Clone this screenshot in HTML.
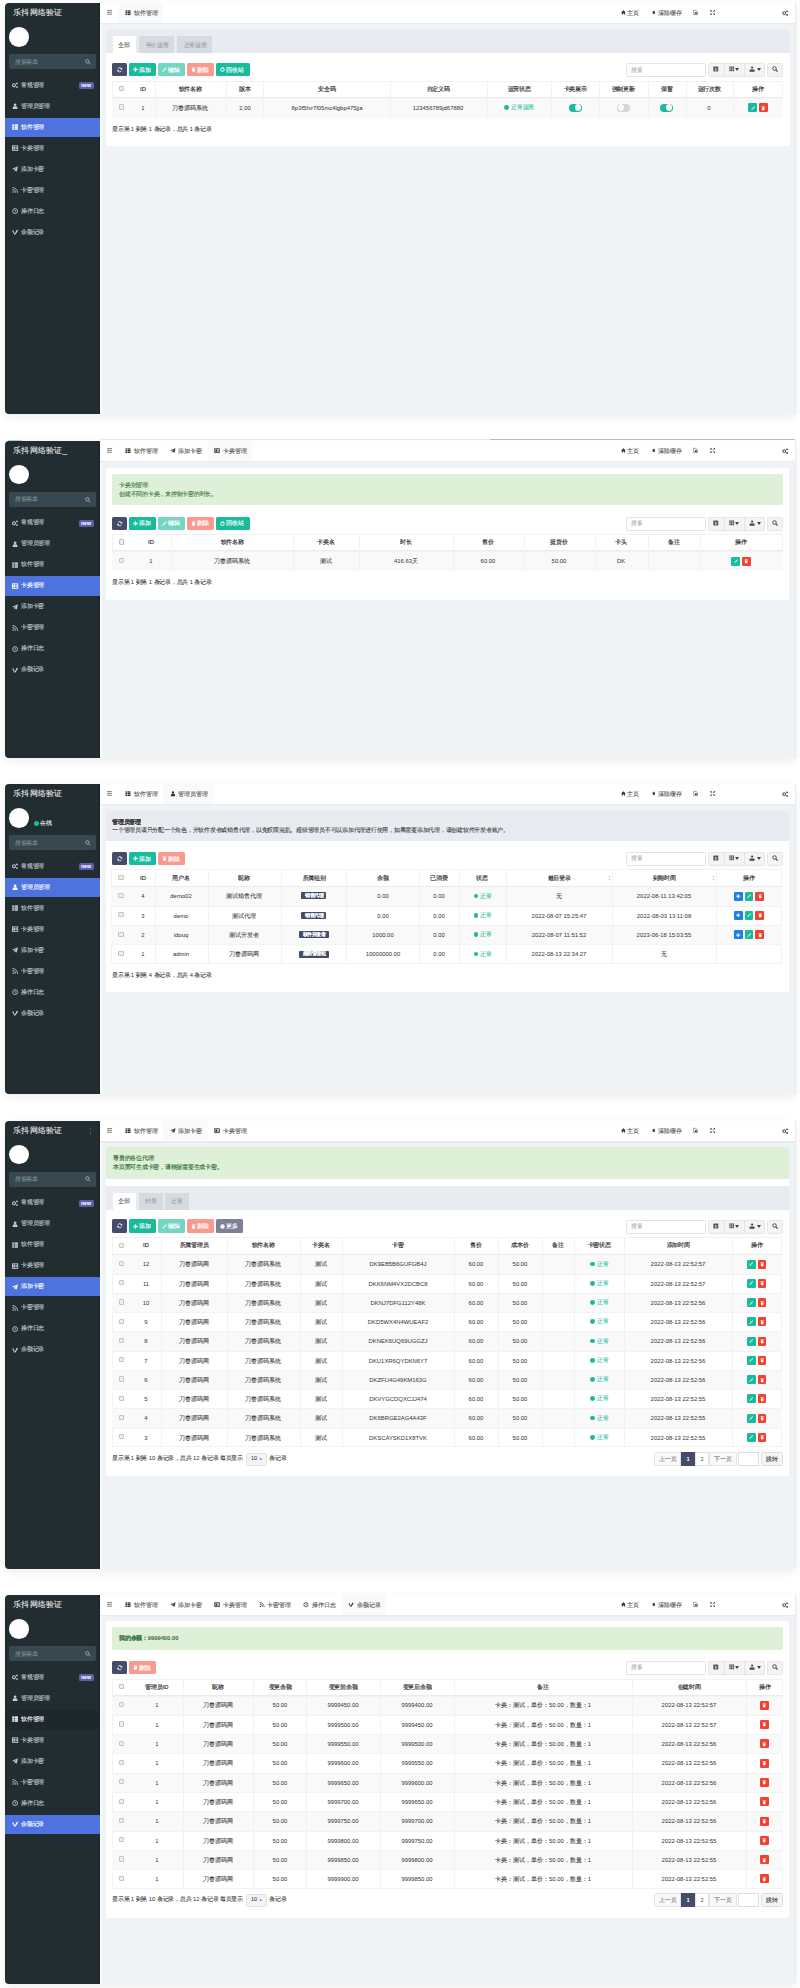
<!DOCTYPE html>
<html><head><meta charset="utf-8"><title>乐抖网络验证</title>
<style>
html,body{margin:0;padding:0;background:#fff;}
body{position:relative;width:800px;height:1988px;overflow:hidden;font-family:"Liberation Sans", sans-serif;}
div{position:absolute;}
.t{white-space:nowrap;line-height:1;transform:scale(0.25);transform-origin:0 0;}
.ct{white-space:nowrap;line-height:1;transform:translate(-50%,-50%) scale(0.25);}
.ic{position:absolute;overflow:visible;}
</style></head><body>
<div style="left:5.00px;top:3.00px;width:791.00px;height:411.00px;background:#f0f3f6;border-radius:4px;box-shadow:0 3px 10px rgba(0,0,0,0.07);"></div>
<div style="left:5.00px;top:3.00px;width:95.00px;height:411.00px;background:#222d32;border-radius:4px 0 0 4px;"></div>
<div style="left:98.60px;top:3.00px;width:1.40px;height:411.00px;background:#1a2226;"></div>
<div style="left:100.00px;top:22.50px;width:1.50px;height:391.50px;background:#fbfcfd;"></div>
<div style="left:100.00px;top:3.00px;width:696.00px;height:19.50px;background:#fff;border-radius:0 4px 0 0;"></div>
<div style="left:100.00px;top:22.50px;width:696.00px;height:1.50px;background:#e9ecef;"></div>
<div style="left:794.90px;top:3.00px;width:1.00px;height:411.00px;background:#e9ebed;"></div>
<div class="t" style="left:12.80px;top:8.30px;font-size:32.800px;color:#f4f4f4;font-weight:normal;-webkit-text-stroke:0.240px #fff;">乐抖网络验证</div>
<div style="left:9.00px;top:27.00px;width:20.00px;height:19.50px;background:#fff;border-radius:50%;"></div>
<div style="left:9.40px;top:54.20px;width:86.20px;height:15.00px;background:#374850;border-radius:2px;"></div>
<div class="t" style="left:15.00px;top:58.70px;font-size:22.400px;color:#7b8e96;font-weight:normal;-webkit-text-stroke:0.280px #7b8e96;">搜索菜单</div>
<svg class="ic" style="left:85.00px;top:58.80px;width:5.8px;height:5.8px;color:#aebbc1" viewBox="0 0 16 16"><circle cx="6.5" cy="6.5" r="4.6" fill="none" stroke="currentColor" stroke-width="2.2"/><path d="M10 10 L14.5 14.5" stroke="currentColor" stroke-width="2.6"/></svg>
<svg class="ic" style="left:12.30px;top:82.10px;width:6.2px;height:6.2px;color:#c2ced3" viewBox="0 0 16 16"><circle cx="5.2" cy="8.5" r="3.8" fill="none" stroke="currentColor" stroke-width="2.6"/><circle cx="12.8" cy="3.6" r="2.3" fill="currentColor"/><circle cx="12.8" cy="13.2" r="2.3" fill="currentColor"/></svg>
<div class="t" style="left:21.20px;top:81.60px;font-size:23.200px;color:#c2ced3;font-weight:normal;-webkit-text-stroke:0.400px #c2ced3;">常规管理</div>
<div style="left:78.70px;top:82.00px;width:15.20px;height:7.20px;background:#605ca8;border-radius:1.5px;"></div>
<div class="ct" style="left:86.30px;top:85.10px;font-size:20.800px;color:#fff;font-weight:bold;-webkit-text-stroke:0.280px #fff;"><span style="-webkit-text-stroke:0.140px #fff;">new</span></div>
<svg class="ic" style="left:12.30px;top:103.10px;width:6.2px;height:6.2px;color:#c2ced3" viewBox="0 0 16 16"><circle cx="8" cy="4.5" r="3.5" fill="currentColor"/><path d="M1.5 15.5 C1.5 10 4 8.5 8 8.5 C12 8.5 14.5 10 14.5 15.5Z" fill="currentColor"/></svg>
<div class="t" style="left:21.20px;top:102.60px;font-size:23.200px;color:#c2ced3;font-weight:normal;-webkit-text-stroke:0.400px #c2ced3;">管理员管理</div>
<div style="left:5.00px;top:117.60px;width:95.00px;height:19.20px;background:#4e73df;"></div>
<svg class="ic" style="left:12.30px;top:124.10px;width:6.2px;height:6.2px;color:#fff" viewBox="0 0 16 16"><rect x="0.5" y="1" width="4.5" height="4" fill="currentColor"/><rect x="0.5" y="6" width="4.5" height="4" fill="currentColor"/><rect x="0.5" y="11" width="4.5" height="4" fill="currentColor"/><rect x="6.5" y="1" width="9" height="4" fill="currentColor"/><rect x="6.5" y="6" width="9" height="4" fill="currentColor"/><rect x="6.5" y="11" width="9" height="4" fill="currentColor"/></svg>
<div class="t" style="left:21.20px;top:123.60px;font-size:23.200px;color:#fff;font-weight:normal;-webkit-text-stroke:0.400px #fff;">软件管理</div>
<svg class="ic" style="left:12.30px;top:145.10px;width:6.2px;height:6.2px;color:#c2ced3" viewBox="0 0 16 16"><rect x="1.2" y="2.2" width="13.6" height="11.6" fill="none" stroke="currentColor" stroke-width="2.4"/><rect x="3.5" y="4.5" width="4.5" height="7" fill="currentColor"/><rect x="9" y="5" width="4" height="2" fill="currentColor"/><rect x="9" y="8.5" width="4" height="2" fill="currentColor"/></svg>
<div class="t" style="left:21.20px;top:144.60px;font-size:23.200px;color:#c2ced3;font-weight:normal;-webkit-text-stroke:0.400px #c2ced3;">卡类管理</div>
<svg class="ic" style="left:12.30px;top:166.10px;width:6.2px;height:6.2px;color:#c2ced3" viewBox="0 0 16 16"><path d="M15.5 0.5 L0.5 7 L5 9 L13 3 L6.5 10 L6.5 15 L9 11.5 L12 15Z" fill="currentColor"/></svg>
<div class="t" style="left:21.20px;top:165.60px;font-size:23.200px;color:#c2ced3;font-weight:normal;-webkit-text-stroke:0.400px #c2ced3;">添加卡密</div>
<svg class="ic" style="left:12.30px;top:187.10px;width:6.2px;height:6.2px;color:#c2ced3" viewBox="0 0 16 16"><circle cx="3" cy="13" r="2" fill="currentColor"/><path d="M1 6.5 A8.5 8.5 0 0 1 9.5 15" fill="none" stroke="currentColor" stroke-width="2.2"/><path d="M1 1.5 A13.5 13.5 0 0 1 14.5 15" fill="none" stroke="currentColor" stroke-width="2.2"/></svg>
<div class="t" style="left:21.20px;top:186.60px;font-size:23.200px;color:#c2ced3;font-weight:normal;-webkit-text-stroke:0.400px #c2ced3;">卡密管理</div>
<svg class="ic" style="left:12.30px;top:208.10px;width:6.2px;height:6.2px;color:#c2ced3" viewBox="0 0 16 16"><circle cx="8" cy="8" r="6.3" fill="none" stroke="currentColor" stroke-width="2.2"/><path d="M8 4.5 V8.5 H10.5" fill="none" stroke="currentColor" stroke-width="1.8"/></svg>
<div class="t" style="left:21.20px;top:207.60px;font-size:23.200px;color:#c2ced3;font-weight:normal;-webkit-text-stroke:0.400px #c2ced3;">操作日志</div>
<svg class="ic" style="left:12.30px;top:229.10px;width:6.2px;height:6.2px;color:#c2ced3" viewBox="0 0 16 16"><path d="M0.5 4 L3.5 3.5 L7 12 L12 2.5 C14 1.5 16 3 15 5 L9 14 L5.5 14 Z" fill="currentColor"/></svg>
<div class="t" style="left:21.20px;top:228.60px;font-size:23.200px;color:#c2ced3;font-weight:normal;-webkit-text-stroke:0.400px #c2ced3;">余额记录</div>
<svg class="ic" style="left:107.00px;top:10.40px;width:5px;height:4.8px;color:#8c8c8c" viewBox="0 0 16 16"><rect x="0" y="0" width="16" height="3.6" fill="currentColor"/><rect x="0" y="6.2" width="16" height="3.6" fill="currentColor"/><rect x="0" y="12.4" width="16" height="3.6" fill="currentColor"/></svg>
<div style="left:118.50px;top:3.00px;width:44.60px;height:19.50px;background:#fafafa;"></div>
<svg class="ic" style="left:125.00px;top:10.00px;width:6px;height:5.4px;color:#333" viewBox="0 0 16 16"><rect x="0.5" y="1" width="4.5" height="4" fill="currentColor"/><rect x="0.5" y="6" width="4.5" height="4" fill="currentColor"/><rect x="0.5" y="11" width="4.5" height="4" fill="currentColor"/><rect x="6.5" y="1" width="9" height="4" fill="currentColor"/><rect x="6.5" y="6" width="9" height="4" fill="currentColor"/><rect x="6.5" y="11" width="9" height="4" fill="currentColor"/></svg>
<div class="t" style="left:133.50px;top:10.20px;font-size:23.600px;color:#4a4a4a;font-weight:normal;-webkit-text-stroke:0.360px #4a4a4a;">软件管理</div>
<svg class="ic" style="left:620.80px;top:10.00px;width:4.8px;height:4.8px;color:#333" viewBox="0 0 16 16"><path d="M8 1 L0.5 8 L2.5 8 L2.5 15 L6.5 15 L6.5 10.5 L9.5 10.5 L9.5 15 L13.5 15 L13.5 8 L15.5 8Z" fill="currentColor"/></svg>
<div class="t" style="left:627.00px;top:10.20px;font-size:23.600px;color:#555;font-weight:normal;-webkit-text-stroke:0.400px #555;">主页</div>
<svg class="ic" style="left:651.70px;top:10.00px;width:3.6px;height:4.8px;color:#333" viewBox="0 0 16 16"><rect x="2" y="2" width="12" height="2.5" fill="currentColor"/><rect x="6" y="0.5" width="4" height="2" fill="currentColor"/><path d="M3 5.5 H13 L12 15.5 H4Z" fill="currentColor"/></svg>
<div class="t" style="left:658.00px;top:10.20px;font-size:23.600px;color:#555;font-weight:normal;-webkit-text-stroke:0.400px #555;">清除缓存</div>
<svg class="ic" style="left:693.00px;top:10.00px;width:5.2px;height:5px;color:#444" viewBox="0 0 16 16"><path d="M2 1 H10 L14 5 V15 H2Z" fill="none" stroke="currentColor" stroke-width="1.6"/><rect x="6" y="7" width="6" height="6" fill="currentColor"/></svg>
<svg class="ic" style="left:710.00px;top:10.00px;width:5.4px;height:5px;color:#222" viewBox="0 0 16 16"><path d="M1 1 L6 6 M15 1 L10 6 M1 15 L6 10 M15 15 L10 10" stroke="currentColor" stroke-width="2.2"/><path d="M1 1 H5.5 L1 5.5Z M15 1 H10.5 L15 5.5Z M1 15 H5.5 L1 10.5Z M15 15 H10.5 L15 10.5Z" fill="currentColor"/></svg>
<svg class="ic" style="left:782.40px;top:10.40px;width:6.6px;height:6px;color:#333" viewBox="0 0 16 16"><circle cx="5.2" cy="8.5" r="3.8" fill="none" stroke="currentColor" stroke-width="2.6"/><circle cx="12.8" cy="3.6" r="2.3" fill="currentColor"/><circle cx="12.8" cy="13.2" r="2.3" fill="currentColor"/></svg>
<div style="left:105.50px;top:29.50px;width:684.00px;height:116.00px;background:#fff;border-radius:2px;"></div>
<div style="left:105.50px;top:29.50px;width:684.00px;height:23.00px;background:#e8ecf0;border-radius:2px 2px 0 0;"></div>
<div style="left:112.50px;top:36.00px;width:23.50px;height:16.50px;background:#fff;"></div>
<div class="ct" style="left:124.25px;top:44.60px;font-size:23.000px;color:#555;font-weight:normal;-webkit-text-stroke:0.280px #555;">全部</div>
<div style="left:139.00px;top:36.00px;width:35.00px;height:16.50px;background:#d5dbe1;"></div>
<div class="ct" style="left:156.50px;top:44.60px;font-size:23.000px;color:#999;font-weight:normal;-webkit-text-stroke:0.280px #999;">停止运营</div>
<div style="left:177.00px;top:36.00px;width:35.00px;height:16.50px;background:#d5dbe1;"></div>
<div class="ct" style="left:194.50px;top:44.60px;font-size:23.000px;color:#999;font-weight:normal;-webkit-text-stroke:0.280px #999;">正常运营</div>
<div style="left:112.00px;top:63.00px;width:15.00px;height:13.20px;background:#444c69;border-radius:1.5px;"></div>
<svg class="ic" style="left:116.75px;top:66.85px;width:5.5px;height:5.5px;color:#fff" viewBox="0 0 16 16"><path d="M13.2 6 A5.5 5.5 0 0 0 3 5" fill="none" stroke="currentColor" stroke-width="2.5"/><path d="M2.8 10 A5.5 5.5 0 0 0 13 11" fill="none" stroke="currentColor" stroke-width="2.5"/><path d="M15 2 L15 8 L9.5 6.5Z M1 14 L1 8 L6.5 9.5Z" fill="currentColor"/></svg>
<div style="left:129.00px;top:63.00px;width:27.00px;height:13.20px;background:#18bc9c;border-radius:1.5px;"></div>
<svg class="ic" style="left:133.20px;top:67.10px;width:5px;height:5px;color:#fff" viewBox="0 0 16 16"><rect x="6" y="1" width="4" height="14" fill="currentColor"/><rect x="1" y="6" width="14" height="4" fill="currentColor"/></svg>
<div class="t" style="left:138.80px;top:66.70px;font-size:23.200px;color:#fff;font-weight:normal;-webkit-text-stroke:0.600px #fff;">添加</div>
<div style="left:158.00px;top:63.00px;width:27.00px;height:13.20px;background:#74d5c2;border-radius:1.5px;"></div>
<svg class="ic" style="left:162.20px;top:67.10px;width:5px;height:5px;color:#fff" viewBox="0 0 16 16"><path d="M13 1 L15 3 L4 14 L1 15 L2 12Z" fill="currentColor"/></svg>
<div class="t" style="left:167.80px;top:66.70px;font-size:23.200px;color:#fff;font-weight:normal;-webkit-text-stroke:0.600px #fff;">编辑</div>
<div style="left:187.00px;top:63.00px;width:27.00px;height:13.20px;background:#fa9a8f;border-radius:1.5px;"></div>
<svg class="ic" style="left:191.20px;top:67.10px;width:5px;height:5px;color:#fff" viewBox="0 0 16 16"><rect x="2" y="2" width="12" height="2.5" fill="currentColor"/><rect x="6" y="0.5" width="4" height="2" fill="currentColor"/><path d="M3 5.5 H13 L12 15.5 H4Z" fill="currentColor"/></svg>
<div class="t" style="left:196.80px;top:66.70px;font-size:23.200px;color:#fff;font-weight:normal;-webkit-text-stroke:0.600px #fff;">删除</div>
<div style="left:216.00px;top:63.00px;width:34.00px;height:13.20px;background:#18bc9c;border-radius:1.5px;"></div>
<svg class="ic" style="left:220.20px;top:67.10px;width:5px;height:5px;color:#fff" viewBox="0 0 16 16"><circle cx="8" cy="8.5" r="5.6" fill="none" stroke="currentColor" stroke-width="3.2"/><path d="M8 0.5 L13 3.5 L8 6.5Z" fill="currentColor"/></svg>
<div class="t" style="left:225.80px;top:66.70px;font-size:23.200px;color:#fff;font-weight:normal;-webkit-text-stroke:0.600px #fff;">回收站</div>
<div style="left:625.50px;top:63.00px;width:80.50px;height:14.00px;background:#fff;border:0.6px solid #e2e5e8;border-radius:1.5px;box-sizing:border-box;"></div>
<div class="t" style="left:631.00px;top:66.70px;font-size:22.400px;color:#aaa;font-weight:normal;-webkit-text-stroke:0.280px #aaa;">搜索</div>
<div style="left:708.20px;top:63.00px;width:56.50px;height:14.00px;background:#f4f4f4;border:0.6px solid #e6e6e6;border-radius:1.5px;box-sizing:border-box;"></div>
<div style="left:723.60px;top:63.00px;width:0.60px;height:14.00px;background:#e4e4e4;"></div>
<div style="left:744.40px;top:63.00px;width:0.60px;height:14.00px;background:#e4e4e4;"></div>
<svg class="ic" style="left:713.30px;top:66.20px;width:5.6px;height:6px;color:#555" viewBox="0 0 16 16"><rect x="1" y="1" width="14" height="14" fill="currentColor"/><rect x="6" y="5" width="4" height="8" fill="#ccc"/></svg>
<svg class="ic" style="left:728.70px;top:66.40px;width:5.4px;height:5.6px;color:#444" viewBox="0 0 16 16"><rect x="1" y="1" width="4" height="4" fill="currentColor"/><rect x="6" y="1" width="4" height="4" fill="currentColor"/><rect x="11" y="1" width="4" height="4" fill="currentColor"/><rect x="1" y="6" width="4" height="4" fill="currentColor"/><rect x="6" y="6" width="4" height="4" fill="currentColor"/><rect x="11" y="6" width="4" height="4" fill="currentColor"/><rect x="1" y="11" width="4" height="4" fill="currentColor"/><rect x="6" y="11" width="4" height="4" fill="currentColor"/><rect x="11" y="11" width="4" height="4" fill="currentColor"/></svg>
<svg class="ic" style="left:735.20px;top:68.00px;width:4px;height:3px;color:#444" viewBox="0 0 16 12"><path d="M0 0 H16 L8 12Z" fill="currentColor"/></svg>
<svg class="ic" style="left:748.90px;top:66.00px;width:6.2px;height:6px;color:#444" viewBox="0 0 16 16"><circle cx="8" cy="4" r="3" fill="currentColor"/><path d="M1 15 L2 9 H14 L15 15Z" fill="currentColor"/></svg>
<svg class="ic" style="left:756.80px;top:68.00px;width:4px;height:3px;color:#444" viewBox="0 0 16 12"><path d="M0 0 H16 L8 12Z" fill="currentColor"/></svg>
<div style="left:767.20px;top:63.00px;width:16.00px;height:14.00px;background:#f4f4f4;border:0.6px solid #e6e6e6;border-radius:1.5px;box-sizing:border-box;"></div>
<svg class="ic" style="left:771.90px;top:66.40px;width:6.2px;height:6.2px;color:#333" viewBox="0 0 16 16"><circle cx="6.5" cy="6.5" r="4.6" fill="none" stroke="currentColor" stroke-width="2.2"/><path d="M10 10 L14.5 14.5" stroke="currentColor" stroke-width="2.6"/></svg>
<div style="left:112.00px;top:81.00px;width:671.00px;height:36.50px;background:#fff;border:0.6px solid #f2f2f2;box-sizing:border-box;"></div>
<div style="left:112.00px;top:97.50px;width:671.00px;height:20.00px;background:#f9f9f9;"></div>
<div style="left:112.00px;top:97.50px;width:671.00px;height:0.60px;background:#f3f3f3;"></div>
<div style="left:112.00px;top:96.90px;width:671.00px;height:1.00px;background:#ebebeb;"></div>
<div style="left:154.50px;top:81.00px;width:0.60px;height:36.50px;background:#f2f2f2;"></div>
<div style="left:226.00px;top:81.00px;width:0.60px;height:36.50px;background:#f2f2f2;"></div>
<div style="left:263.00px;top:81.00px;width:0.60px;height:36.50px;background:#f2f2f2;"></div>
<div style="left:390.00px;top:81.00px;width:0.60px;height:36.50px;background:#f2f2f2;"></div>
<div style="left:486.50px;top:81.00px;width:0.60px;height:36.50px;background:#f2f2f2;"></div>
<div style="left:551.00px;top:81.00px;width:0.60px;height:36.50px;background:#f2f2f2;"></div>
<div style="left:599.40px;top:81.00px;width:0.60px;height:36.50px;background:#f2f2f2;"></div>
<div style="left:647.50px;top:81.00px;width:0.60px;height:36.50px;background:#f2f2f2;"></div>
<div style="left:685.60px;top:81.00px;width:0.60px;height:36.50px;background:#f2f2f2;"></div>
<div style="left:733.00px;top:81.00px;width:0.60px;height:36.50px;background:#f2f2f2;"></div>
<div style="left:118.65px;top:86.15px;width:5.20px;height:5.20px;background:#eeeeee;border:0.6px solid #c4c4c4;border-radius:1px;box-sizing:border-box;"></div>
<div class="ct" style="left:142.50px;top:88.95px;font-size:23.400px;color:#333;font-weight:normal;-webkit-text-stroke:0.680px #333;">ID</div>
<div class="ct" style="left:190.25px;top:88.95px;font-size:23.400px;color:#333;font-weight:normal;-webkit-text-stroke:0.680px #333;">软件名称</div>
<div class="ct" style="left:244.50px;top:88.95px;font-size:23.400px;color:#333;font-weight:normal;-webkit-text-stroke:0.680px #333;">版本</div>
<div class="ct" style="left:326.50px;top:88.95px;font-size:23.400px;color:#333;font-weight:normal;-webkit-text-stroke:0.680px #333;">安全码</div>
<div class="ct" style="left:438.25px;top:88.95px;font-size:23.400px;color:#333;font-weight:normal;-webkit-text-stroke:0.680px #333;">自定义码</div>
<div class="ct" style="left:518.75px;top:88.95px;font-size:23.400px;color:#333;font-weight:normal;-webkit-text-stroke:0.680px #333;">运营状态</div>
<div class="ct" style="left:575.20px;top:88.95px;font-size:23.400px;color:#333;font-weight:normal;-webkit-text-stroke:0.680px #333;">卡类展示</div>
<div class="ct" style="left:623.45px;top:88.95px;font-size:23.400px;color:#333;font-weight:normal;-webkit-text-stroke:0.680px #333;">强制更新</div>
<div class="ct" style="left:666.55px;top:88.95px;font-size:23.400px;color:#333;font-weight:normal;-webkit-text-stroke:0.680px #333;">弹窗</div>
<div class="ct" style="left:709.30px;top:88.95px;font-size:23.400px;color:#333;font-weight:normal;-webkit-text-stroke:0.680px #333;">运行次数</div>
<div class="ct" style="left:758.00px;top:88.95px;font-size:23.400px;color:#333;font-weight:normal;-webkit-text-stroke:0.680px #333;">操作</div>
<div style="left:118.65px;top:104.40px;width:5.20px;height:5.20px;background:#eeeeee;border:0.6px solid #c4c4c4;border-radius:1px;box-sizing:border-box;"></div>
<div class="ct" style="left:142.50px;top:107.80px;font-size:23.600px;color:#3a3a3a;font-weight:normal;-webkit-text-stroke:0.280px #3a3a3a;"><span style="-webkit-text-stroke:0.140px #3a3a3a;">1</span></div>
<div class="ct" style="left:190.25px;top:107.80px;font-size:23.600px;color:#3a3a3a;font-weight:normal;-webkit-text-stroke:0.280px #3a3a3a;">刀春源码系统</div>
<div class="ct" style="left:244.50px;top:107.80px;font-size:23.600px;color:#3a3a3a;font-weight:normal;-webkit-text-stroke:0.280px #3a3a3a;"><span style="-webkit-text-stroke:0.140px #3a3a3a;">2.00</span></div>
<div class="ct" style="left:326.50px;top:107.80px;font-size:23.600px;color:#3a3a3a;font-weight:normal;-webkit-text-stroke:0.280px #3a3a3a;"><span style="-webkit-text-stroke:0.140px #3a3a3a;">8p3f5fxr7f05mc4lgbp475jja</span></div>
<div class="ct" style="left:438.25px;top:107.80px;font-size:23.600px;color:#3a3a3a;font-weight:normal;-webkit-text-stroke:0.280px #3a3a3a;"><span style="-webkit-text-stroke:0.140px #3a3a3a;">123456789jd67880</span></div>
<div style="left:504.15px;top:105.10px;width:4.80px;height:4.80px;background:#18bc9c;border-radius:50%;"></div>
<div class="t" style="left:510.75px;top:104.20px;font-size:23.200px;color:#18bc9c;font-weight:normal;-webkit-text-stroke:0.320px #18bc9c;">正常运营</div>
<div style="left:568.80px;top:103.50px;width:12.80px;height:8.00px;background:#18bc9c;border-radius:4px;"></div>
<div style="left:574.50px;top:104.40px;width:6.20px;height:6.20px;background:#fff;border-radius:50%;box-shadow:0 0 0.5px rgba(0,0,0,0.3);"></div>
<div style="left:617.05px;top:103.50px;width:12.80px;height:8.00px;background:#d2d6de;border-radius:4px;"></div>
<div style="left:617.95px;top:104.40px;width:6.20px;height:6.20px;background:#fff;border-radius:50%;box-shadow:0 0 0.5px rgba(0,0,0,0.3);"></div>
<div style="left:660.15px;top:103.50px;width:12.80px;height:8.00px;background:#18bc9c;border-radius:4px;"></div>
<div style="left:665.85px;top:104.40px;width:6.20px;height:6.20px;background:#fff;border-radius:50%;box-shadow:0 0 0.5px rgba(0,0,0,0.3);"></div>
<div class="ct" style="left:709.30px;top:107.80px;font-size:23.600px;color:#3a3a3a;font-weight:normal;-webkit-text-stroke:0.280px #3a3a3a;"><span style="-webkit-text-stroke:0.140px #3a3a3a;">0</span></div>
<div style="left:748.30px;top:103.10px;width:8.80px;height:9.00px;background:#18bc9c;border-radius:1.2px;"></div>
<svg class="ic" style="left:750.60px;top:105.50px;width:4.4px;height:4.4px;color:#fff" viewBox="0 0 16 16"><path d="M13 1 L15 3 L4 14 L1 15 L2 12Z" fill="currentColor"/></svg>
<div style="left:758.90px;top:103.10px;width:8.80px;height:9.00px;background:#f3402f;border-radius:1.2px;"></div>
<svg class="ic" style="left:761.20px;top:105.50px;width:4.4px;height:4.4px;color:#fff" viewBox="0 0 16 16"><rect x="2" y="2" width="12" height="2.5" fill="currentColor"/><rect x="6" y="0.5" width="4" height="2" fill="currentColor"/><path d="M3 5.5 H13 L12 15.5 H4Z" fill="currentColor"/></svg>
<div class="t" style="left:112.20px;top:126.00px;font-size:23.000px;color:#333;font-weight:normal;-webkit-text-stroke:0.280px #333;">显示第<span style="-webkit-text-stroke:0.140px #333;"> 1 </span>到第<span style="-webkit-text-stroke:0.140px #333;"> 1 </span>条记录，总共<span style="-webkit-text-stroke:0.140px #333;"> 1 </span>条记录</div>
<div style="left:5.00px;top:440.75px;width:791.00px;height:317.50px;background:#f0f3f6;border-radius:4px;box-shadow:0 3px 10px rgba(0,0,0,0.07);"></div>
<div style="left:5.00px;top:440.75px;width:95.00px;height:317.50px;background:#222d32;border-radius:4px 0 0 4px;"></div>
<div style="left:98.60px;top:440.75px;width:1.40px;height:317.50px;background:#1a2226;"></div>
<div style="left:100.00px;top:460.95px;width:1.50px;height:297.30px;background:#fbfcfd;"></div>
<div style="left:100.00px;top:440.75px;width:696.00px;height:20.20px;background:#fff;border-radius:0 4px 0 0;"></div>
<div style="left:100.00px;top:460.95px;width:696.00px;height:1.50px;background:#e9ecef;"></div>
<div style="left:794.90px;top:440.75px;width:1.00px;height:317.50px;background:#e9ebed;"></div>
<div class="t" style="left:12.80px;top:446.05px;font-size:32.800px;color:#f4f4f4;font-weight:normal;-webkit-text-stroke:0.240px #fff;">乐抖网络验证<span style="-webkit-text-stroke:0.140px #f4f4f4;">_</span></div>
<div style="left:9.00px;top:464.75px;width:20.00px;height:19.50px;background:#fff;border-radius:50%;"></div>
<div style="left:9.40px;top:491.95px;width:86.20px;height:15.00px;background:#374850;border-radius:2px;"></div>
<div class="t" style="left:15.00px;top:496.45px;font-size:22.400px;color:#7b8e96;font-weight:normal;-webkit-text-stroke:0.280px #7b8e96;">搜索菜单</div>
<svg class="ic" style="left:85.00px;top:496.55px;width:5.8px;height:5.8px;color:#aebbc1" viewBox="0 0 16 16"><circle cx="6.5" cy="6.5" r="4.6" fill="none" stroke="currentColor" stroke-width="2.2"/><path d="M10 10 L14.5 14.5" stroke="currentColor" stroke-width="2.6"/></svg>
<svg class="ic" style="left:12.30px;top:519.85px;width:6.2px;height:6.2px;color:#c2ced3" viewBox="0 0 16 16"><circle cx="5.2" cy="8.5" r="3.8" fill="none" stroke="currentColor" stroke-width="2.6"/><circle cx="12.8" cy="3.6" r="2.3" fill="currentColor"/><circle cx="12.8" cy="13.2" r="2.3" fill="currentColor"/></svg>
<div class="t" style="left:21.20px;top:519.35px;font-size:23.200px;color:#c2ced3;font-weight:normal;-webkit-text-stroke:0.400px #c2ced3;">常规管理</div>
<div style="left:78.70px;top:519.75px;width:15.20px;height:7.20px;background:#605ca8;border-radius:1.5px;"></div>
<div class="ct" style="left:86.30px;top:522.85px;font-size:20.800px;color:#fff;font-weight:bold;-webkit-text-stroke:0.280px #fff;"><span style="-webkit-text-stroke:0.140px #fff;">new</span></div>
<svg class="ic" style="left:12.30px;top:540.85px;width:6.2px;height:6.2px;color:#c2ced3" viewBox="0 0 16 16"><circle cx="8" cy="4.5" r="3.5" fill="currentColor"/><path d="M1.5 15.5 C1.5 10 4 8.5 8 8.5 C12 8.5 14.5 10 14.5 15.5Z" fill="currentColor"/></svg>
<div class="t" style="left:21.20px;top:540.35px;font-size:23.200px;color:#c2ced3;font-weight:normal;-webkit-text-stroke:0.400px #c2ced3;">管理员管理</div>
<svg class="ic" style="left:12.30px;top:561.85px;width:6.2px;height:6.2px;color:#c2ced3" viewBox="0 0 16 16"><rect x="0.5" y="1" width="4.5" height="4" fill="currentColor"/><rect x="0.5" y="6" width="4.5" height="4" fill="currentColor"/><rect x="0.5" y="11" width="4.5" height="4" fill="currentColor"/><rect x="6.5" y="1" width="9" height="4" fill="currentColor"/><rect x="6.5" y="6" width="9" height="4" fill="currentColor"/><rect x="6.5" y="11" width="9" height="4" fill="currentColor"/></svg>
<div class="t" style="left:21.20px;top:561.35px;font-size:23.200px;color:#c2ced3;font-weight:normal;-webkit-text-stroke:0.400px #c2ced3;">软件管理</div>
<div style="left:5.00px;top:576.35px;width:95.00px;height:19.20px;background:#4e73df;"></div>
<svg class="ic" style="left:12.30px;top:582.85px;width:6.2px;height:6.2px;color:#fff" viewBox="0 0 16 16"><rect x="1.2" y="2.2" width="13.6" height="11.6" fill="none" stroke="currentColor" stroke-width="2.4"/><rect x="3.5" y="4.5" width="4.5" height="7" fill="currentColor"/><rect x="9" y="5" width="4" height="2" fill="currentColor"/><rect x="9" y="8.5" width="4" height="2" fill="currentColor"/></svg>
<div class="t" style="left:21.20px;top:582.35px;font-size:23.200px;color:#fff;font-weight:normal;-webkit-text-stroke:0.400px #fff;">卡类管理</div>
<svg class="ic" style="left:12.30px;top:603.85px;width:6.2px;height:6.2px;color:#c2ced3" viewBox="0 0 16 16"><path d="M15.5 0.5 L0.5 7 L5 9 L13 3 L6.5 10 L6.5 15 L9 11.5 L12 15Z" fill="currentColor"/></svg>
<div class="t" style="left:21.20px;top:603.35px;font-size:23.200px;color:#c2ced3;font-weight:normal;-webkit-text-stroke:0.400px #c2ced3;">添加卡密</div>
<svg class="ic" style="left:12.30px;top:624.85px;width:6.2px;height:6.2px;color:#c2ced3" viewBox="0 0 16 16"><circle cx="3" cy="13" r="2" fill="currentColor"/><path d="M1 6.5 A8.5 8.5 0 0 1 9.5 15" fill="none" stroke="currentColor" stroke-width="2.2"/><path d="M1 1.5 A13.5 13.5 0 0 1 14.5 15" fill="none" stroke="currentColor" stroke-width="2.2"/></svg>
<div class="t" style="left:21.20px;top:624.35px;font-size:23.200px;color:#c2ced3;font-weight:normal;-webkit-text-stroke:0.400px #c2ced3;">卡密管理</div>
<svg class="ic" style="left:12.30px;top:645.85px;width:6.2px;height:6.2px;color:#c2ced3" viewBox="0 0 16 16"><circle cx="8" cy="8" r="6.3" fill="none" stroke="currentColor" stroke-width="2.2"/><path d="M8 4.5 V8.5 H10.5" fill="none" stroke="currentColor" stroke-width="1.8"/></svg>
<div class="t" style="left:21.20px;top:645.35px;font-size:23.200px;color:#c2ced3;font-weight:normal;-webkit-text-stroke:0.400px #c2ced3;">操作日志</div>
<svg class="ic" style="left:12.30px;top:666.85px;width:6.2px;height:6.2px;color:#c2ced3" viewBox="0 0 16 16"><path d="M0.5 4 L3.5 3.5 L7 12 L12 2.5 C14 1.5 16 3 15 5 L9 14 L5.5 14 Z" fill="currentColor"/></svg>
<div class="t" style="left:21.20px;top:666.35px;font-size:23.200px;color:#c2ced3;font-weight:normal;-webkit-text-stroke:0.400px #c2ced3;">余额记录</div>
<div style="left:100.00px;top:439.40px;width:390.00px;height:1.00px;background:#e6e8ea;"></div>
<div style="left:490.00px;top:439.40px;width:305.00px;height:1.10px;background:#b9bdbf;"></div>
<div style="left:8.00px;top:439.80px;width:14.00px;height:1.30px;background:#c9cccd;"></div>
<svg class="ic" style="left:107.00px;top:448.15px;width:5px;height:4.8px;color:#8c8c8c" viewBox="0 0 16 16"><rect x="0" y="0" width="16" height="3.6" fill="currentColor"/><rect x="0" y="6.2" width="16" height="3.6" fill="currentColor"/><rect x="0" y="12.4" width="16" height="3.6" fill="currentColor"/></svg>
<svg class="ic" style="left:125.00px;top:447.75px;width:6px;height:5.4px;color:#333" viewBox="0 0 16 16"><rect x="0.5" y="1" width="4.5" height="4" fill="currentColor"/><rect x="0.5" y="6" width="4.5" height="4" fill="currentColor"/><rect x="0.5" y="11" width="4.5" height="4" fill="currentColor"/><rect x="6.5" y="1" width="9" height="4" fill="currentColor"/><rect x="6.5" y="6" width="9" height="4" fill="currentColor"/><rect x="6.5" y="11" width="9" height="4" fill="currentColor"/></svg>
<div class="t" style="left:133.50px;top:447.95px;font-size:23.600px;color:#4a4a4a;font-weight:normal;-webkit-text-stroke:0.360px #4a4a4a;">软件管理</div>
<svg class="ic" style="left:169.60px;top:447.75px;width:6px;height:5.4px;color:#333" viewBox="0 0 16 16"><path d="M15.5 0.5 L0.5 7 L5 9 L13 3 L6.5 10 L6.5 15 L9 11.5 L12 15Z" fill="currentColor"/></svg>
<div class="t" style="left:178.10px;top:447.95px;font-size:23.600px;color:#4a4a4a;font-weight:normal;-webkit-text-stroke:0.360px #4a4a4a;">添加卡密</div>
<div style="left:207.70px;top:440.75px;width:44.60px;height:19.50px;background:#fafafa;"></div>
<svg class="ic" style="left:214.20px;top:447.75px;width:6px;height:5.4px;color:#333" viewBox="0 0 16 16"><rect x="1.2" y="2.2" width="13.6" height="11.6" fill="none" stroke="currentColor" stroke-width="2.4"/><rect x="3.5" y="4.5" width="4.5" height="7" fill="currentColor"/><rect x="9" y="5" width="4" height="2" fill="currentColor"/><rect x="9" y="8.5" width="4" height="2" fill="currentColor"/></svg>
<div class="t" style="left:222.70px;top:447.95px;font-size:23.600px;color:#4a4a4a;font-weight:normal;-webkit-text-stroke:0.360px #4a4a4a;">卡类管理</div>
<svg class="ic" style="left:620.80px;top:447.75px;width:4.8px;height:4.8px;color:#333" viewBox="0 0 16 16"><path d="M8 1 L0.5 8 L2.5 8 L2.5 15 L6.5 15 L6.5 10.5 L9.5 10.5 L9.5 15 L13.5 15 L13.5 8 L15.5 8Z" fill="currentColor"/></svg>
<div class="t" style="left:627.00px;top:447.95px;font-size:23.600px;color:#555;font-weight:normal;-webkit-text-stroke:0.400px #555;">主页</div>
<svg class="ic" style="left:651.70px;top:447.75px;width:3.6px;height:4.8px;color:#333" viewBox="0 0 16 16"><rect x="2" y="2" width="12" height="2.5" fill="currentColor"/><rect x="6" y="0.5" width="4" height="2" fill="currentColor"/><path d="M3 5.5 H13 L12 15.5 H4Z" fill="currentColor"/></svg>
<div class="t" style="left:658.00px;top:447.95px;font-size:23.600px;color:#555;font-weight:normal;-webkit-text-stroke:0.400px #555;">清除缓存</div>
<svg class="ic" style="left:693.00px;top:447.75px;width:5.2px;height:5px;color:#444" viewBox="0 0 16 16"><path d="M2 1 H10 L14 5 V15 H2Z" fill="none" stroke="currentColor" stroke-width="1.6"/><rect x="6" y="7" width="6" height="6" fill="currentColor"/></svg>
<svg class="ic" style="left:710.00px;top:447.75px;width:5.4px;height:5px;color:#222" viewBox="0 0 16 16"><path d="M1 1 L6 6 M15 1 L10 6 M1 15 L6 10 M15 15 L10 10" stroke="currentColor" stroke-width="2.2"/><path d="M1 1 H5.5 L1 5.5Z M15 1 H10.5 L15 5.5Z M1 15 H5.5 L1 10.5Z M15 15 H10.5 L15 10.5Z" fill="currentColor"/></svg>
<svg class="ic" style="left:782.40px;top:448.15px;width:6.6px;height:6px;color:#333" viewBox="0 0 16 16"><circle cx="5.2" cy="8.5" r="3.8" fill="none" stroke="currentColor" stroke-width="2.6"/><circle cx="12.8" cy="3.6" r="2.3" fill="currentColor"/><circle cx="12.8" cy="13.2" r="2.3" fill="currentColor"/></svg>
<div style="left:106.00px;top:468.00px;width:683.00px;height:131.50px;background:#fff;border-radius:2px;"></div>
<div style="left:112.00px;top:474.00px;width:671.00px;height:31.00px;background:#dff0d8;border-radius:2px;"></div>
<div class="t" style="left:119.20px;top:482.40px;font-size:23.200px;color:#3c763d;font-weight:normal;-webkit-text-stroke:0.400px #3c763d;">卡类别管理<span style="-webkit-text-stroke:0.140px #3c763d;">:</span></div>
<div class="t" style="left:119.20px;top:490.80px;font-size:23.200px;color:#3c763d;font-weight:normal;-webkit-text-stroke:0.400px #3c763d;">创建不同的卡类，来控制卡密的时长。</div>
<div style="left:112.00px;top:516.75px;width:15.00px;height:13.20px;background:#444c69;border-radius:1.5px;"></div>
<svg class="ic" style="left:116.75px;top:520.60px;width:5.5px;height:5.5px;color:#fff" viewBox="0 0 16 16"><path d="M13.2 6 A5.5 5.5 0 0 0 3 5" fill="none" stroke="currentColor" stroke-width="2.5"/><path d="M2.8 10 A5.5 5.5 0 0 0 13 11" fill="none" stroke="currentColor" stroke-width="2.5"/><path d="M15 2 L15 8 L9.5 6.5Z M1 14 L1 8 L6.5 9.5Z" fill="currentColor"/></svg>
<div style="left:129.00px;top:516.75px;width:27.00px;height:13.20px;background:#18bc9c;border-radius:1.5px;"></div>
<svg class="ic" style="left:133.20px;top:520.85px;width:5px;height:5px;color:#fff" viewBox="0 0 16 16"><rect x="6" y="1" width="4" height="14" fill="currentColor"/><rect x="1" y="6" width="14" height="4" fill="currentColor"/></svg>
<div class="t" style="left:138.80px;top:520.45px;font-size:23.200px;color:#fff;font-weight:normal;-webkit-text-stroke:0.600px #fff;">添加</div>
<div style="left:158.00px;top:516.75px;width:27.00px;height:13.20px;background:#74d5c2;border-radius:1.5px;"></div>
<svg class="ic" style="left:162.20px;top:520.85px;width:5px;height:5px;color:#fff" viewBox="0 0 16 16"><path d="M13 1 L15 3 L4 14 L1 15 L2 12Z" fill="currentColor"/></svg>
<div class="t" style="left:167.80px;top:520.45px;font-size:23.200px;color:#fff;font-weight:normal;-webkit-text-stroke:0.600px #fff;">编辑</div>
<div style="left:187.00px;top:516.75px;width:27.00px;height:13.20px;background:#fa9a8f;border-radius:1.5px;"></div>
<svg class="ic" style="left:191.20px;top:520.85px;width:5px;height:5px;color:#fff" viewBox="0 0 16 16"><rect x="2" y="2" width="12" height="2.5" fill="currentColor"/><rect x="6" y="0.5" width="4" height="2" fill="currentColor"/><path d="M3 5.5 H13 L12 15.5 H4Z" fill="currentColor"/></svg>
<div class="t" style="left:196.80px;top:520.45px;font-size:23.200px;color:#fff;font-weight:normal;-webkit-text-stroke:0.600px #fff;">删除</div>
<div style="left:216.00px;top:516.75px;width:34.00px;height:13.20px;background:#18bc9c;border-radius:1.5px;"></div>
<svg class="ic" style="left:220.20px;top:520.85px;width:5px;height:5px;color:#fff" viewBox="0 0 16 16"><circle cx="8" cy="8.5" r="5.6" fill="none" stroke="currentColor" stroke-width="3.2"/><path d="M8 0.5 L13 3.5 L8 6.5Z" fill="currentColor"/></svg>
<div class="t" style="left:225.80px;top:520.45px;font-size:23.200px;color:#fff;font-weight:normal;-webkit-text-stroke:0.600px #fff;">回收站</div>
<div style="left:625.50px;top:516.50px;width:80.50px;height:14.00px;background:#fff;border:0.6px solid #e2e5e8;border-radius:1.5px;box-sizing:border-box;"></div>
<div class="t" style="left:631.00px;top:520.20px;font-size:22.400px;color:#aaa;font-weight:normal;-webkit-text-stroke:0.280px #aaa;">搜索</div>
<div style="left:708.20px;top:516.50px;width:56.50px;height:14.00px;background:#f4f4f4;border:0.6px solid #e6e6e6;border-radius:1.5px;box-sizing:border-box;"></div>
<div style="left:723.60px;top:516.50px;width:0.60px;height:14.00px;background:#e4e4e4;"></div>
<div style="left:744.40px;top:516.50px;width:0.60px;height:14.00px;background:#e4e4e4;"></div>
<svg class="ic" style="left:713.30px;top:519.70px;width:5.6px;height:6px;color:#555" viewBox="0 0 16 16"><rect x="1" y="1" width="14" height="14" fill="currentColor"/><rect x="6" y="5" width="4" height="8" fill="#ccc"/></svg>
<svg class="ic" style="left:728.70px;top:519.90px;width:5.4px;height:5.6px;color:#444" viewBox="0 0 16 16"><rect x="1" y="1" width="4" height="4" fill="currentColor"/><rect x="6" y="1" width="4" height="4" fill="currentColor"/><rect x="11" y="1" width="4" height="4" fill="currentColor"/><rect x="1" y="6" width="4" height="4" fill="currentColor"/><rect x="6" y="6" width="4" height="4" fill="currentColor"/><rect x="11" y="6" width="4" height="4" fill="currentColor"/><rect x="1" y="11" width="4" height="4" fill="currentColor"/><rect x="6" y="11" width="4" height="4" fill="currentColor"/><rect x="11" y="11" width="4" height="4" fill="currentColor"/></svg>
<svg class="ic" style="left:735.20px;top:521.50px;width:4px;height:3px;color:#444" viewBox="0 0 16 12"><path d="M0 0 H16 L8 12Z" fill="currentColor"/></svg>
<svg class="ic" style="left:748.90px;top:519.50px;width:6.2px;height:6px;color:#444" viewBox="0 0 16 16"><circle cx="8" cy="4" r="3" fill="currentColor"/><path d="M1 15 L2 9 H14 L15 15Z" fill="currentColor"/></svg>
<svg class="ic" style="left:756.80px;top:521.50px;width:4px;height:3px;color:#444" viewBox="0 0 16 12"><path d="M0 0 H16 L8 12Z" fill="currentColor"/></svg>
<div style="left:767.20px;top:516.50px;width:16.00px;height:14.00px;background:#f4f4f4;border:0.6px solid #e6e6e6;border-radius:1.5px;box-sizing:border-box;"></div>
<svg class="ic" style="left:771.90px;top:519.90px;width:6.2px;height:6.2px;color:#333" viewBox="0 0 16 16"><circle cx="6.5" cy="6.5" r="4.6" fill="none" stroke="currentColor" stroke-width="2.2"/><path d="M10 10 L14.5 14.5" stroke="currentColor" stroke-width="2.6"/></svg>
<div style="left:112.00px;top:534.00px;width:670.50px;height:37.00px;background:#fff;border:0.6px solid #f2f2f2;box-sizing:border-box;"></div>
<div style="left:112.00px;top:551.00px;width:670.50px;height:20.00px;background:#f9f9f9;"></div>
<div style="left:112.00px;top:551.00px;width:670.50px;height:0.60px;background:#f3f3f3;"></div>
<div style="left:112.00px;top:550.40px;width:670.50px;height:1.00px;background:#ebebeb;"></div>
<div style="left:171.00px;top:534.00px;width:0.60px;height:37.00px;background:#f2f2f2;"></div>
<div style="left:293.00px;top:534.00px;width:0.60px;height:37.00px;background:#f2f2f2;"></div>
<div style="left:359.00px;top:534.00px;width:0.60px;height:37.00px;background:#f2f2f2;"></div>
<div style="left:452.50px;top:534.00px;width:0.60px;height:37.00px;background:#f2f2f2;"></div>
<div style="left:524.00px;top:534.00px;width:0.60px;height:37.00px;background:#f2f2f2;"></div>
<div style="left:594.50px;top:534.00px;width:0.60px;height:37.00px;background:#f2f2f2;"></div>
<div style="left:647.80px;top:534.00px;width:0.60px;height:37.00px;background:#f2f2f2;"></div>
<div style="left:699.60px;top:534.00px;width:0.60px;height:37.00px;background:#f2f2f2;"></div>
<div style="left:118.90px;top:539.40px;width:5.20px;height:5.20px;background:#eeeeee;border:0.6px solid #c4c4c4;border-radius:1px;box-sizing:border-box;"></div>
<div class="ct" style="left:151.00px;top:542.20px;font-size:23.400px;color:#333;font-weight:normal;-webkit-text-stroke:0.680px #333;">ID</div>
<div class="ct" style="left:232.00px;top:542.20px;font-size:23.400px;color:#333;font-weight:normal;-webkit-text-stroke:0.680px #333;">软件名称</div>
<div class="ct" style="left:326.00px;top:542.20px;font-size:23.400px;color:#333;font-weight:normal;-webkit-text-stroke:0.680px #333;">卡类名</div>
<div class="ct" style="left:405.75px;top:542.20px;font-size:23.400px;color:#333;font-weight:normal;-webkit-text-stroke:0.680px #333;">时长</div>
<div class="ct" style="left:488.25px;top:542.20px;font-size:23.400px;color:#333;font-weight:normal;-webkit-text-stroke:0.680px #333;">售价</div>
<div class="ct" style="left:559.25px;top:542.20px;font-size:23.400px;color:#333;font-weight:normal;-webkit-text-stroke:0.680px #333;">提货价</div>
<div class="ct" style="left:621.15px;top:542.20px;font-size:23.400px;color:#333;font-weight:normal;-webkit-text-stroke:0.680px #333;">卡头</div>
<div class="ct" style="left:673.70px;top:542.20px;font-size:23.400px;color:#333;font-weight:normal;-webkit-text-stroke:0.680px #333;">备注</div>
<div class="ct" style="left:741.05px;top:542.20px;font-size:23.400px;color:#333;font-weight:normal;-webkit-text-stroke:0.680px #333;">操作</div>
<div style="left:118.90px;top:557.90px;width:5.20px;height:5.20px;background:#eeeeee;border:0.6px solid #c4c4c4;border-radius:1px;box-sizing:border-box;"></div>
<div class="ct" style="left:151.00px;top:561.30px;font-size:23.600px;color:#3a3a3a;font-weight:normal;-webkit-text-stroke:0.280px #3a3a3a;"><span style="-webkit-text-stroke:0.140px #3a3a3a;">1</span></div>
<div class="ct" style="left:232.00px;top:561.30px;font-size:23.600px;color:#3a3a3a;font-weight:normal;-webkit-text-stroke:0.280px #3a3a3a;">刀春源码系统</div>
<div class="ct" style="left:326.00px;top:561.30px;font-size:23.600px;color:#3a3a3a;font-weight:normal;-webkit-text-stroke:0.280px #3a3a3a;">测试</div>
<div class="ct" style="left:405.75px;top:561.30px;font-size:23.600px;color:#3a3a3a;font-weight:normal;-webkit-text-stroke:0.280px #3a3a3a;"><span style="-webkit-text-stroke:0.140px #3a3a3a;">416.63</span>天</div>
<div class="ct" style="left:488.25px;top:561.30px;font-size:23.600px;color:#3a3a3a;font-weight:normal;-webkit-text-stroke:0.280px #3a3a3a;"><span style="-webkit-text-stroke:0.140px #3a3a3a;">60.00</span></div>
<div class="ct" style="left:559.25px;top:561.30px;font-size:23.600px;color:#3a3a3a;font-weight:normal;-webkit-text-stroke:0.280px #3a3a3a;"><span style="-webkit-text-stroke:0.140px #3a3a3a;">50.00</span></div>
<div class="ct" style="left:621.15px;top:561.30px;font-size:23.600px;color:#3a3a3a;font-weight:normal;-webkit-text-stroke:0.280px #3a3a3a;"><span style="-webkit-text-stroke:0.140px #3a3a3a;">DK</span></div>
<div style="left:731.35px;top:556.60px;width:8.80px;height:9.00px;background:#18bc9c;border-radius:1.2px;"></div>
<svg class="ic" style="left:733.65px;top:559.00px;width:4.4px;height:4.4px;color:#fff" viewBox="0 0 16 16"><path d="M13 1 L15 3 L4 14 L1 15 L2 12Z" fill="currentColor"/></svg>
<div style="left:741.95px;top:556.60px;width:8.80px;height:9.00px;background:#f3402f;border-radius:1.2px;"></div>
<svg class="ic" style="left:744.25px;top:559.00px;width:4.4px;height:4.4px;color:#fff" viewBox="0 0 16 16"><rect x="2" y="2" width="12" height="2.5" fill="currentColor"/><rect x="6" y="0.5" width="4" height="2" fill="currentColor"/><path d="M3 5.5 H13 L12 15.5 H4Z" fill="currentColor"/></svg>
<div class="t" style="left:112.20px;top:579.30px;font-size:23.000px;color:#333;font-weight:normal;-webkit-text-stroke:0.280px #333;">显示第<span style="-webkit-text-stroke:0.140px #333;"> 1 </span>到第<span style="-webkit-text-stroke:0.140px #333;"> 1 </span>条记录，总共<span style="-webkit-text-stroke:0.140px #333;"> 1 </span>条记录</div>
<div style="left:5.00px;top:784.00px;width:791.00px;height:310.00px;background:#f0f3f6;border-radius:4px;box-shadow:0 3px 10px rgba(0,0,0,0.07);"></div>
<div style="left:5.00px;top:784.00px;width:95.00px;height:310.00px;background:#222d32;border-radius:4px 0 0 4px;"></div>
<div style="left:98.60px;top:784.00px;width:1.40px;height:310.00px;background:#1a2226;"></div>
<div style="left:100.00px;top:803.50px;width:1.50px;height:290.50px;background:#fbfcfd;"></div>
<div style="left:100.00px;top:784.00px;width:696.00px;height:19.50px;background:#fff;border-radius:0 4px 0 0;"></div>
<div style="left:100.00px;top:803.50px;width:696.00px;height:1.50px;background:#e9ecef;"></div>
<div style="left:794.90px;top:784.00px;width:1.00px;height:310.00px;background:#e9ebed;"></div>
<div class="t" style="left:12.80px;top:789.30px;font-size:32.800px;color:#f4f4f4;font-weight:normal;-webkit-text-stroke:0.240px #fff;">乐抖网络验证</div>
<div style="left:9.00px;top:808.00px;width:20.00px;height:19.50px;background:#fff;border-radius:50%;"></div>
<div style="left:33.50px;top:820.50px;width:5.00px;height:5.00px;background:#18bc9c;border-radius:50%;"></div>
<div class="t" style="left:40.00px;top:820.20px;font-size:24.000px;color:#fff;font-weight:normal;-webkit-text-stroke:0.280px #fff;">在线</div>
<div style="left:9.40px;top:835.20px;width:86.20px;height:15.00px;background:#374850;border-radius:2px;"></div>
<div class="t" style="left:15.00px;top:839.70px;font-size:22.400px;color:#7b8e96;font-weight:normal;-webkit-text-stroke:0.280px #7b8e96;">搜索菜单</div>
<svg class="ic" style="left:85.00px;top:839.80px;width:5.8px;height:5.8px;color:#aebbc1" viewBox="0 0 16 16"><circle cx="6.5" cy="6.5" r="4.6" fill="none" stroke="currentColor" stroke-width="2.2"/><path d="M10 10 L14.5 14.5" stroke="currentColor" stroke-width="2.6"/></svg>
<svg class="ic" style="left:12.30px;top:863.10px;width:6.2px;height:6.2px;color:#c2ced3" viewBox="0 0 16 16"><circle cx="5.2" cy="8.5" r="3.8" fill="none" stroke="currentColor" stroke-width="2.6"/><circle cx="12.8" cy="3.6" r="2.3" fill="currentColor"/><circle cx="12.8" cy="13.2" r="2.3" fill="currentColor"/></svg>
<div class="t" style="left:21.20px;top:862.60px;font-size:23.200px;color:#c2ced3;font-weight:normal;-webkit-text-stroke:0.400px #c2ced3;">常规管理</div>
<div style="left:78.70px;top:863.00px;width:15.20px;height:7.20px;background:#605ca8;border-radius:1.5px;"></div>
<div class="ct" style="left:86.30px;top:866.10px;font-size:20.800px;color:#fff;font-weight:bold;-webkit-text-stroke:0.280px #fff;"><span style="-webkit-text-stroke:0.140px #fff;">new</span></div>
<div style="left:5.00px;top:877.60px;width:95.00px;height:19.20px;background:#4e73df;"></div>
<svg class="ic" style="left:12.30px;top:884.10px;width:6.2px;height:6.2px;color:#fff" viewBox="0 0 16 16"><circle cx="8" cy="4.5" r="3.5" fill="currentColor"/><path d="M1.5 15.5 C1.5 10 4 8.5 8 8.5 C12 8.5 14.5 10 14.5 15.5Z" fill="currentColor"/></svg>
<div class="t" style="left:21.20px;top:883.60px;font-size:23.200px;color:#fff;font-weight:normal;-webkit-text-stroke:0.400px #fff;">管理员管理</div>
<svg class="ic" style="left:12.30px;top:905.10px;width:6.2px;height:6.2px;color:#c2ced3" viewBox="0 0 16 16"><rect x="0.5" y="1" width="4.5" height="4" fill="currentColor"/><rect x="0.5" y="6" width="4.5" height="4" fill="currentColor"/><rect x="0.5" y="11" width="4.5" height="4" fill="currentColor"/><rect x="6.5" y="1" width="9" height="4" fill="currentColor"/><rect x="6.5" y="6" width="9" height="4" fill="currentColor"/><rect x="6.5" y="11" width="9" height="4" fill="currentColor"/></svg>
<div class="t" style="left:21.20px;top:904.60px;font-size:23.200px;color:#c2ced3;font-weight:normal;-webkit-text-stroke:0.400px #c2ced3;">软件管理</div>
<svg class="ic" style="left:12.30px;top:926.10px;width:6.2px;height:6.2px;color:#c2ced3" viewBox="0 0 16 16"><rect x="1.2" y="2.2" width="13.6" height="11.6" fill="none" stroke="currentColor" stroke-width="2.4"/><rect x="3.5" y="4.5" width="4.5" height="7" fill="currentColor"/><rect x="9" y="5" width="4" height="2" fill="currentColor"/><rect x="9" y="8.5" width="4" height="2" fill="currentColor"/></svg>
<div class="t" style="left:21.20px;top:925.60px;font-size:23.200px;color:#c2ced3;font-weight:normal;-webkit-text-stroke:0.400px #c2ced3;">卡类管理</div>
<svg class="ic" style="left:12.30px;top:947.10px;width:6.2px;height:6.2px;color:#c2ced3" viewBox="0 0 16 16"><path d="M15.5 0.5 L0.5 7 L5 9 L13 3 L6.5 10 L6.5 15 L9 11.5 L12 15Z" fill="currentColor"/></svg>
<div class="t" style="left:21.20px;top:946.60px;font-size:23.200px;color:#c2ced3;font-weight:normal;-webkit-text-stroke:0.400px #c2ced3;">添加卡密</div>
<svg class="ic" style="left:12.30px;top:968.10px;width:6.2px;height:6.2px;color:#c2ced3" viewBox="0 0 16 16"><circle cx="3" cy="13" r="2" fill="currentColor"/><path d="M1 6.5 A8.5 8.5 0 0 1 9.5 15" fill="none" stroke="currentColor" stroke-width="2.2"/><path d="M1 1.5 A13.5 13.5 0 0 1 14.5 15" fill="none" stroke="currentColor" stroke-width="2.2"/></svg>
<div class="t" style="left:21.20px;top:967.60px;font-size:23.200px;color:#c2ced3;font-weight:normal;-webkit-text-stroke:0.400px #c2ced3;">卡密管理</div>
<svg class="ic" style="left:12.30px;top:989.10px;width:6.2px;height:6.2px;color:#c2ced3" viewBox="0 0 16 16"><circle cx="8" cy="8" r="6.3" fill="none" stroke="currentColor" stroke-width="2.2"/><path d="M8 4.5 V8.5 H10.5" fill="none" stroke="currentColor" stroke-width="1.8"/></svg>
<div class="t" style="left:21.20px;top:988.60px;font-size:23.200px;color:#c2ced3;font-weight:normal;-webkit-text-stroke:0.400px #c2ced3;">操作日志</div>
<svg class="ic" style="left:12.30px;top:1010.10px;width:6.2px;height:6.2px;color:#c2ced3" viewBox="0 0 16 16"><path d="M0.5 4 L3.5 3.5 L7 12 L12 2.5 C14 1.5 16 3 15 5 L9 14 L5.5 14 Z" fill="currentColor"/></svg>
<div class="t" style="left:21.20px;top:1009.60px;font-size:23.200px;color:#c2ced3;font-weight:normal;-webkit-text-stroke:0.400px #c2ced3;">余额记录</div>
<svg class="ic" style="left:107.00px;top:791.40px;width:5px;height:4.8px;color:#8c8c8c" viewBox="0 0 16 16"><rect x="0" y="0" width="16" height="3.6" fill="currentColor"/><rect x="0" y="6.2" width="16" height="3.6" fill="currentColor"/><rect x="0" y="12.4" width="16" height="3.6" fill="currentColor"/></svg>
<svg class="ic" style="left:125.00px;top:791.00px;width:6px;height:5.4px;color:#333" viewBox="0 0 16 16"><rect x="0.5" y="1" width="4.5" height="4" fill="currentColor"/><rect x="0.5" y="6" width="4.5" height="4" fill="currentColor"/><rect x="0.5" y="11" width="4.5" height="4" fill="currentColor"/><rect x="6.5" y="1" width="9" height="4" fill="currentColor"/><rect x="6.5" y="6" width="9" height="4" fill="currentColor"/><rect x="6.5" y="11" width="9" height="4" fill="currentColor"/></svg>
<div class="t" style="left:133.50px;top:791.20px;font-size:23.600px;color:#4a4a4a;font-weight:normal;-webkit-text-stroke:0.360px #4a4a4a;">软件管理</div>
<div style="left:163.10px;top:784.00px;width:50.50px;height:19.50px;background:#fafafa;"></div>
<svg class="ic" style="left:169.60px;top:791.00px;width:6px;height:5.4px;color:#333" viewBox="0 0 16 16"><circle cx="8" cy="4.5" r="3.5" fill="currentColor"/><path d="M1.5 15.5 C1.5 10 4 8.5 8 8.5 C12 8.5 14.5 10 14.5 15.5Z" fill="currentColor"/></svg>
<div class="t" style="left:178.10px;top:791.20px;font-size:23.600px;color:#4a4a4a;font-weight:normal;-webkit-text-stroke:0.360px #4a4a4a;">管理员管理</div>
<svg class="ic" style="left:620.80px;top:791.00px;width:4.8px;height:4.8px;color:#333" viewBox="0 0 16 16"><path d="M8 1 L0.5 8 L2.5 8 L2.5 15 L6.5 15 L6.5 10.5 L9.5 10.5 L9.5 15 L13.5 15 L13.5 8 L15.5 8Z" fill="currentColor"/></svg>
<div class="t" style="left:627.00px;top:791.20px;font-size:23.600px;color:#555;font-weight:normal;-webkit-text-stroke:0.400px #555;">主页</div>
<svg class="ic" style="left:651.70px;top:791.00px;width:3.6px;height:4.8px;color:#333" viewBox="0 0 16 16"><rect x="2" y="2" width="12" height="2.5" fill="currentColor"/><rect x="6" y="0.5" width="4" height="2" fill="currentColor"/><path d="M3 5.5 H13 L12 15.5 H4Z" fill="currentColor"/></svg>
<div class="t" style="left:658.00px;top:791.20px;font-size:23.600px;color:#555;font-weight:normal;-webkit-text-stroke:0.400px #555;">清除缓存</div>
<svg class="ic" style="left:693.00px;top:791.00px;width:5.2px;height:5px;color:#444" viewBox="0 0 16 16"><path d="M2 1 H10 L14 5 V15 H2Z" fill="none" stroke="currentColor" stroke-width="1.6"/><rect x="6" y="7" width="6" height="6" fill="currentColor"/></svg>
<svg class="ic" style="left:710.00px;top:791.00px;width:5.4px;height:5px;color:#222" viewBox="0 0 16 16"><path d="M1 1 L6 6 M15 1 L10 6 M1 15 L6 10 M15 15 L10 10" stroke="currentColor" stroke-width="2.2"/><path d="M1 1 H5.5 L1 5.5Z M15 1 H10.5 L15 5.5Z M1 15 H5.5 L1 10.5Z M15 15 H10.5 L15 10.5Z" fill="currentColor"/></svg>
<svg class="ic" style="left:782.40px;top:791.40px;width:6.6px;height:6px;color:#333" viewBox="0 0 16 16"><circle cx="5.2" cy="8.5" r="3.8" fill="none" stroke="currentColor" stroke-width="2.6"/><circle cx="12.8" cy="3.6" r="2.3" fill="currentColor"/><circle cx="12.8" cy="13.2" r="2.3" fill="currentColor"/></svg>
<div style="left:105.50px;top:811.00px;width:683.50px;height:181.00px;background:#fff;border-radius:2px;"></div>
<div style="left:105.50px;top:811.00px;width:683.50px;height:30.00px;background:#e8ecf0;border-radius:2px 2px 0 0;"></div>
<div class="t" style="left:112.00px;top:818.70px;font-size:23.200px;color:#333;font-weight:bold;-webkit-text-stroke:0.280px #333;">管理员管理</div>
<div class="t" style="left:112.00px;top:827.40px;font-size:23.400px;color:#333;font-weight:normal;-webkit-text-stroke:0.280px #333;">一个管理员请只分配一个角色，开软件发者或销售代理，以免权限混乱。超级管理员不可以添加代理进行使用，如果需要添加代理，请创建软件开发者账户。</div>
<div style="left:112.00px;top:852.00px;width:15.00px;height:13.20px;background:#444c69;border-radius:1.5px;"></div>
<svg class="ic" style="left:116.75px;top:855.85px;width:5.5px;height:5.5px;color:#fff" viewBox="0 0 16 16"><path d="M13.2 6 A5.5 5.5 0 0 0 3 5" fill="none" stroke="currentColor" stroke-width="2.5"/><path d="M2.8 10 A5.5 5.5 0 0 0 13 11" fill="none" stroke="currentColor" stroke-width="2.5"/><path d="M15 2 L15 8 L9.5 6.5Z M1 14 L1 8 L6.5 9.5Z" fill="currentColor"/></svg>
<div style="left:129.00px;top:852.00px;width:27.00px;height:13.20px;background:#18bc9c;border-radius:1.5px;"></div>
<svg class="ic" style="left:133.20px;top:856.10px;width:5px;height:5px;color:#fff" viewBox="0 0 16 16"><rect x="6" y="1" width="4" height="14" fill="currentColor"/><rect x="1" y="6" width="14" height="4" fill="currentColor"/></svg>
<div class="t" style="left:138.80px;top:855.70px;font-size:23.200px;color:#fff;font-weight:normal;-webkit-text-stroke:0.600px #fff;">添加</div>
<div style="left:158.00px;top:852.00px;width:27.00px;height:13.20px;background:#fa9a8f;border-radius:1.5px;"></div>
<svg class="ic" style="left:162.20px;top:856.10px;width:5px;height:5px;color:#fff" viewBox="0 0 16 16"><rect x="2" y="2" width="12" height="2.5" fill="currentColor"/><rect x="6" y="0.5" width="4" height="2" fill="currentColor"/><path d="M3 5.5 H13 L12 15.5 H4Z" fill="currentColor"/></svg>
<div class="t" style="left:167.80px;top:855.70px;font-size:23.200px;color:#fff;font-weight:normal;-webkit-text-stroke:0.600px #fff;">删除</div>
<div style="left:625.50px;top:851.50px;width:80.50px;height:14.00px;background:#fff;border:0.6px solid #e2e5e8;border-radius:1.5px;box-sizing:border-box;"></div>
<div class="t" style="left:631.00px;top:855.20px;font-size:22.400px;color:#aaa;font-weight:normal;-webkit-text-stroke:0.280px #aaa;">搜索</div>
<div style="left:708.20px;top:851.50px;width:56.50px;height:14.00px;background:#f4f4f4;border:0.6px solid #e6e6e6;border-radius:1.5px;box-sizing:border-box;"></div>
<div style="left:723.60px;top:851.50px;width:0.60px;height:14.00px;background:#e4e4e4;"></div>
<div style="left:744.40px;top:851.50px;width:0.60px;height:14.00px;background:#e4e4e4;"></div>
<svg class="ic" style="left:713.30px;top:854.70px;width:5.6px;height:6px;color:#555" viewBox="0 0 16 16"><rect x="1" y="1" width="14" height="14" fill="currentColor"/><rect x="6" y="5" width="4" height="8" fill="#ccc"/></svg>
<svg class="ic" style="left:728.70px;top:854.90px;width:5.4px;height:5.6px;color:#444" viewBox="0 0 16 16"><rect x="1" y="1" width="4" height="4" fill="currentColor"/><rect x="6" y="1" width="4" height="4" fill="currentColor"/><rect x="11" y="1" width="4" height="4" fill="currentColor"/><rect x="1" y="6" width="4" height="4" fill="currentColor"/><rect x="6" y="6" width="4" height="4" fill="currentColor"/><rect x="11" y="6" width="4" height="4" fill="currentColor"/><rect x="1" y="11" width="4" height="4" fill="currentColor"/><rect x="6" y="11" width="4" height="4" fill="currentColor"/><rect x="11" y="11" width="4" height="4" fill="currentColor"/></svg>
<svg class="ic" style="left:735.20px;top:856.50px;width:4px;height:3px;color:#444" viewBox="0 0 16 12"><path d="M0 0 H16 L8 12Z" fill="currentColor"/></svg>
<svg class="ic" style="left:748.90px;top:854.50px;width:6.2px;height:6px;color:#444" viewBox="0 0 16 16"><circle cx="8" cy="4" r="3" fill="currentColor"/><path d="M1 15 L2 9 H14 L15 15Z" fill="currentColor"/></svg>
<svg class="ic" style="left:756.80px;top:856.50px;width:4px;height:3px;color:#444" viewBox="0 0 16 12"><path d="M0 0 H16 L8 12Z" fill="currentColor"/></svg>
<div style="left:767.20px;top:851.50px;width:16.00px;height:14.00px;background:#f4f4f4;border:0.6px solid #e6e6e6;border-radius:1.5px;box-sizing:border-box;"></div>
<svg class="ic" style="left:771.90px;top:854.90px;width:6.2px;height:6.2px;color:#333" viewBox="0 0 16 16"><circle cx="6.5" cy="6.5" r="4.6" fill="none" stroke="currentColor" stroke-width="2.2"/><path d="M10 10 L14.5 14.5" stroke="currentColor" stroke-width="2.6"/></svg>
<div style="left:111.30px;top:869.40px;width:670.70px;height:94.30px;background:#fff;border:0.6px solid #f2f2f2;box-sizing:border-box;"></div>
<div style="left:111.30px;top:886.30px;width:670.70px;height:19.35px;background:#f9f9f9;"></div>
<div style="left:111.30px;top:886.30px;width:670.70px;height:0.60px;background:#f3f3f3;"></div>
<div style="left:111.30px;top:905.65px;width:670.70px;height:0.60px;background:#f3f3f3;"></div>
<div style="left:111.30px;top:925.00px;width:670.70px;height:19.35px;background:#f9f9f9;"></div>
<div style="left:111.30px;top:925.00px;width:670.70px;height:0.60px;background:#f3f3f3;"></div>
<div style="left:111.30px;top:944.35px;width:670.70px;height:0.60px;background:#f3f3f3;"></div>
<div style="left:111.30px;top:885.70px;width:670.70px;height:1.00px;background:#ebebeb;"></div>
<div style="left:154.80px;top:869.40px;width:0.60px;height:94.30px;background:#f2f2f2;"></div>
<div style="left:207.50px;top:869.40px;width:0.60px;height:94.30px;background:#f2f2f2;"></div>
<div style="left:280.70px;top:869.40px;width:0.60px;height:94.30px;background:#f2f2f2;"></div>
<div style="left:346.30px;top:869.40px;width:0.60px;height:94.30px;background:#f2f2f2;"></div>
<div style="left:419.00px;top:869.40px;width:0.60px;height:94.30px;background:#f2f2f2;"></div>
<div style="left:458.50px;top:869.40px;width:0.60px;height:94.30px;background:#f2f2f2;"></div>
<div style="left:506.00px;top:869.40px;width:0.60px;height:94.30px;background:#f2f2f2;"></div>
<div style="left:611.60px;top:869.40px;width:0.60px;height:94.30px;background:#f2f2f2;"></div>
<div style="left:716.00px;top:869.40px;width:0.60px;height:94.30px;background:#f2f2f2;"></div>
<div style="left:118.35px;top:874.75px;width:5.20px;height:5.20px;background:#eeeeee;border:0.6px solid #c4c4c4;border-radius:1px;box-sizing:border-box;"></div>
<div class="ct" style="left:142.70px;top:877.55px;font-size:23.400px;color:#333;font-weight:normal;-webkit-text-stroke:0.680px #333;">ID</div>
<div class="ct" style="left:181.15px;top:877.55px;font-size:23.400px;color:#333;font-weight:normal;-webkit-text-stroke:0.680px #333;">用户名</div>
<div class="ct" style="left:244.10px;top:877.55px;font-size:23.400px;color:#333;font-weight:normal;-webkit-text-stroke:0.680px #333;">昵称</div>
<div class="ct" style="left:313.50px;top:877.55px;font-size:23.400px;color:#333;font-weight:normal;-webkit-text-stroke:0.680px #333;">所属组别</div>
<div class="ct" style="left:382.65px;top:877.55px;font-size:23.400px;color:#333;font-weight:normal;-webkit-text-stroke:0.680px #333;">余额</div>
<div class="ct" style="left:438.75px;top:877.55px;font-size:23.400px;color:#333;font-weight:normal;-webkit-text-stroke:0.680px #333;">已消费</div>
<div class="ct" style="left:482.25px;top:877.55px;font-size:23.400px;color:#333;font-weight:normal;-webkit-text-stroke:0.680px #333;">状态</div>
<div class="ct" style="left:558.80px;top:877.55px;font-size:23.400px;color:#333;font-weight:normal;-webkit-text-stroke:0.680px #333;">最后登录</div>
<div class="ct" style="left:663.80px;top:877.55px;font-size:23.400px;color:#333;font-weight:normal;-webkit-text-stroke:0.680px #333;">到期时间</div>
<div class="ct" style="left:749.00px;top:877.55px;font-size:23.400px;color:#333;font-weight:normal;-webkit-text-stroke:0.680px #333;">操作</div>
<div style="left:118.35px;top:892.87px;width:5.20px;height:5.20px;background:#eeeeee;border:0.6px solid #c4c4c4;border-radius:1px;box-sizing:border-box;"></div>
<div class="ct" style="left:142.70px;top:896.27px;font-size:23.600px;color:#3a3a3a;font-weight:normal;-webkit-text-stroke:0.280px #3a3a3a;"><span style="-webkit-text-stroke:0.140px #3a3a3a;">4</span></div>
<div class="ct" style="left:181.15px;top:896.27px;font-size:23.600px;color:#3a3a3a;font-weight:normal;-webkit-text-stroke:0.280px #3a3a3a;"><span style="-webkit-text-stroke:0.140px #3a3a3a;">demo02</span></div>
<div class="ct" style="left:244.10px;top:896.27px;font-size:23.600px;color:#3a3a3a;font-weight:normal;-webkit-text-stroke:0.280px #3a3a3a;">测试销售代理</div>
<div style="left:301.10px;top:892.47px;width:24.80px;height:7.00px;background:#444c69;border-radius:1px;"></div>
<div class="ct" style="left:313.50px;top:896.27px;font-size:18.400px;color:#fff;font-weight:bold;-webkit-text-stroke:0.280px #fff;">销售代理</div>
<div class="ct" style="left:382.65px;top:896.27px;font-size:23.600px;color:#3a3a3a;font-weight:normal;-webkit-text-stroke:0.280px #3a3a3a;"><span style="-webkit-text-stroke:0.140px #3a3a3a;">0.00</span></div>
<div class="ct" style="left:438.75px;top:896.27px;font-size:23.600px;color:#3a3a3a;font-weight:normal;-webkit-text-stroke:0.280px #3a3a3a;"><span style="-webkit-text-stroke:0.140px #3a3a3a;">0.00</span></div>
<div style="left:473.65px;top:893.57px;width:4.80px;height:4.80px;background:#18bc9c;border-radius:50%;"></div>
<div class="t" style="left:480.25px;top:892.67px;font-size:23.200px;color:#18bc9c;font-weight:normal;-webkit-text-stroke:0.320px #18bc9c;">正常</div>
<div class="ct" style="left:558.80px;top:896.27px;font-size:23.600px;color:#3a3a3a;font-weight:normal;-webkit-text-stroke:0.280px #3a3a3a;">无</div>
<div class="ct" style="left:663.80px;top:896.27px;font-size:23.600px;color:#3a3a3a;font-weight:normal;-webkit-text-stroke:0.280px #3a3a3a;"><span style="-webkit-text-stroke:0.140px #3a3a3a;">2022-08-11 13:42:05</span></div>
<div style="left:734.00px;top:891.57px;width:8.80px;height:9.00px;background:#1d7fe9;border-radius:1.2px;"></div>
<svg class="ic" style="left:736.30px;top:893.97px;width:4.4px;height:4.4px;color:#fff" viewBox="0 0 16 16"><rect x="6" y="1" width="4" height="14" fill="currentColor"/><rect x="1" y="6" width="14" height="4" fill="currentColor"/></svg>
<div style="left:744.60px;top:891.57px;width:8.80px;height:9.00px;background:#18bc9c;border-radius:1.2px;"></div>
<svg class="ic" style="left:746.90px;top:893.97px;width:4.4px;height:4.4px;color:#fff" viewBox="0 0 16 16"><path d="M13 1 L15 3 L4 14 L1 15 L2 12Z" fill="currentColor"/></svg>
<div style="left:755.20px;top:891.57px;width:8.80px;height:9.00px;background:#f3402f;border-radius:1.2px;"></div>
<svg class="ic" style="left:757.50px;top:893.97px;width:4.4px;height:4.4px;color:#fff" viewBox="0 0 16 16"><rect x="2" y="2" width="12" height="2.5" fill="currentColor"/><rect x="6" y="0.5" width="4" height="2" fill="currentColor"/><path d="M3 5.5 H13 L12 15.5 H4Z" fill="currentColor"/></svg>
<div style="left:118.35px;top:912.22px;width:5.20px;height:5.20px;background:#eeeeee;border:0.6px solid #c4c4c4;border-radius:1px;box-sizing:border-box;"></div>
<div class="ct" style="left:142.70px;top:915.62px;font-size:23.600px;color:#3a3a3a;font-weight:normal;-webkit-text-stroke:0.280px #3a3a3a;"><span style="-webkit-text-stroke:0.140px #3a3a3a;">3</span></div>
<div class="ct" style="left:181.15px;top:915.62px;font-size:23.600px;color:#3a3a3a;font-weight:normal;-webkit-text-stroke:0.280px #3a3a3a;"><span style="-webkit-text-stroke:0.140px #3a3a3a;">demo</span></div>
<div class="ct" style="left:244.10px;top:915.62px;font-size:23.600px;color:#3a3a3a;font-weight:normal;-webkit-text-stroke:0.280px #3a3a3a;">测试代理</div>
<div style="left:301.10px;top:911.82px;width:24.80px;height:7.00px;background:#444c69;border-radius:1px;"></div>
<div class="ct" style="left:313.50px;top:915.62px;font-size:18.400px;color:#fff;font-weight:bold;-webkit-text-stroke:0.280px #fff;">销售代理</div>
<div class="ct" style="left:382.65px;top:915.62px;font-size:23.600px;color:#3a3a3a;font-weight:normal;-webkit-text-stroke:0.280px #3a3a3a;"><span style="-webkit-text-stroke:0.140px #3a3a3a;">0.00</span></div>
<div class="ct" style="left:438.75px;top:915.62px;font-size:23.600px;color:#3a3a3a;font-weight:normal;-webkit-text-stroke:0.280px #3a3a3a;"><span style="-webkit-text-stroke:0.140px #3a3a3a;">0.00</span></div>
<div style="left:473.65px;top:912.92px;width:4.80px;height:4.80px;background:#18bc9c;border-radius:50%;"></div>
<div class="t" style="left:480.25px;top:912.02px;font-size:23.200px;color:#18bc9c;font-weight:normal;-webkit-text-stroke:0.320px #18bc9c;">正常</div>
<div class="ct" style="left:558.80px;top:915.62px;font-size:23.600px;color:#3a3a3a;font-weight:normal;-webkit-text-stroke:0.280px #3a3a3a;"><span style="-webkit-text-stroke:0.140px #3a3a3a;">2022-08-07 15:25:47</span></div>
<div class="ct" style="left:663.80px;top:915.62px;font-size:23.600px;color:#3a3a3a;font-weight:normal;-webkit-text-stroke:0.280px #3a3a3a;"><span style="-webkit-text-stroke:0.140px #3a3a3a;">2022-08-03 13:11:08</span></div>
<div style="left:734.00px;top:910.92px;width:8.80px;height:9.00px;background:#1d7fe9;border-radius:1.2px;"></div>
<svg class="ic" style="left:736.30px;top:913.32px;width:4.4px;height:4.4px;color:#fff" viewBox="0 0 16 16"><rect x="6" y="1" width="4" height="14" fill="currentColor"/><rect x="1" y="6" width="14" height="4" fill="currentColor"/></svg>
<div style="left:744.60px;top:910.92px;width:8.80px;height:9.00px;background:#18bc9c;border-radius:1.2px;"></div>
<svg class="ic" style="left:746.90px;top:913.32px;width:4.4px;height:4.4px;color:#fff" viewBox="0 0 16 16"><path d="M13 1 L15 3 L4 14 L1 15 L2 12Z" fill="currentColor"/></svg>
<div style="left:755.20px;top:910.92px;width:8.80px;height:9.00px;background:#f3402f;border-radius:1.2px;"></div>
<svg class="ic" style="left:757.50px;top:913.32px;width:4.4px;height:4.4px;color:#fff" viewBox="0 0 16 16"><rect x="2" y="2" width="12" height="2.5" fill="currentColor"/><rect x="6" y="0.5" width="4" height="2" fill="currentColor"/><path d="M3 5.5 H13 L12 15.5 H4Z" fill="currentColor"/></svg>
<div style="left:118.35px;top:931.57px;width:5.20px;height:5.20px;background:#eeeeee;border:0.6px solid #c4c4c4;border-radius:1px;box-sizing:border-box;"></div>
<div class="ct" style="left:142.70px;top:934.97px;font-size:23.600px;color:#3a3a3a;font-weight:normal;-webkit-text-stroke:0.280px #3a3a3a;"><span style="-webkit-text-stroke:0.140px #3a3a3a;">2</span></div>
<div class="ct" style="left:181.15px;top:934.97px;font-size:23.600px;color:#3a3a3a;font-weight:normal;-webkit-text-stroke:0.280px #3a3a3a;"><span style="-webkit-text-stroke:0.140px #3a3a3a;">idouq</span></div>
<div class="ct" style="left:244.10px;top:934.97px;font-size:23.600px;color:#3a3a3a;font-weight:normal;-webkit-text-stroke:0.280px #3a3a3a;">测试开发者</div>
<div style="left:298.50px;top:931.17px;width:30.00px;height:7.00px;background:#444c69;border-radius:1px;"></div>
<div class="ct" style="left:313.50px;top:934.97px;font-size:18.400px;color:#fff;font-weight:bold;-webkit-text-stroke:0.280px #fff;">软件开发者</div>
<div class="ct" style="left:382.65px;top:934.97px;font-size:23.600px;color:#3a3a3a;font-weight:normal;-webkit-text-stroke:0.280px #3a3a3a;"><span style="-webkit-text-stroke:0.140px #3a3a3a;">1000.00</span></div>
<div class="ct" style="left:438.75px;top:934.97px;font-size:23.600px;color:#3a3a3a;font-weight:normal;-webkit-text-stroke:0.280px #3a3a3a;"><span style="-webkit-text-stroke:0.140px #3a3a3a;">0.00</span></div>
<div style="left:473.65px;top:932.27px;width:4.80px;height:4.80px;background:#18bc9c;border-radius:50%;"></div>
<div class="t" style="left:480.25px;top:931.37px;font-size:23.200px;color:#18bc9c;font-weight:normal;-webkit-text-stroke:0.320px #18bc9c;">正常</div>
<div class="ct" style="left:558.80px;top:934.97px;font-size:23.600px;color:#3a3a3a;font-weight:normal;-webkit-text-stroke:0.280px #3a3a3a;"><span style="-webkit-text-stroke:0.140px #3a3a3a;">2022-08-07 11:51:52</span></div>
<div class="ct" style="left:663.80px;top:934.97px;font-size:23.600px;color:#3a3a3a;font-weight:normal;-webkit-text-stroke:0.280px #3a3a3a;"><span style="-webkit-text-stroke:0.140px #3a3a3a;">2023-06-18 15:03:55</span></div>
<div style="left:734.00px;top:930.27px;width:8.80px;height:9.00px;background:#1d7fe9;border-radius:1.2px;"></div>
<svg class="ic" style="left:736.30px;top:932.67px;width:4.4px;height:4.4px;color:#fff" viewBox="0 0 16 16"><rect x="6" y="1" width="4" height="14" fill="currentColor"/><rect x="1" y="6" width="14" height="4" fill="currentColor"/></svg>
<div style="left:744.60px;top:930.27px;width:8.80px;height:9.00px;background:#18bc9c;border-radius:1.2px;"></div>
<svg class="ic" style="left:746.90px;top:932.67px;width:4.4px;height:4.4px;color:#fff" viewBox="0 0 16 16"><path d="M13 1 L15 3 L4 14 L1 15 L2 12Z" fill="currentColor"/></svg>
<div style="left:755.20px;top:930.27px;width:8.80px;height:9.00px;background:#f3402f;border-radius:1.2px;"></div>
<svg class="ic" style="left:757.50px;top:932.67px;width:4.4px;height:4.4px;color:#fff" viewBox="0 0 16 16"><rect x="2" y="2" width="12" height="2.5" fill="currentColor"/><rect x="6" y="0.5" width="4" height="2" fill="currentColor"/><path d="M3 5.5 H13 L12 15.5 H4Z" fill="currentColor"/></svg>
<div style="left:118.35px;top:950.92px;width:5.20px;height:5.20px;background:#eeeeee;border:0.6px solid #c4c4c4;border-radius:1px;box-sizing:border-box;"></div>
<div class="ct" style="left:142.70px;top:954.32px;font-size:23.600px;color:#3a3a3a;font-weight:normal;-webkit-text-stroke:0.280px #3a3a3a;"><span style="-webkit-text-stroke:0.140px #3a3a3a;">1</span></div>
<div class="ct" style="left:181.15px;top:954.32px;font-size:23.600px;color:#3a3a3a;font-weight:normal;-webkit-text-stroke:0.280px #3a3a3a;"><span style="-webkit-text-stroke:0.140px #3a3a3a;">admin</span></div>
<div class="ct" style="left:244.10px;top:954.32px;font-size:23.600px;color:#3a3a3a;font-weight:normal;-webkit-text-stroke:0.280px #3a3a3a;">刀春源码网</div>
<div style="left:298.50px;top:950.52px;width:30.00px;height:7.00px;background:#444c69;border-radius:1px;"></div>
<div class="ct" style="left:313.50px;top:954.32px;font-size:18.400px;color:#fff;font-weight:bold;-webkit-text-stroke:0.280px #fff;">超级管理组</div>
<div class="ct" style="left:382.65px;top:954.32px;font-size:23.600px;color:#3a3a3a;font-weight:normal;-webkit-text-stroke:0.280px #3a3a3a;"><span style="-webkit-text-stroke:0.140px #3a3a3a;">10000000.00</span></div>
<div class="ct" style="left:438.75px;top:954.32px;font-size:23.600px;color:#3a3a3a;font-weight:normal;-webkit-text-stroke:0.280px #3a3a3a;"><span style="-webkit-text-stroke:0.140px #3a3a3a;">0.00</span></div>
<div style="left:473.65px;top:951.62px;width:4.80px;height:4.80px;background:#18bc9c;border-radius:50%;"></div>
<div class="t" style="left:480.25px;top:950.72px;font-size:23.200px;color:#18bc9c;font-weight:normal;-webkit-text-stroke:0.320px #18bc9c;">正常</div>
<div class="ct" style="left:558.80px;top:954.32px;font-size:23.600px;color:#3a3a3a;font-weight:normal;-webkit-text-stroke:0.280px #3a3a3a;"><span style="-webkit-text-stroke:0.140px #3a3a3a;">2022-08-13 22:34:27</span></div>
<div class="ct" style="left:663.80px;top:954.32px;font-size:23.600px;color:#3a3a3a;font-weight:normal;-webkit-text-stroke:0.280px #3a3a3a;">无</div>
<svg class="ic" style="left:607.50px;top:874.50px;width:3px;height:6px;color:#ccc" viewBox="0 0 8 16"><path d="M1 6 L4 1 L7 6Z M1 10 L4 15 L7 10Z" fill="currentColor"/></svg>
<svg class="ic" style="left:712.00px;top:874.50px;width:3px;height:6px;color:#ccc" viewBox="0 0 8 16"><path d="M1 6 L4 1 L7 6Z M1 10 L4 15 L7 10Z" fill="currentColor"/></svg>
<div class="t" style="left:112.20px;top:972.10px;font-size:23.000px;color:#333;font-weight:normal;-webkit-text-stroke:0.280px #333;">显示第<span style="-webkit-text-stroke:0.140px #333;"> 1 </span>到第<span style="-webkit-text-stroke:0.140px #333;"> 4 </span>条记录，总共<span style="-webkit-text-stroke:0.140px #333;"> 4 </span>条记录</div>
<div style="left:5.00px;top:1120.50px;width:791.00px;height:448.50px;background:#f0f3f6;border-radius:4px;box-shadow:0 3px 10px rgba(0,0,0,0.07);"></div>
<div style="left:5.00px;top:1120.50px;width:95.00px;height:448.50px;background:#222d32;border-radius:4px 0 0 4px;"></div>
<div style="left:98.60px;top:1120.50px;width:1.40px;height:448.50px;background:#1a2226;"></div>
<div style="left:100.00px;top:1141.00px;width:1.50px;height:428.00px;background:#fbfcfd;"></div>
<div style="left:100.00px;top:1120.50px;width:696.00px;height:20.50px;background:#fff;border-radius:0 4px 0 0;"></div>
<div style="left:100.00px;top:1141.00px;width:696.00px;height:1.50px;background:#e9ecef;"></div>
<div style="left:794.90px;top:1120.50px;width:1.00px;height:448.50px;background:#e9ebed;"></div>
<div class="t" style="left:12.80px;top:1125.80px;font-size:32.800px;color:#f4f4f4;font-weight:normal;-webkit-text-stroke:0.240px #fff;">乐抖网络验证</div>
<div style="left:9.00px;top:1144.50px;width:20.00px;height:19.50px;background:#fff;border-radius:50%;"></div>
<div style="left:9.40px;top:1171.70px;width:86.20px;height:15.00px;background:#374850;border-radius:2px;"></div>
<div class="t" style="left:15.00px;top:1176.20px;font-size:22.400px;color:#7b8e96;font-weight:normal;-webkit-text-stroke:0.280px #7b8e96;">搜索菜单</div>
<svg class="ic" style="left:85.00px;top:1176.30px;width:5.8px;height:5.8px;color:#aebbc1" viewBox="0 0 16 16"><circle cx="6.5" cy="6.5" r="4.6" fill="none" stroke="currentColor" stroke-width="2.2"/><path d="M10 10 L14.5 14.5" stroke="currentColor" stroke-width="2.6"/></svg>
<svg class="ic" style="left:12.30px;top:1199.60px;width:6.2px;height:6.2px;color:#c2ced3" viewBox="0 0 16 16"><circle cx="5.2" cy="8.5" r="3.8" fill="none" stroke="currentColor" stroke-width="2.6"/><circle cx="12.8" cy="3.6" r="2.3" fill="currentColor"/><circle cx="12.8" cy="13.2" r="2.3" fill="currentColor"/></svg>
<div class="t" style="left:21.20px;top:1199.10px;font-size:23.200px;color:#c2ced3;font-weight:normal;-webkit-text-stroke:0.400px #c2ced3;">常规管理</div>
<div style="left:78.70px;top:1199.50px;width:15.20px;height:7.20px;background:#605ca8;border-radius:1.5px;"></div>
<div class="ct" style="left:86.30px;top:1202.60px;font-size:20.800px;color:#fff;font-weight:bold;-webkit-text-stroke:0.280px #fff;"><span style="-webkit-text-stroke:0.140px #fff;">new</span></div>
<svg class="ic" style="left:12.30px;top:1220.60px;width:6.2px;height:6.2px;color:#c2ced3" viewBox="0 0 16 16"><circle cx="8" cy="4.5" r="3.5" fill="currentColor"/><path d="M1.5 15.5 C1.5 10 4 8.5 8 8.5 C12 8.5 14.5 10 14.5 15.5Z" fill="currentColor"/></svg>
<div class="t" style="left:21.20px;top:1220.10px;font-size:23.200px;color:#c2ced3;font-weight:normal;-webkit-text-stroke:0.400px #c2ced3;">管理员管理</div>
<svg class="ic" style="left:12.30px;top:1241.60px;width:6.2px;height:6.2px;color:#c2ced3" viewBox="0 0 16 16"><rect x="0.5" y="1" width="4.5" height="4" fill="currentColor"/><rect x="0.5" y="6" width="4.5" height="4" fill="currentColor"/><rect x="0.5" y="11" width="4.5" height="4" fill="currentColor"/><rect x="6.5" y="1" width="9" height="4" fill="currentColor"/><rect x="6.5" y="6" width="9" height="4" fill="currentColor"/><rect x="6.5" y="11" width="9" height="4" fill="currentColor"/></svg>
<div class="t" style="left:21.20px;top:1241.10px;font-size:23.200px;color:#c2ced3;font-weight:normal;-webkit-text-stroke:0.400px #c2ced3;">软件管理</div>
<svg class="ic" style="left:12.30px;top:1262.60px;width:6.2px;height:6.2px;color:#c2ced3" viewBox="0 0 16 16"><rect x="1.2" y="2.2" width="13.6" height="11.6" fill="none" stroke="currentColor" stroke-width="2.4"/><rect x="3.5" y="4.5" width="4.5" height="7" fill="currentColor"/><rect x="9" y="5" width="4" height="2" fill="currentColor"/><rect x="9" y="8.5" width="4" height="2" fill="currentColor"/></svg>
<div class="t" style="left:21.20px;top:1262.10px;font-size:23.200px;color:#c2ced3;font-weight:normal;-webkit-text-stroke:0.400px #c2ced3;">卡类管理</div>
<div style="left:5.00px;top:1277.10px;width:95.00px;height:19.20px;background:#4e73df;"></div>
<svg class="ic" style="left:12.30px;top:1283.60px;width:6.2px;height:6.2px;color:#fff" viewBox="0 0 16 16"><path d="M15.5 0.5 L0.5 7 L5 9 L13 3 L6.5 10 L6.5 15 L9 11.5 L12 15Z" fill="currentColor"/></svg>
<div class="t" style="left:21.20px;top:1283.10px;font-size:23.200px;color:#fff;font-weight:normal;-webkit-text-stroke:0.400px #fff;">添加卡密</div>
<svg class="ic" style="left:12.30px;top:1304.60px;width:6.2px;height:6.2px;color:#c2ced3" viewBox="0 0 16 16"><circle cx="3" cy="13" r="2" fill="currentColor"/><path d="M1 6.5 A8.5 8.5 0 0 1 9.5 15" fill="none" stroke="currentColor" stroke-width="2.2"/><path d="M1 1.5 A13.5 13.5 0 0 1 14.5 15" fill="none" stroke="currentColor" stroke-width="2.2"/></svg>
<div class="t" style="left:21.20px;top:1304.10px;font-size:23.200px;color:#c2ced3;font-weight:normal;-webkit-text-stroke:0.400px #c2ced3;">卡密管理</div>
<svg class="ic" style="left:12.30px;top:1325.60px;width:6.2px;height:6.2px;color:#c2ced3" viewBox="0 0 16 16"><circle cx="8" cy="8" r="6.3" fill="none" stroke="currentColor" stroke-width="2.2"/><path d="M8 4.5 V8.5 H10.5" fill="none" stroke="currentColor" stroke-width="1.8"/></svg>
<div class="t" style="left:21.20px;top:1325.10px;font-size:23.200px;color:#c2ced3;font-weight:normal;-webkit-text-stroke:0.400px #c2ced3;">操作日志</div>
<svg class="ic" style="left:12.30px;top:1346.60px;width:6.2px;height:6.2px;color:#c2ced3" viewBox="0 0 16 16"><path d="M0.5 4 L3.5 3.5 L7 12 L12 2.5 C14 1.5 16 3 15 5 L9 14 L5.5 14 Z" fill="currentColor"/></svg>
<div class="t" style="left:21.20px;top:1346.10px;font-size:23.200px;color:#c2ced3;font-weight:normal;-webkit-text-stroke:0.400px #c2ced3;">余额记录</div>
<svg class="ic" style="left:107.00px;top:1127.90px;width:5px;height:4.8px;color:#8c8c8c" viewBox="0 0 16 16"><rect x="0" y="0" width="16" height="3.6" fill="currentColor"/><rect x="0" y="6.2" width="16" height="3.6" fill="currentColor"/><rect x="0" y="12.4" width="16" height="3.6" fill="currentColor"/></svg>
<svg class="ic" style="left:125.00px;top:1127.50px;width:6px;height:5.4px;color:#333" viewBox="0 0 16 16"><rect x="0.5" y="1" width="4.5" height="4" fill="currentColor"/><rect x="0.5" y="6" width="4.5" height="4" fill="currentColor"/><rect x="0.5" y="11" width="4.5" height="4" fill="currentColor"/><rect x="6.5" y="1" width="9" height="4" fill="currentColor"/><rect x="6.5" y="6" width="9" height="4" fill="currentColor"/><rect x="6.5" y="11" width="9" height="4" fill="currentColor"/></svg>
<div class="t" style="left:133.50px;top:1127.70px;font-size:23.600px;color:#4a4a4a;font-weight:normal;-webkit-text-stroke:0.360px #4a4a4a;">软件管理</div>
<div style="left:163.10px;top:1120.50px;width:44.60px;height:19.50px;background:#fafafa;"></div>
<svg class="ic" style="left:169.60px;top:1127.50px;width:6px;height:5.4px;color:#333" viewBox="0 0 16 16"><path d="M15.5 0.5 L0.5 7 L5 9 L13 3 L6.5 10 L6.5 15 L9 11.5 L12 15Z" fill="currentColor"/></svg>
<div class="t" style="left:178.10px;top:1127.70px;font-size:23.600px;color:#4a4a4a;font-weight:normal;-webkit-text-stroke:0.360px #4a4a4a;">添加卡密</div>
<svg class="ic" style="left:214.20px;top:1127.50px;width:6px;height:5.4px;color:#333" viewBox="0 0 16 16"><rect x="1.2" y="2.2" width="13.6" height="11.6" fill="none" stroke="currentColor" stroke-width="2.4"/><rect x="3.5" y="4.5" width="4.5" height="7" fill="currentColor"/><rect x="9" y="5" width="4" height="2" fill="currentColor"/><rect x="9" y="8.5" width="4" height="2" fill="currentColor"/></svg>
<div class="t" style="left:222.70px;top:1127.70px;font-size:23.600px;color:#4a4a4a;font-weight:normal;-webkit-text-stroke:0.360px #4a4a4a;">卡类管理</div>
<svg class="ic" style="left:620.80px;top:1127.50px;width:4.8px;height:4.8px;color:#333" viewBox="0 0 16 16"><path d="M8 1 L0.5 8 L2.5 8 L2.5 15 L6.5 15 L6.5 10.5 L9.5 10.5 L9.5 15 L13.5 15 L13.5 8 L15.5 8Z" fill="currentColor"/></svg>
<div class="t" style="left:627.00px;top:1127.70px;font-size:23.600px;color:#555;font-weight:normal;-webkit-text-stroke:0.400px #555;">主页</div>
<svg class="ic" style="left:651.70px;top:1127.50px;width:3.6px;height:4.8px;color:#333" viewBox="0 0 16 16"><rect x="2" y="2" width="12" height="2.5" fill="currentColor"/><rect x="6" y="0.5" width="4" height="2" fill="currentColor"/><path d="M3 5.5 H13 L12 15.5 H4Z" fill="currentColor"/></svg>
<div class="t" style="left:658.00px;top:1127.70px;font-size:23.600px;color:#555;font-weight:normal;-webkit-text-stroke:0.400px #555;">清除缓存</div>
<svg class="ic" style="left:693.00px;top:1127.50px;width:5.2px;height:5px;color:#444" viewBox="0 0 16 16"><path d="M2 1 H10 L14 5 V15 H2Z" fill="none" stroke="currentColor" stroke-width="1.6"/><rect x="6" y="7" width="6" height="6" fill="currentColor"/></svg>
<svg class="ic" style="left:710.00px;top:1127.50px;width:5.4px;height:5px;color:#222" viewBox="0 0 16 16"><path d="M1 1 L6 6 M15 1 L10 6 M1 15 L6 10 M15 15 L10 10" stroke="currentColor" stroke-width="2.2"/><path d="M1 1 H5.5 L1 5.5Z M15 1 H10.5 L15 5.5Z M1 15 H5.5 L1 10.5Z M15 15 H10.5 L15 10.5Z" fill="currentColor"/></svg>
<svg class="ic" style="left:782.40px;top:1127.90px;width:6.6px;height:6px;color:#333" viewBox="0 0 16 16"><circle cx="5.2" cy="8.5" r="3.8" fill="none" stroke="currentColor" stroke-width="2.6"/><circle cx="12.8" cy="3.6" r="2.3" fill="currentColor"/><circle cx="12.8" cy="13.2" r="2.3" fill="currentColor"/></svg>
<div style="left:90.30px;top:1127.70px;width:0.90px;height:1.30px;background:#4f5a5f;"></div>
<div style="left:90.30px;top:1130.00px;width:0.90px;height:1.30px;background:#4f5a5f;"></div>
<div style="left:90.30px;top:1132.30px;width:0.90px;height:1.30px;background:#4f5a5f;"></div>
<div style="left:106.00px;top:1147.00px;width:683.00px;height:328.50px;background:#fff;border-radius:2px;"></div>
<div style="left:106.00px;top:1147.00px;width:683.00px;height:31.50px;background:#dff0d8;border-radius:2px;"></div>
<div class="t" style="left:112.80px;top:1154.80px;font-size:23.200px;color:#3c763d;font-weight:normal;-webkit-text-stroke:0.640px #3c763d;">尊贵的各位代理<span style="-webkit-text-stroke:0.140px #3c763d;">:</span></div>
<div class="t" style="left:112.80px;top:1164.40px;font-size:23.200px;color:#3c763d;font-weight:normal;-webkit-text-stroke:0.640px #3c763d;">本页面可生成卡密，请根据需要生成卡密。</div>
<div style="left:106.00px;top:1186.00px;width:683.00px;height:23.50px;background:#e8ecf0;"></div>
<div style="left:112.50px;top:1192.50px;width:23.50px;height:17.00px;background:#fff;"></div>
<div class="ct" style="left:124.25px;top:1201.30px;font-size:23.000px;color:#555;font-weight:normal;-webkit-text-stroke:0.280px #555;">全部</div>
<div style="left:139.00px;top:1192.50px;width:24.00px;height:17.00px;background:#d5dbe1;"></div>
<div class="ct" style="left:151.00px;top:1201.30px;font-size:23.000px;color:#999;font-weight:normal;-webkit-text-stroke:0.280px #999;">封禁</div>
<div style="left:165.00px;top:1192.50px;width:24.00px;height:17.00px;background:#d5dbe1;"></div>
<div class="ct" style="left:177.00px;top:1201.30px;font-size:23.000px;color:#999;font-weight:normal;-webkit-text-stroke:0.280px #999;">正常</div>
<div style="left:112.00px;top:1219.40px;width:15.00px;height:13.20px;background:#444c69;border-radius:1.5px;"></div>
<svg class="ic" style="left:116.75px;top:1223.25px;width:5.5px;height:5.5px;color:#fff" viewBox="0 0 16 16"><path d="M13.2 6 A5.5 5.5 0 0 0 3 5" fill="none" stroke="currentColor" stroke-width="2.5"/><path d="M2.8 10 A5.5 5.5 0 0 0 13 11" fill="none" stroke="currentColor" stroke-width="2.5"/><path d="M15 2 L15 8 L9.5 6.5Z M1 14 L1 8 L6.5 9.5Z" fill="currentColor"/></svg>
<div style="left:129.00px;top:1219.40px;width:27.00px;height:13.20px;background:#18bc9c;border-radius:1.5px;"></div>
<svg class="ic" style="left:133.20px;top:1223.50px;width:5px;height:5px;color:#fff" viewBox="0 0 16 16"><rect x="6" y="1" width="4" height="14" fill="currentColor"/><rect x="1" y="6" width="14" height="4" fill="currentColor"/></svg>
<div class="t" style="left:138.80px;top:1223.10px;font-size:23.200px;color:#fff;font-weight:normal;-webkit-text-stroke:0.600px #fff;">添加</div>
<div style="left:158.00px;top:1219.40px;width:27.00px;height:13.20px;background:#74d5c2;border-radius:1.5px;"></div>
<svg class="ic" style="left:162.20px;top:1223.50px;width:5px;height:5px;color:#fff" viewBox="0 0 16 16"><path d="M13 1 L15 3 L4 14 L1 15 L2 12Z" fill="currentColor"/></svg>
<div class="t" style="left:167.80px;top:1223.10px;font-size:23.200px;color:#fff;font-weight:normal;-webkit-text-stroke:0.600px #fff;">编辑</div>
<div style="left:187.00px;top:1219.40px;width:27.00px;height:13.20px;background:#fa9a8f;border-radius:1.5px;"></div>
<svg class="ic" style="left:191.20px;top:1223.50px;width:5px;height:5px;color:#fff" viewBox="0 0 16 16"><rect x="2" y="2" width="12" height="2.5" fill="currentColor"/><rect x="6" y="0.5" width="4" height="2" fill="currentColor"/><path d="M3 5.5 H13 L12 15.5 H4Z" fill="currentColor"/></svg>
<div class="t" style="left:196.80px;top:1223.10px;font-size:23.200px;color:#fff;font-weight:normal;-webkit-text-stroke:0.600px #fff;">删除</div>
<div style="left:216.00px;top:1219.40px;width:27.00px;height:13.20px;background:#7c8196;border-radius:1.5px;"></div>
<svg class="ic" style="left:220.20px;top:1223.50px;width:5px;height:5px;color:#fff" viewBox="0 0 16 16"><circle cx="8" cy="8" r="7" fill="currentColor"/><rect x="7" y="4" width="2" height="2" fill="#fff"/><rect x="7" y="7" width="2" height="5" fill="#fff"/></svg>
<div class="t" style="left:225.80px;top:1223.10px;font-size:23.200px;color:#fff;font-weight:normal;-webkit-text-stroke:0.600px #fff;">更多</div>
<div style="left:625.50px;top:1219.50px;width:80.50px;height:14.00px;background:#fff;border:0.6px solid #e2e5e8;border-radius:1.5px;box-sizing:border-box;"></div>
<div class="t" style="left:631.00px;top:1223.20px;font-size:22.400px;color:#aaa;font-weight:normal;-webkit-text-stroke:0.280px #aaa;">搜索</div>
<div style="left:708.20px;top:1219.50px;width:56.50px;height:14.00px;background:#f4f4f4;border:0.6px solid #e6e6e6;border-radius:1.5px;box-sizing:border-box;"></div>
<div style="left:723.60px;top:1219.50px;width:0.60px;height:14.00px;background:#e4e4e4;"></div>
<div style="left:744.40px;top:1219.50px;width:0.60px;height:14.00px;background:#e4e4e4;"></div>
<svg class="ic" style="left:713.30px;top:1222.70px;width:5.6px;height:6px;color:#555" viewBox="0 0 16 16"><rect x="1" y="1" width="14" height="14" fill="currentColor"/><rect x="6" y="5" width="4" height="8" fill="#ccc"/></svg>
<svg class="ic" style="left:728.70px;top:1222.90px;width:5.4px;height:5.6px;color:#444" viewBox="0 0 16 16"><rect x="1" y="1" width="4" height="4" fill="currentColor"/><rect x="6" y="1" width="4" height="4" fill="currentColor"/><rect x="11" y="1" width="4" height="4" fill="currentColor"/><rect x="1" y="6" width="4" height="4" fill="currentColor"/><rect x="6" y="6" width="4" height="4" fill="currentColor"/><rect x="11" y="6" width="4" height="4" fill="currentColor"/><rect x="1" y="11" width="4" height="4" fill="currentColor"/><rect x="6" y="11" width="4" height="4" fill="currentColor"/><rect x="11" y="11" width="4" height="4" fill="currentColor"/></svg>
<svg class="ic" style="left:735.20px;top:1224.50px;width:4px;height:3px;color:#444" viewBox="0 0 16 12"><path d="M0 0 H16 L8 12Z" fill="currentColor"/></svg>
<svg class="ic" style="left:748.90px;top:1222.50px;width:6.2px;height:6px;color:#444" viewBox="0 0 16 16"><circle cx="8" cy="4" r="3" fill="currentColor"/><path d="M1 15 L2 9 H14 L15 15Z" fill="currentColor"/></svg>
<svg class="ic" style="left:756.80px;top:1224.50px;width:4px;height:3px;color:#444" viewBox="0 0 16 12"><path d="M0 0 H16 L8 12Z" fill="currentColor"/></svg>
<div style="left:767.20px;top:1219.50px;width:16.00px;height:14.00px;background:#f4f4f4;border:0.6px solid #e6e6e6;border-radius:1.5px;box-sizing:border-box;"></div>
<svg class="ic" style="left:771.90px;top:1222.90px;width:6.2px;height:6.2px;color:#333" viewBox="0 0 16 16"><circle cx="6.5" cy="6.5" r="4.6" fill="none" stroke="currentColor" stroke-width="2.2"/><path d="M10 10 L14.5 14.5" stroke="currentColor" stroke-width="2.6"/></svg>
<div style="left:112.00px;top:1237.00px;width:670.00px;height:209.90px;background:#fff;border:0.6px solid #f2f2f2;box-sizing:border-box;"></div>
<div style="left:112.00px;top:1254.40px;width:670.00px;height:19.25px;background:#f9f9f9;"></div>
<div style="left:112.00px;top:1254.40px;width:670.00px;height:0.60px;background:#f3f3f3;"></div>
<div style="left:112.00px;top:1273.65px;width:670.00px;height:0.60px;background:#f3f3f3;"></div>
<div style="left:112.00px;top:1292.90px;width:670.00px;height:19.25px;background:#f9f9f9;"></div>
<div style="left:112.00px;top:1292.90px;width:670.00px;height:0.60px;background:#f3f3f3;"></div>
<div style="left:112.00px;top:1312.15px;width:670.00px;height:0.60px;background:#f3f3f3;"></div>
<div style="left:112.00px;top:1331.40px;width:670.00px;height:19.25px;background:#f9f9f9;"></div>
<div style="left:112.00px;top:1331.40px;width:670.00px;height:0.60px;background:#f3f3f3;"></div>
<div style="left:112.00px;top:1350.65px;width:670.00px;height:0.60px;background:#f3f3f3;"></div>
<div style="left:112.00px;top:1369.90px;width:670.00px;height:19.25px;background:#f9f9f9;"></div>
<div style="left:112.00px;top:1369.90px;width:670.00px;height:0.60px;background:#f3f3f3;"></div>
<div style="left:112.00px;top:1389.15px;width:670.00px;height:0.60px;background:#f3f3f3;"></div>
<div style="left:112.00px;top:1408.40px;width:670.00px;height:19.25px;background:#f9f9f9;"></div>
<div style="left:112.00px;top:1408.40px;width:670.00px;height:0.60px;background:#f3f3f3;"></div>
<div style="left:112.00px;top:1427.65px;width:670.00px;height:0.60px;background:#f3f3f3;"></div>
<div style="left:112.00px;top:1253.80px;width:670.00px;height:1.00px;background:#ebebeb;"></div>
<div style="left:161.00px;top:1237.00px;width:0.60px;height:209.90px;background:#f2f2f2;"></div>
<div style="left:226.50px;top:1237.00px;width:0.60px;height:209.90px;background:#f2f2f2;"></div>
<div style="left:300.00px;top:1237.00px;width:0.60px;height:209.90px;background:#f2f2f2;"></div>
<div style="left:341.90px;top:1237.00px;width:0.60px;height:209.90px;background:#f2f2f2;"></div>
<div style="left:454.40px;top:1237.00px;width:0.60px;height:209.90px;background:#f2f2f2;"></div>
<div style="left:498.00px;top:1237.00px;width:0.60px;height:209.90px;background:#f2f2f2;"></div>
<div style="left:542.00px;top:1237.00px;width:0.60px;height:209.90px;background:#f2f2f2;"></div>
<div style="left:573.75px;top:1237.00px;width:0.60px;height:209.90px;background:#f2f2f2;"></div>
<div style="left:623.60px;top:1237.00px;width:0.60px;height:209.90px;background:#f2f2f2;"></div>
<div style="left:731.60px;top:1237.00px;width:0.60px;height:209.90px;background:#f2f2f2;"></div>
<div style="left:118.55px;top:1242.60px;width:5.20px;height:5.20px;background:#eeeeee;border:0.6px solid #c4c4c4;border-radius:1px;box-sizing:border-box;"></div>
<div class="ct" style="left:145.65px;top:1245.40px;font-size:23.400px;color:#333;font-weight:normal;-webkit-text-stroke:0.680px #333;">ID</div>
<div class="ct" style="left:193.75px;top:1245.40px;font-size:23.400px;color:#333;font-weight:normal;-webkit-text-stroke:0.680px #333;">所属管理员</div>
<div class="ct" style="left:263.25px;top:1245.40px;font-size:23.400px;color:#333;font-weight:normal;-webkit-text-stroke:0.680px #333;">软件名称</div>
<div class="ct" style="left:320.95px;top:1245.40px;font-size:23.400px;color:#333;font-weight:normal;-webkit-text-stroke:0.680px #333;">卡类名</div>
<div class="ct" style="left:398.15px;top:1245.40px;font-size:23.400px;color:#333;font-weight:normal;-webkit-text-stroke:0.680px #333;">卡密</div>
<div class="ct" style="left:476.20px;top:1245.40px;font-size:23.400px;color:#333;font-weight:normal;-webkit-text-stroke:0.680px #333;">售价</div>
<div class="ct" style="left:520.00px;top:1245.40px;font-size:23.400px;color:#333;font-weight:normal;-webkit-text-stroke:0.680px #333;">成本价</div>
<div class="ct" style="left:557.88px;top:1245.40px;font-size:23.400px;color:#333;font-weight:normal;-webkit-text-stroke:0.680px #333;">备注</div>
<div class="ct" style="left:598.67px;top:1245.40px;font-size:23.400px;color:#333;font-weight:normal;-webkit-text-stroke:0.680px #333;">卡密状态</div>
<div class="ct" style="left:677.60px;top:1245.40px;font-size:23.400px;color:#333;font-weight:normal;-webkit-text-stroke:0.680px #333;">添加时间</div>
<div class="ct" style="left:756.80px;top:1245.40px;font-size:23.400px;color:#333;font-weight:normal;-webkit-text-stroke:0.680px #333;">操作</div>
<div style="left:118.55px;top:1260.93px;width:5.20px;height:5.20px;background:#eeeeee;border:0.6px solid #c4c4c4;border-radius:1px;box-sizing:border-box;"></div>
<div class="ct" style="left:145.65px;top:1264.33px;font-size:23.600px;color:#3a3a3a;font-weight:normal;-webkit-text-stroke:0.280px #3a3a3a;"><span style="-webkit-text-stroke:0.140px #3a3a3a;">12</span></div>
<div class="ct" style="left:193.75px;top:1264.33px;font-size:23.600px;color:#3a3a3a;font-weight:normal;-webkit-text-stroke:0.280px #3a3a3a;">刀春源码网</div>
<div class="ct" style="left:263.25px;top:1264.33px;font-size:23.600px;color:#3a3a3a;font-weight:normal;-webkit-text-stroke:0.280px #3a3a3a;">刀春源码系统</div>
<div class="ct" style="left:320.95px;top:1264.33px;font-size:23.600px;color:#3a3a3a;font-weight:normal;-webkit-text-stroke:0.280px #3a3a3a;">测试</div>
<div class="ct" style="left:398.15px;top:1264.33px;font-size:23.600px;color:#3a3a3a;font-weight:normal;-webkit-text-stroke:0.280px #3a3a3a;"><span style="-webkit-text-stroke:0.140px #3a3a3a;">DK9EB5B6GUFGB4J</span></div>
<div class="ct" style="left:476.20px;top:1264.33px;font-size:23.600px;color:#3a3a3a;font-weight:normal;-webkit-text-stroke:0.280px #3a3a3a;"><span style="-webkit-text-stroke:0.140px #3a3a3a;">60.00</span></div>
<div class="ct" style="left:520.00px;top:1264.33px;font-size:23.600px;color:#3a3a3a;font-weight:normal;-webkit-text-stroke:0.280px #3a3a3a;"><span style="-webkit-text-stroke:0.140px #3a3a3a;">50.00</span></div>
<div style="left:590.07px;top:1261.62px;width:4.80px;height:4.80px;background:#18bc9c;border-radius:50%;"></div>
<div class="t" style="left:596.67px;top:1260.73px;font-size:23.200px;color:#18bc9c;font-weight:normal;-webkit-text-stroke:0.320px #18bc9c;">正常</div>
<div class="ct" style="left:677.60px;top:1264.33px;font-size:23.600px;color:#3a3a3a;font-weight:normal;-webkit-text-stroke:0.280px #3a3a3a;"><span style="-webkit-text-stroke:0.140px #3a3a3a;">2022-08-13 22:52:57</span></div>
<div style="left:747.10px;top:1259.62px;width:8.80px;height:9.00px;background:#18bc9c;border-radius:1.2px;"></div>
<svg class="ic" style="left:749.40px;top:1262.03px;width:4.4px;height:4.4px;color:#fff" viewBox="0 0 16 16"><path d="M13 1 L15 3 L4 14 L1 15 L2 12Z" fill="currentColor"/></svg>
<div style="left:757.70px;top:1259.62px;width:8.80px;height:9.00px;background:#f3402f;border-radius:1.2px;"></div>
<svg class="ic" style="left:760.00px;top:1262.03px;width:4.4px;height:4.4px;color:#fff" viewBox="0 0 16 16"><rect x="2" y="2" width="12" height="2.5" fill="currentColor"/><rect x="6" y="0.5" width="4" height="2" fill="currentColor"/><path d="M3 5.5 H13 L12 15.5 H4Z" fill="currentColor"/></svg>
<div style="left:118.55px;top:1280.18px;width:5.20px;height:5.20px;background:#eeeeee;border:0.6px solid #c4c4c4;border-radius:1px;box-sizing:border-box;"></div>
<div class="ct" style="left:145.65px;top:1283.58px;font-size:23.600px;color:#3a3a3a;font-weight:normal;-webkit-text-stroke:0.280px #3a3a3a;"><span style="-webkit-text-stroke:0.140px #3a3a3a;">11</span></div>
<div class="ct" style="left:193.75px;top:1283.58px;font-size:23.600px;color:#3a3a3a;font-weight:normal;-webkit-text-stroke:0.280px #3a3a3a;">刀春源码网</div>
<div class="ct" style="left:263.25px;top:1283.58px;font-size:23.600px;color:#3a3a3a;font-weight:normal;-webkit-text-stroke:0.280px #3a3a3a;">刀春源码系统</div>
<div class="ct" style="left:320.95px;top:1283.58px;font-size:23.600px;color:#3a3a3a;font-weight:normal;-webkit-text-stroke:0.280px #3a3a3a;">测试</div>
<div class="ct" style="left:398.15px;top:1283.58px;font-size:23.600px;color:#3a3a3a;font-weight:normal;-webkit-text-stroke:0.280px #3a3a3a;"><span style="-webkit-text-stroke:0.140px #3a3a3a;">DKK6NM4VX2DCBC8</span></div>
<div class="ct" style="left:476.20px;top:1283.58px;font-size:23.600px;color:#3a3a3a;font-weight:normal;-webkit-text-stroke:0.280px #3a3a3a;"><span style="-webkit-text-stroke:0.140px #3a3a3a;">60.00</span></div>
<div class="ct" style="left:520.00px;top:1283.58px;font-size:23.600px;color:#3a3a3a;font-weight:normal;-webkit-text-stroke:0.280px #3a3a3a;"><span style="-webkit-text-stroke:0.140px #3a3a3a;">50.00</span></div>
<div style="left:590.07px;top:1280.88px;width:4.80px;height:4.80px;background:#18bc9c;border-radius:50%;"></div>
<div class="t" style="left:596.67px;top:1279.98px;font-size:23.200px;color:#18bc9c;font-weight:normal;-webkit-text-stroke:0.320px #18bc9c;">正常</div>
<div class="ct" style="left:677.60px;top:1283.58px;font-size:23.600px;color:#3a3a3a;font-weight:normal;-webkit-text-stroke:0.280px #3a3a3a;"><span style="-webkit-text-stroke:0.140px #3a3a3a;">2022-08-13 22:52:57</span></div>
<div style="left:747.10px;top:1278.88px;width:8.80px;height:9.00px;background:#18bc9c;border-radius:1.2px;"></div>
<svg class="ic" style="left:749.40px;top:1281.28px;width:4.4px;height:4.4px;color:#fff" viewBox="0 0 16 16"><path d="M13 1 L15 3 L4 14 L1 15 L2 12Z" fill="currentColor"/></svg>
<div style="left:757.70px;top:1278.88px;width:8.80px;height:9.00px;background:#f3402f;border-radius:1.2px;"></div>
<svg class="ic" style="left:760.00px;top:1281.28px;width:4.4px;height:4.4px;color:#fff" viewBox="0 0 16 16"><rect x="2" y="2" width="12" height="2.5" fill="currentColor"/><rect x="6" y="0.5" width="4" height="2" fill="currentColor"/><path d="M3 5.5 H13 L12 15.5 H4Z" fill="currentColor"/></svg>
<div style="left:118.55px;top:1299.43px;width:5.20px;height:5.20px;background:#eeeeee;border:0.6px solid #c4c4c4;border-radius:1px;box-sizing:border-box;"></div>
<div class="ct" style="left:145.65px;top:1302.83px;font-size:23.600px;color:#3a3a3a;font-weight:normal;-webkit-text-stroke:0.280px #3a3a3a;"><span style="-webkit-text-stroke:0.140px #3a3a3a;">10</span></div>
<div class="ct" style="left:193.75px;top:1302.83px;font-size:23.600px;color:#3a3a3a;font-weight:normal;-webkit-text-stroke:0.280px #3a3a3a;">刀春源码网</div>
<div class="ct" style="left:263.25px;top:1302.83px;font-size:23.600px;color:#3a3a3a;font-weight:normal;-webkit-text-stroke:0.280px #3a3a3a;">刀春源码系统</div>
<div class="ct" style="left:320.95px;top:1302.83px;font-size:23.600px;color:#3a3a3a;font-weight:normal;-webkit-text-stroke:0.280px #3a3a3a;">测试</div>
<div class="ct" style="left:398.15px;top:1302.83px;font-size:23.600px;color:#3a3a3a;font-weight:normal;-webkit-text-stroke:0.280px #3a3a3a;"><span style="-webkit-text-stroke:0.140px #3a3a3a;">DKNJ7DFG112Y48K</span></div>
<div class="ct" style="left:476.20px;top:1302.83px;font-size:23.600px;color:#3a3a3a;font-weight:normal;-webkit-text-stroke:0.280px #3a3a3a;"><span style="-webkit-text-stroke:0.140px #3a3a3a;">60.00</span></div>
<div class="ct" style="left:520.00px;top:1302.83px;font-size:23.600px;color:#3a3a3a;font-weight:normal;-webkit-text-stroke:0.280px #3a3a3a;"><span style="-webkit-text-stroke:0.140px #3a3a3a;">50.00</span></div>
<div style="left:590.07px;top:1300.12px;width:4.80px;height:4.80px;background:#18bc9c;border-radius:50%;"></div>
<div class="t" style="left:596.67px;top:1299.23px;font-size:23.200px;color:#18bc9c;font-weight:normal;-webkit-text-stroke:0.320px #18bc9c;">正常</div>
<div class="ct" style="left:677.60px;top:1302.83px;font-size:23.600px;color:#3a3a3a;font-weight:normal;-webkit-text-stroke:0.280px #3a3a3a;"><span style="-webkit-text-stroke:0.140px #3a3a3a;">2022-08-13 22:52:56</span></div>
<div style="left:747.10px;top:1298.12px;width:8.80px;height:9.00px;background:#18bc9c;border-radius:1.2px;"></div>
<svg class="ic" style="left:749.40px;top:1300.53px;width:4.4px;height:4.4px;color:#fff" viewBox="0 0 16 16"><path d="M13 1 L15 3 L4 14 L1 15 L2 12Z" fill="currentColor"/></svg>
<div style="left:757.70px;top:1298.12px;width:8.80px;height:9.00px;background:#f3402f;border-radius:1.2px;"></div>
<svg class="ic" style="left:760.00px;top:1300.53px;width:4.4px;height:4.4px;color:#fff" viewBox="0 0 16 16"><rect x="2" y="2" width="12" height="2.5" fill="currentColor"/><rect x="6" y="0.5" width="4" height="2" fill="currentColor"/><path d="M3 5.5 H13 L12 15.5 H4Z" fill="currentColor"/></svg>
<div style="left:118.55px;top:1318.68px;width:5.20px;height:5.20px;background:#eeeeee;border:0.6px solid #c4c4c4;border-radius:1px;box-sizing:border-box;"></div>
<div class="ct" style="left:145.65px;top:1322.08px;font-size:23.600px;color:#3a3a3a;font-weight:normal;-webkit-text-stroke:0.280px #3a3a3a;"><span style="-webkit-text-stroke:0.140px #3a3a3a;">9</span></div>
<div class="ct" style="left:193.75px;top:1322.08px;font-size:23.600px;color:#3a3a3a;font-weight:normal;-webkit-text-stroke:0.280px #3a3a3a;">刀春源码网</div>
<div class="ct" style="left:263.25px;top:1322.08px;font-size:23.600px;color:#3a3a3a;font-weight:normal;-webkit-text-stroke:0.280px #3a3a3a;">刀春源码系统</div>
<div class="ct" style="left:320.95px;top:1322.08px;font-size:23.600px;color:#3a3a3a;font-weight:normal;-webkit-text-stroke:0.280px #3a3a3a;">测试</div>
<div class="ct" style="left:398.15px;top:1322.08px;font-size:23.600px;color:#3a3a3a;font-weight:normal;-webkit-text-stroke:0.280px #3a3a3a;"><span style="-webkit-text-stroke:0.140px #3a3a3a;">DKD5WX4N4WUEAF2</span></div>
<div class="ct" style="left:476.20px;top:1322.08px;font-size:23.600px;color:#3a3a3a;font-weight:normal;-webkit-text-stroke:0.280px #3a3a3a;"><span style="-webkit-text-stroke:0.140px #3a3a3a;">60.00</span></div>
<div class="ct" style="left:520.00px;top:1322.08px;font-size:23.600px;color:#3a3a3a;font-weight:normal;-webkit-text-stroke:0.280px #3a3a3a;"><span style="-webkit-text-stroke:0.140px #3a3a3a;">50.00</span></div>
<div style="left:590.07px;top:1319.38px;width:4.80px;height:4.80px;background:#18bc9c;border-radius:50%;"></div>
<div class="t" style="left:596.67px;top:1318.48px;font-size:23.200px;color:#18bc9c;font-weight:normal;-webkit-text-stroke:0.320px #18bc9c;">正常</div>
<div class="ct" style="left:677.60px;top:1322.08px;font-size:23.600px;color:#3a3a3a;font-weight:normal;-webkit-text-stroke:0.280px #3a3a3a;"><span style="-webkit-text-stroke:0.140px #3a3a3a;">2022-08-13 22:52:56</span></div>
<div style="left:747.10px;top:1317.38px;width:8.80px;height:9.00px;background:#18bc9c;border-radius:1.2px;"></div>
<svg class="ic" style="left:749.40px;top:1319.78px;width:4.4px;height:4.4px;color:#fff" viewBox="0 0 16 16"><path d="M13 1 L15 3 L4 14 L1 15 L2 12Z" fill="currentColor"/></svg>
<div style="left:757.70px;top:1317.38px;width:8.80px;height:9.00px;background:#f3402f;border-radius:1.2px;"></div>
<svg class="ic" style="left:760.00px;top:1319.78px;width:4.4px;height:4.4px;color:#fff" viewBox="0 0 16 16"><rect x="2" y="2" width="12" height="2.5" fill="currentColor"/><rect x="6" y="0.5" width="4" height="2" fill="currentColor"/><path d="M3 5.5 H13 L12 15.5 H4Z" fill="currentColor"/></svg>
<div style="left:118.55px;top:1337.93px;width:5.20px;height:5.20px;background:#eeeeee;border:0.6px solid #c4c4c4;border-radius:1px;box-sizing:border-box;"></div>
<div class="ct" style="left:145.65px;top:1341.33px;font-size:23.600px;color:#3a3a3a;font-weight:normal;-webkit-text-stroke:0.280px #3a3a3a;"><span style="-webkit-text-stroke:0.140px #3a3a3a;">8</span></div>
<div class="ct" style="left:193.75px;top:1341.33px;font-size:23.600px;color:#3a3a3a;font-weight:normal;-webkit-text-stroke:0.280px #3a3a3a;">刀春源码网</div>
<div class="ct" style="left:263.25px;top:1341.33px;font-size:23.600px;color:#3a3a3a;font-weight:normal;-webkit-text-stroke:0.280px #3a3a3a;">刀春源码系统</div>
<div class="ct" style="left:320.95px;top:1341.33px;font-size:23.600px;color:#3a3a3a;font-weight:normal;-webkit-text-stroke:0.280px #3a3a3a;">测试</div>
<div class="ct" style="left:398.15px;top:1341.33px;font-size:23.600px;color:#3a3a3a;font-weight:normal;-webkit-text-stroke:0.280px #3a3a3a;"><span style="-webkit-text-stroke:0.140px #3a3a3a;">DKNEK6UQ69UGGZJ</span></div>
<div class="ct" style="left:476.20px;top:1341.33px;font-size:23.600px;color:#3a3a3a;font-weight:normal;-webkit-text-stroke:0.280px #3a3a3a;"><span style="-webkit-text-stroke:0.140px #3a3a3a;">60.00</span></div>
<div class="ct" style="left:520.00px;top:1341.33px;font-size:23.600px;color:#3a3a3a;font-weight:normal;-webkit-text-stroke:0.280px #3a3a3a;"><span style="-webkit-text-stroke:0.140px #3a3a3a;">50.00</span></div>
<div style="left:590.07px;top:1338.62px;width:4.80px;height:4.80px;background:#18bc9c;border-radius:50%;"></div>
<div class="t" style="left:596.67px;top:1337.73px;font-size:23.200px;color:#18bc9c;font-weight:normal;-webkit-text-stroke:0.320px #18bc9c;">正常</div>
<div class="ct" style="left:677.60px;top:1341.33px;font-size:23.600px;color:#3a3a3a;font-weight:normal;-webkit-text-stroke:0.280px #3a3a3a;"><span style="-webkit-text-stroke:0.140px #3a3a3a;">2022-08-13 22:52:56</span></div>
<div style="left:747.10px;top:1336.62px;width:8.80px;height:9.00px;background:#18bc9c;border-radius:1.2px;"></div>
<svg class="ic" style="left:749.40px;top:1339.03px;width:4.4px;height:4.4px;color:#fff" viewBox="0 0 16 16"><path d="M13 1 L15 3 L4 14 L1 15 L2 12Z" fill="currentColor"/></svg>
<div style="left:757.70px;top:1336.62px;width:8.80px;height:9.00px;background:#f3402f;border-radius:1.2px;"></div>
<svg class="ic" style="left:760.00px;top:1339.03px;width:4.4px;height:4.4px;color:#fff" viewBox="0 0 16 16"><rect x="2" y="2" width="12" height="2.5" fill="currentColor"/><rect x="6" y="0.5" width="4" height="2" fill="currentColor"/><path d="M3 5.5 H13 L12 15.5 H4Z" fill="currentColor"/></svg>
<div style="left:118.55px;top:1357.18px;width:5.20px;height:5.20px;background:#eeeeee;border:0.6px solid #c4c4c4;border-radius:1px;box-sizing:border-box;"></div>
<div class="ct" style="left:145.65px;top:1360.58px;font-size:23.600px;color:#3a3a3a;font-weight:normal;-webkit-text-stroke:0.280px #3a3a3a;"><span style="-webkit-text-stroke:0.140px #3a3a3a;">7</span></div>
<div class="ct" style="left:193.75px;top:1360.58px;font-size:23.600px;color:#3a3a3a;font-weight:normal;-webkit-text-stroke:0.280px #3a3a3a;">刀春源码网</div>
<div class="ct" style="left:263.25px;top:1360.58px;font-size:23.600px;color:#3a3a3a;font-weight:normal;-webkit-text-stroke:0.280px #3a3a3a;">刀春源码系统</div>
<div class="ct" style="left:320.95px;top:1360.58px;font-size:23.600px;color:#3a3a3a;font-weight:normal;-webkit-text-stroke:0.280px #3a3a3a;">测试</div>
<div class="ct" style="left:398.15px;top:1360.58px;font-size:23.600px;color:#3a3a3a;font-weight:normal;-webkit-text-stroke:0.280px #3a3a3a;"><span style="-webkit-text-stroke:0.140px #3a3a3a;">DKU1XR6QYDKN6Y7</span></div>
<div class="ct" style="left:476.20px;top:1360.58px;font-size:23.600px;color:#3a3a3a;font-weight:normal;-webkit-text-stroke:0.280px #3a3a3a;"><span style="-webkit-text-stroke:0.140px #3a3a3a;">60.00</span></div>
<div class="ct" style="left:520.00px;top:1360.58px;font-size:23.600px;color:#3a3a3a;font-weight:normal;-webkit-text-stroke:0.280px #3a3a3a;"><span style="-webkit-text-stroke:0.140px #3a3a3a;">50.00</span></div>
<div style="left:590.07px;top:1357.88px;width:4.80px;height:4.80px;background:#18bc9c;border-radius:50%;"></div>
<div class="t" style="left:596.67px;top:1356.98px;font-size:23.200px;color:#18bc9c;font-weight:normal;-webkit-text-stroke:0.320px #18bc9c;">正常</div>
<div class="ct" style="left:677.60px;top:1360.58px;font-size:23.600px;color:#3a3a3a;font-weight:normal;-webkit-text-stroke:0.280px #3a3a3a;"><span style="-webkit-text-stroke:0.140px #3a3a3a;">2022-08-13 22:52:56</span></div>
<div style="left:747.10px;top:1355.88px;width:8.80px;height:9.00px;background:#18bc9c;border-radius:1.2px;"></div>
<svg class="ic" style="left:749.40px;top:1358.28px;width:4.4px;height:4.4px;color:#fff" viewBox="0 0 16 16"><path d="M13 1 L15 3 L4 14 L1 15 L2 12Z" fill="currentColor"/></svg>
<div style="left:757.70px;top:1355.88px;width:8.80px;height:9.00px;background:#f3402f;border-radius:1.2px;"></div>
<svg class="ic" style="left:760.00px;top:1358.28px;width:4.4px;height:4.4px;color:#fff" viewBox="0 0 16 16"><rect x="2" y="2" width="12" height="2.5" fill="currentColor"/><rect x="6" y="0.5" width="4" height="2" fill="currentColor"/><path d="M3 5.5 H13 L12 15.5 H4Z" fill="currentColor"/></svg>
<div style="left:118.55px;top:1376.43px;width:5.20px;height:5.20px;background:#eeeeee;border:0.6px solid #c4c4c4;border-radius:1px;box-sizing:border-box;"></div>
<div class="ct" style="left:145.65px;top:1379.83px;font-size:23.600px;color:#3a3a3a;font-weight:normal;-webkit-text-stroke:0.280px #3a3a3a;"><span style="-webkit-text-stroke:0.140px #3a3a3a;">6</span></div>
<div class="ct" style="left:193.75px;top:1379.83px;font-size:23.600px;color:#3a3a3a;font-weight:normal;-webkit-text-stroke:0.280px #3a3a3a;">刀春源码网</div>
<div class="ct" style="left:263.25px;top:1379.83px;font-size:23.600px;color:#3a3a3a;font-weight:normal;-webkit-text-stroke:0.280px #3a3a3a;">刀春源码系统</div>
<div class="ct" style="left:320.95px;top:1379.83px;font-size:23.600px;color:#3a3a3a;font-weight:normal;-webkit-text-stroke:0.280px #3a3a3a;">测试</div>
<div class="ct" style="left:398.15px;top:1379.83px;font-size:23.600px;color:#3a3a3a;font-weight:normal;-webkit-text-stroke:0.280px #3a3a3a;"><span style="-webkit-text-stroke:0.140px #3a3a3a;">DKZFU4G49KM163G</span></div>
<div class="ct" style="left:476.20px;top:1379.83px;font-size:23.600px;color:#3a3a3a;font-weight:normal;-webkit-text-stroke:0.280px #3a3a3a;"><span style="-webkit-text-stroke:0.140px #3a3a3a;">60.00</span></div>
<div class="ct" style="left:520.00px;top:1379.83px;font-size:23.600px;color:#3a3a3a;font-weight:normal;-webkit-text-stroke:0.280px #3a3a3a;"><span style="-webkit-text-stroke:0.140px #3a3a3a;">50.00</span></div>
<div style="left:590.07px;top:1377.12px;width:4.80px;height:4.80px;background:#18bc9c;border-radius:50%;"></div>
<div class="t" style="left:596.67px;top:1376.23px;font-size:23.200px;color:#18bc9c;font-weight:normal;-webkit-text-stroke:0.320px #18bc9c;">正常</div>
<div class="ct" style="left:677.60px;top:1379.83px;font-size:23.600px;color:#3a3a3a;font-weight:normal;-webkit-text-stroke:0.280px #3a3a3a;"><span style="-webkit-text-stroke:0.140px #3a3a3a;">2022-08-13 22:52:56</span></div>
<div style="left:747.10px;top:1375.12px;width:8.80px;height:9.00px;background:#18bc9c;border-radius:1.2px;"></div>
<svg class="ic" style="left:749.40px;top:1377.53px;width:4.4px;height:4.4px;color:#fff" viewBox="0 0 16 16"><path d="M13 1 L15 3 L4 14 L1 15 L2 12Z" fill="currentColor"/></svg>
<div style="left:757.70px;top:1375.12px;width:8.80px;height:9.00px;background:#f3402f;border-radius:1.2px;"></div>
<svg class="ic" style="left:760.00px;top:1377.53px;width:4.4px;height:4.4px;color:#fff" viewBox="0 0 16 16"><rect x="2" y="2" width="12" height="2.5" fill="currentColor"/><rect x="6" y="0.5" width="4" height="2" fill="currentColor"/><path d="M3 5.5 H13 L12 15.5 H4Z" fill="currentColor"/></svg>
<div style="left:118.55px;top:1395.68px;width:5.20px;height:5.20px;background:#eeeeee;border:0.6px solid #c4c4c4;border-radius:1px;box-sizing:border-box;"></div>
<div class="ct" style="left:145.65px;top:1399.08px;font-size:23.600px;color:#3a3a3a;font-weight:normal;-webkit-text-stroke:0.280px #3a3a3a;"><span style="-webkit-text-stroke:0.140px #3a3a3a;">5</span></div>
<div class="ct" style="left:193.75px;top:1399.08px;font-size:23.600px;color:#3a3a3a;font-weight:normal;-webkit-text-stroke:0.280px #3a3a3a;">刀春源码网</div>
<div class="ct" style="left:263.25px;top:1399.08px;font-size:23.600px;color:#3a3a3a;font-weight:normal;-webkit-text-stroke:0.280px #3a3a3a;">刀春源码系统</div>
<div class="ct" style="left:320.95px;top:1399.08px;font-size:23.600px;color:#3a3a3a;font-weight:normal;-webkit-text-stroke:0.280px #3a3a3a;">测试</div>
<div class="ct" style="left:398.15px;top:1399.08px;font-size:23.600px;color:#3a3a3a;font-weight:normal;-webkit-text-stroke:0.280px #3a3a3a;"><span style="-webkit-text-stroke:0.140px #3a3a3a;">DKVYGCDQXCJJ474</span></div>
<div class="ct" style="left:476.20px;top:1399.08px;font-size:23.600px;color:#3a3a3a;font-weight:normal;-webkit-text-stroke:0.280px #3a3a3a;"><span style="-webkit-text-stroke:0.140px #3a3a3a;">60.00</span></div>
<div class="ct" style="left:520.00px;top:1399.08px;font-size:23.600px;color:#3a3a3a;font-weight:normal;-webkit-text-stroke:0.280px #3a3a3a;"><span style="-webkit-text-stroke:0.140px #3a3a3a;">50.00</span></div>
<div style="left:590.07px;top:1396.38px;width:4.80px;height:4.80px;background:#18bc9c;border-radius:50%;"></div>
<div class="t" style="left:596.67px;top:1395.48px;font-size:23.200px;color:#18bc9c;font-weight:normal;-webkit-text-stroke:0.320px #18bc9c;">正常</div>
<div class="ct" style="left:677.60px;top:1399.08px;font-size:23.600px;color:#3a3a3a;font-weight:normal;-webkit-text-stroke:0.280px #3a3a3a;"><span style="-webkit-text-stroke:0.140px #3a3a3a;">2022-08-13 22:52:55</span></div>
<div style="left:747.10px;top:1394.38px;width:8.80px;height:9.00px;background:#18bc9c;border-radius:1.2px;"></div>
<svg class="ic" style="left:749.40px;top:1396.78px;width:4.4px;height:4.4px;color:#fff" viewBox="0 0 16 16"><path d="M13 1 L15 3 L4 14 L1 15 L2 12Z" fill="currentColor"/></svg>
<div style="left:757.70px;top:1394.38px;width:8.80px;height:9.00px;background:#f3402f;border-radius:1.2px;"></div>
<svg class="ic" style="left:760.00px;top:1396.78px;width:4.4px;height:4.4px;color:#fff" viewBox="0 0 16 16"><rect x="2" y="2" width="12" height="2.5" fill="currentColor"/><rect x="6" y="0.5" width="4" height="2" fill="currentColor"/><path d="M3 5.5 H13 L12 15.5 H4Z" fill="currentColor"/></svg>
<div style="left:118.55px;top:1414.93px;width:5.20px;height:5.20px;background:#eeeeee;border:0.6px solid #c4c4c4;border-radius:1px;box-sizing:border-box;"></div>
<div class="ct" style="left:145.65px;top:1418.33px;font-size:23.600px;color:#3a3a3a;font-weight:normal;-webkit-text-stroke:0.280px #3a3a3a;"><span style="-webkit-text-stroke:0.140px #3a3a3a;">4</span></div>
<div class="ct" style="left:193.75px;top:1418.33px;font-size:23.600px;color:#3a3a3a;font-weight:normal;-webkit-text-stroke:0.280px #3a3a3a;">刀春源码网</div>
<div class="ct" style="left:263.25px;top:1418.33px;font-size:23.600px;color:#3a3a3a;font-weight:normal;-webkit-text-stroke:0.280px #3a3a3a;">刀春源码系统</div>
<div class="ct" style="left:320.95px;top:1418.33px;font-size:23.600px;color:#3a3a3a;font-weight:normal;-webkit-text-stroke:0.280px #3a3a3a;">测试</div>
<div class="ct" style="left:398.15px;top:1418.33px;font-size:23.600px;color:#3a3a3a;font-weight:normal;-webkit-text-stroke:0.280px #3a3a3a;"><span style="-webkit-text-stroke:0.140px #3a3a3a;">DK6BRGE2AG4A43F</span></div>
<div class="ct" style="left:476.20px;top:1418.33px;font-size:23.600px;color:#3a3a3a;font-weight:normal;-webkit-text-stroke:0.280px #3a3a3a;"><span style="-webkit-text-stroke:0.140px #3a3a3a;">60.00</span></div>
<div class="ct" style="left:520.00px;top:1418.33px;font-size:23.600px;color:#3a3a3a;font-weight:normal;-webkit-text-stroke:0.280px #3a3a3a;"><span style="-webkit-text-stroke:0.140px #3a3a3a;">50.00</span></div>
<div style="left:590.07px;top:1415.62px;width:4.80px;height:4.80px;background:#18bc9c;border-radius:50%;"></div>
<div class="t" style="left:596.67px;top:1414.73px;font-size:23.200px;color:#18bc9c;font-weight:normal;-webkit-text-stroke:0.320px #18bc9c;">正常</div>
<div class="ct" style="left:677.60px;top:1418.33px;font-size:23.600px;color:#3a3a3a;font-weight:normal;-webkit-text-stroke:0.280px #3a3a3a;"><span style="-webkit-text-stroke:0.140px #3a3a3a;">2022-08-13 22:52:55</span></div>
<div style="left:747.10px;top:1413.62px;width:8.80px;height:9.00px;background:#18bc9c;border-radius:1.2px;"></div>
<svg class="ic" style="left:749.40px;top:1416.03px;width:4.4px;height:4.4px;color:#fff" viewBox="0 0 16 16"><path d="M13 1 L15 3 L4 14 L1 15 L2 12Z" fill="currentColor"/></svg>
<div style="left:757.70px;top:1413.62px;width:8.80px;height:9.00px;background:#f3402f;border-radius:1.2px;"></div>
<svg class="ic" style="left:760.00px;top:1416.03px;width:4.4px;height:4.4px;color:#fff" viewBox="0 0 16 16"><rect x="2" y="2" width="12" height="2.5" fill="currentColor"/><rect x="6" y="0.5" width="4" height="2" fill="currentColor"/><path d="M3 5.5 H13 L12 15.5 H4Z" fill="currentColor"/></svg>
<div style="left:118.55px;top:1434.18px;width:5.20px;height:5.20px;background:#eeeeee;border:0.6px solid #c4c4c4;border-radius:1px;box-sizing:border-box;"></div>
<div class="ct" style="left:145.65px;top:1437.58px;font-size:23.600px;color:#3a3a3a;font-weight:normal;-webkit-text-stroke:0.280px #3a3a3a;"><span style="-webkit-text-stroke:0.140px #3a3a3a;">3</span></div>
<div class="ct" style="left:193.75px;top:1437.58px;font-size:23.600px;color:#3a3a3a;font-weight:normal;-webkit-text-stroke:0.280px #3a3a3a;">刀春源码网</div>
<div class="ct" style="left:263.25px;top:1437.58px;font-size:23.600px;color:#3a3a3a;font-weight:normal;-webkit-text-stroke:0.280px #3a3a3a;">刀春源码系统</div>
<div class="ct" style="left:320.95px;top:1437.58px;font-size:23.600px;color:#3a3a3a;font-weight:normal;-webkit-text-stroke:0.280px #3a3a3a;">测试</div>
<div class="ct" style="left:398.15px;top:1437.58px;font-size:23.600px;color:#3a3a3a;font-weight:normal;-webkit-text-stroke:0.280px #3a3a3a;"><span style="-webkit-text-stroke:0.140px #3a3a3a;">DKSCAYSKD1X8TVK</span></div>
<div class="ct" style="left:476.20px;top:1437.58px;font-size:23.600px;color:#3a3a3a;font-weight:normal;-webkit-text-stroke:0.280px #3a3a3a;"><span style="-webkit-text-stroke:0.140px #3a3a3a;">60.00</span></div>
<div class="ct" style="left:520.00px;top:1437.58px;font-size:23.600px;color:#3a3a3a;font-weight:normal;-webkit-text-stroke:0.280px #3a3a3a;"><span style="-webkit-text-stroke:0.140px #3a3a3a;">50.00</span></div>
<div style="left:590.07px;top:1434.88px;width:4.80px;height:4.80px;background:#18bc9c;border-radius:50%;"></div>
<div class="t" style="left:596.67px;top:1433.98px;font-size:23.200px;color:#18bc9c;font-weight:normal;-webkit-text-stroke:0.320px #18bc9c;">正常</div>
<div class="ct" style="left:677.60px;top:1437.58px;font-size:23.600px;color:#3a3a3a;font-weight:normal;-webkit-text-stroke:0.280px #3a3a3a;"><span style="-webkit-text-stroke:0.140px #3a3a3a;">2022-08-13 22:52:55</span></div>
<div style="left:747.10px;top:1432.88px;width:8.80px;height:9.00px;background:#18bc9c;border-radius:1.2px;"></div>
<svg class="ic" style="left:749.40px;top:1435.28px;width:4.4px;height:4.4px;color:#fff" viewBox="0 0 16 16"><path d="M13 1 L15 3 L4 14 L1 15 L2 12Z" fill="currentColor"/></svg>
<div style="left:757.70px;top:1432.88px;width:8.80px;height:9.00px;background:#f3402f;border-radius:1.2px;"></div>
<svg class="ic" style="left:760.00px;top:1435.28px;width:4.4px;height:4.4px;color:#fff" viewBox="0 0 16 16"><rect x="2" y="2" width="12" height="2.5" fill="currentColor"/><rect x="6" y="0.5" width="4" height="2" fill="currentColor"/><path d="M3 5.5 H13 L12 15.5 H4Z" fill="currentColor"/></svg>
<div class="t" style="left:112.00px;top:1455.10px;font-size:23.200px;color:#333;font-weight:normal;-webkit-text-stroke:0.280px #333;">显示第<span style="-webkit-text-stroke:0.140px #333;"> 1 </span>到第<span style="-webkit-text-stroke:0.140px #333;"> 10 </span>条记录，总共<span style="-webkit-text-stroke:0.140px #333;"> 12 </span>条记录<span style="-webkit-text-stroke:0.140px #333;"> </span>每页显示</div>
<div style="left:246.00px;top:1452.50px;width:21.00px;height:13.20px;background:#f4f4f4;border:0.6px solid #e2e2e2;border-radius:1.5px;box-sizing:border-box;"></div>
<div class="t" style="left:250.50px;top:1454.90px;font-size:22.400px;color:#333;font-weight:normal;-webkit-text-stroke:0.280px #333;"><span style="-webkit-text-stroke:0.140px #333;">10</span></div>
<svg class="ic" style="left:258.50px;top:1457.30px;width:3.5px;height:3.5px;color:#333" viewBox="0 0 16 16"><path d="M3 11 L13 11 L8 5Z" fill="currentColor"/></svg>
<div class="t" style="left:268.80px;top:1455.10px;font-size:23.000px;color:#333;font-weight:normal;-webkit-text-stroke:0.280px #333;">条记录</div>
<div style="left:653.75px;top:1451.75px;width:55.00px;height:14.00px;background:#fff;"></div>
<div style="left:653.75px;top:1451.75px;width:27.50px;height:14.00px;background:#f9f9f9;border:0.6px solid #e4e4e4;box-sizing:border-box;border-radius:1.5px 0 0 1.5px;"></div>
<div class="ct" style="left:667.50px;top:1459.05px;font-size:23.000px;color:#777;font-weight:normal;-webkit-text-stroke:0.280px #777;">上一页</div>
<div style="left:681.25px;top:1451.75px;width:13.75px;height:14.00px;background:#444c69;"></div>
<div class="ct" style="left:688.10px;top:1459.05px;font-size:23.000px;color:#fff;font-weight:bold;-webkit-text-stroke:0.280px #fff;"><span style="-webkit-text-stroke:0.140px #fff;">1</span></div>
<div style="left:695.00px;top:1451.75px;width:13.75px;height:14.00px;background:#fff;border:0.6px solid #e4e4e4;box-sizing:border-box;"></div>
<div class="ct" style="left:701.90px;top:1459.05px;font-size:23.000px;color:#555;font-weight:normal;-webkit-text-stroke:0.280px #555;"><span style="-webkit-text-stroke:0.140px #555;">2</span></div>
<div style="left:708.75px;top:1451.75px;width:28.00px;height:14.00px;background:#f9f9f9;border:0.6px solid #e4e4e4;box-sizing:border-box;border-radius:0 1.5px 1.5px 0;"></div>
<div class="ct" style="left:722.75px;top:1459.05px;font-size:23.000px;color:#777;font-weight:normal;-webkit-text-stroke:0.280px #777;">下一页</div>
<div style="left:738.25px;top:1451.75px;width:21.00px;height:14.00px;background:#fff;border:0.6px solid #ddd;box-sizing:border-box;"></div>
<div style="left:761.25px;top:1451.75px;width:21.25px;height:14.00px;background:#f4f4f4;border:0.6px solid #ddd;box-sizing:border-box;border-radius:1.5px;"></div>
<div class="ct" style="left:771.90px;top:1459.05px;font-size:23.000px;color:#333;font-weight:normal;-webkit-text-stroke:0.280px #333;">跳转</div>
<div style="left:5.00px;top:1595.00px;width:791.00px;height:388.50px;background:#f0f3f6;border-radius:4px;box-shadow:0 3px 10px rgba(0,0,0,0.07);"></div>
<div style="left:5.00px;top:1595.00px;width:95.00px;height:388.50px;background:#222d32;border-radius:4px 0 0 4px;"></div>
<div style="left:98.60px;top:1595.00px;width:1.40px;height:388.50px;background:#1a2226;"></div>
<div style="left:100.00px;top:1614.50px;width:1.50px;height:369.00px;background:#fbfcfd;"></div>
<div style="left:100.00px;top:1595.00px;width:696.00px;height:19.50px;background:#fff;border-radius:0 4px 0 0;"></div>
<div style="left:100.00px;top:1614.50px;width:696.00px;height:1.50px;background:#e9ecef;"></div>
<div style="left:794.90px;top:1595.00px;width:1.00px;height:388.50px;background:#e9ebed;"></div>
<div class="t" style="left:12.80px;top:1600.30px;font-size:32.800px;color:#f4f4f4;font-weight:normal;-webkit-text-stroke:0.240px #fff;">乐抖网络验证</div>
<div style="left:9.00px;top:1619.00px;width:20.00px;height:19.50px;background:#fff;border-radius:50%;"></div>
<div style="left:9.40px;top:1646.20px;width:86.20px;height:15.00px;background:#374850;border-radius:2px;"></div>
<div class="t" style="left:15.00px;top:1650.70px;font-size:22.400px;color:#7b8e96;font-weight:normal;-webkit-text-stroke:0.280px #7b8e96;">搜索菜单</div>
<svg class="ic" style="left:85.00px;top:1650.80px;width:5.8px;height:5.8px;color:#aebbc1" viewBox="0 0 16 16"><circle cx="6.5" cy="6.5" r="4.6" fill="none" stroke="currentColor" stroke-width="2.2"/><path d="M10 10 L14.5 14.5" stroke="currentColor" stroke-width="2.6"/></svg>
<svg class="ic" style="left:12.30px;top:1674.10px;width:6.2px;height:6.2px;color:#c2ced3" viewBox="0 0 16 16"><circle cx="5.2" cy="8.5" r="3.8" fill="none" stroke="currentColor" stroke-width="2.6"/><circle cx="12.8" cy="3.6" r="2.3" fill="currentColor"/><circle cx="12.8" cy="13.2" r="2.3" fill="currentColor"/></svg>
<div class="t" style="left:21.20px;top:1673.60px;font-size:23.200px;color:#c2ced3;font-weight:normal;-webkit-text-stroke:0.400px #c2ced3;">常规管理</div>
<div style="left:78.70px;top:1674.00px;width:15.20px;height:7.20px;background:#605ca8;border-radius:1.5px;"></div>
<div class="ct" style="left:86.30px;top:1677.10px;font-size:20.800px;color:#fff;font-weight:bold;-webkit-text-stroke:0.280px #fff;"><span style="-webkit-text-stroke:0.140px #fff;">new</span></div>
<svg class="ic" style="left:12.30px;top:1695.10px;width:6.2px;height:6.2px;color:#c2ced3" viewBox="0 0 16 16"><circle cx="8" cy="4.5" r="3.5" fill="currentColor"/><path d="M1.5 15.5 C1.5 10 4 8.5 8 8.5 C12 8.5 14.5 10 14.5 15.5Z" fill="currentColor"/></svg>
<div class="t" style="left:21.20px;top:1694.60px;font-size:23.200px;color:#c2ced3;font-weight:normal;-webkit-text-stroke:0.400px #c2ced3;">管理员管理</div>
<div style="left:5.00px;top:1709.60px;width:95.00px;height:19.20px;background:#1e282c;"></div>
<svg class="ic" style="left:12.30px;top:1716.10px;width:6.2px;height:6.2px;color:#fff" viewBox="0 0 16 16"><rect x="0.5" y="1" width="4.5" height="4" fill="currentColor"/><rect x="0.5" y="6" width="4.5" height="4" fill="currentColor"/><rect x="0.5" y="11" width="4.5" height="4" fill="currentColor"/><rect x="6.5" y="1" width="9" height="4" fill="currentColor"/><rect x="6.5" y="6" width="9" height="4" fill="currentColor"/><rect x="6.5" y="11" width="9" height="4" fill="currentColor"/></svg>
<div class="t" style="left:21.20px;top:1715.60px;font-size:23.200px;color:#fff;font-weight:normal;-webkit-text-stroke:0.400px #fff;">软件管理</div>
<svg class="ic" style="left:12.30px;top:1737.10px;width:6.2px;height:6.2px;color:#c2ced3" viewBox="0 0 16 16"><rect x="1.2" y="2.2" width="13.6" height="11.6" fill="none" stroke="currentColor" stroke-width="2.4"/><rect x="3.5" y="4.5" width="4.5" height="7" fill="currentColor"/><rect x="9" y="5" width="4" height="2" fill="currentColor"/><rect x="9" y="8.5" width="4" height="2" fill="currentColor"/></svg>
<div class="t" style="left:21.20px;top:1736.60px;font-size:23.200px;color:#c2ced3;font-weight:normal;-webkit-text-stroke:0.400px #c2ced3;">卡类管理</div>
<svg class="ic" style="left:12.30px;top:1758.10px;width:6.2px;height:6.2px;color:#c2ced3" viewBox="0 0 16 16"><path d="M15.5 0.5 L0.5 7 L5 9 L13 3 L6.5 10 L6.5 15 L9 11.5 L12 15Z" fill="currentColor"/></svg>
<div class="t" style="left:21.20px;top:1757.60px;font-size:23.200px;color:#c2ced3;font-weight:normal;-webkit-text-stroke:0.400px #c2ced3;">添加卡密</div>
<svg class="ic" style="left:12.30px;top:1779.10px;width:6.2px;height:6.2px;color:#c2ced3" viewBox="0 0 16 16"><circle cx="3" cy="13" r="2" fill="currentColor"/><path d="M1 6.5 A8.5 8.5 0 0 1 9.5 15" fill="none" stroke="currentColor" stroke-width="2.2"/><path d="M1 1.5 A13.5 13.5 0 0 1 14.5 15" fill="none" stroke="currentColor" stroke-width="2.2"/></svg>
<div class="t" style="left:21.20px;top:1778.60px;font-size:23.200px;color:#c2ced3;font-weight:normal;-webkit-text-stroke:0.400px #c2ced3;">卡密管理</div>
<svg class="ic" style="left:12.30px;top:1800.10px;width:6.2px;height:6.2px;color:#c2ced3" viewBox="0 0 16 16"><circle cx="8" cy="8" r="6.3" fill="none" stroke="currentColor" stroke-width="2.2"/><path d="M8 4.5 V8.5 H10.5" fill="none" stroke="currentColor" stroke-width="1.8"/></svg>
<div class="t" style="left:21.20px;top:1799.60px;font-size:23.200px;color:#c2ced3;font-weight:normal;-webkit-text-stroke:0.400px #c2ced3;">操作日志</div>
<div style="left:5.00px;top:1814.60px;width:95.00px;height:19.20px;background:#4e73df;"></div>
<svg class="ic" style="left:12.30px;top:1821.10px;width:6.2px;height:6.2px;color:#fff" viewBox="0 0 16 16"><path d="M0.5 4 L3.5 3.5 L7 12 L12 2.5 C14 1.5 16 3 15 5 L9 14 L5.5 14 Z" fill="currentColor"/></svg>
<div class="t" style="left:21.20px;top:1820.60px;font-size:23.200px;color:#fff;font-weight:normal;-webkit-text-stroke:0.400px #fff;">余额记录</div>
<svg class="ic" style="left:107.00px;top:1602.40px;width:5px;height:4.8px;color:#8c8c8c" viewBox="0 0 16 16"><rect x="0" y="0" width="16" height="3.6" fill="currentColor"/><rect x="0" y="6.2" width="16" height="3.6" fill="currentColor"/><rect x="0" y="12.4" width="16" height="3.6" fill="currentColor"/></svg>
<svg class="ic" style="left:125.00px;top:1602.00px;width:6px;height:5.4px;color:#333" viewBox="0 0 16 16"><rect x="0.5" y="1" width="4.5" height="4" fill="currentColor"/><rect x="0.5" y="6" width="4.5" height="4" fill="currentColor"/><rect x="0.5" y="11" width="4.5" height="4" fill="currentColor"/><rect x="6.5" y="1" width="9" height="4" fill="currentColor"/><rect x="6.5" y="6" width="9" height="4" fill="currentColor"/><rect x="6.5" y="11" width="9" height="4" fill="currentColor"/></svg>
<div class="t" style="left:133.50px;top:1602.20px;font-size:23.600px;color:#4a4a4a;font-weight:normal;-webkit-text-stroke:0.360px #4a4a4a;">软件管理</div>
<svg class="ic" style="left:169.60px;top:1602.00px;width:6px;height:5.4px;color:#333" viewBox="0 0 16 16"><path d="M15.5 0.5 L0.5 7 L5 9 L13 3 L6.5 10 L6.5 15 L9 11.5 L12 15Z" fill="currentColor"/></svg>
<div class="t" style="left:178.10px;top:1602.20px;font-size:23.600px;color:#4a4a4a;font-weight:normal;-webkit-text-stroke:0.360px #4a4a4a;">添加卡密</div>
<svg class="ic" style="left:214.20px;top:1602.00px;width:6px;height:5.4px;color:#333" viewBox="0 0 16 16"><rect x="1.2" y="2.2" width="13.6" height="11.6" fill="none" stroke="currentColor" stroke-width="2.4"/><rect x="3.5" y="4.5" width="4.5" height="7" fill="currentColor"/><rect x="9" y="5" width="4" height="2" fill="currentColor"/><rect x="9" y="8.5" width="4" height="2" fill="currentColor"/></svg>
<div class="t" style="left:222.70px;top:1602.20px;font-size:23.600px;color:#4a4a4a;font-weight:normal;-webkit-text-stroke:0.360px #4a4a4a;">卡类管理</div>
<svg class="ic" style="left:258.80px;top:1602.00px;width:6px;height:5.4px;color:#333" viewBox="0 0 16 16"><circle cx="3" cy="13" r="2" fill="currentColor"/><path d="M1 6.5 A8.5 8.5 0 0 1 9.5 15" fill="none" stroke="currentColor" stroke-width="2.2"/><path d="M1 1.5 A13.5 13.5 0 0 1 14.5 15" fill="none" stroke="currentColor" stroke-width="2.2"/></svg>
<div class="t" style="left:267.30px;top:1602.20px;font-size:23.600px;color:#4a4a4a;font-weight:normal;-webkit-text-stroke:0.360px #4a4a4a;">卡密管理</div>
<svg class="ic" style="left:303.40px;top:1602.00px;width:6px;height:5.4px;color:#333" viewBox="0 0 16 16"><circle cx="8" cy="8" r="6.3" fill="none" stroke="currentColor" stroke-width="2.2"/><path d="M8 4.5 V8.5 H10.5" fill="none" stroke="currentColor" stroke-width="1.8"/></svg>
<div class="t" style="left:311.90px;top:1602.20px;font-size:23.600px;color:#4a4a4a;font-weight:normal;-webkit-text-stroke:0.360px #4a4a4a;">操作日志</div>
<div style="left:341.50px;top:1595.00px;width:44.60px;height:19.50px;background:#fafafa;"></div>
<svg class="ic" style="left:348.00px;top:1602.00px;width:6px;height:5.4px;color:#333" viewBox="0 0 16 16"><path d="M0.5 4 L3.5 3.5 L7 12 L12 2.5 C14 1.5 16 3 15 5 L9 14 L5.5 14 Z" fill="currentColor"/></svg>
<div class="t" style="left:356.50px;top:1602.20px;font-size:23.600px;color:#4a4a4a;font-weight:normal;-webkit-text-stroke:0.360px #4a4a4a;">余额记录</div>
<svg class="ic" style="left:620.80px;top:1602.00px;width:4.8px;height:4.8px;color:#333" viewBox="0 0 16 16"><path d="M8 1 L0.5 8 L2.5 8 L2.5 15 L6.5 15 L6.5 10.5 L9.5 10.5 L9.5 15 L13.5 15 L13.5 8 L15.5 8Z" fill="currentColor"/></svg>
<div class="t" style="left:627.00px;top:1602.20px;font-size:23.600px;color:#555;font-weight:normal;-webkit-text-stroke:0.400px #555;">主页</div>
<svg class="ic" style="left:651.70px;top:1602.00px;width:3.6px;height:4.8px;color:#333" viewBox="0 0 16 16"><rect x="2" y="2" width="12" height="2.5" fill="currentColor"/><rect x="6" y="0.5" width="4" height="2" fill="currentColor"/><path d="M3 5.5 H13 L12 15.5 H4Z" fill="currentColor"/></svg>
<div class="t" style="left:658.00px;top:1602.20px;font-size:23.600px;color:#555;font-weight:normal;-webkit-text-stroke:0.400px #555;">清除缓存</div>
<svg class="ic" style="left:693.00px;top:1602.00px;width:5.2px;height:5px;color:#444" viewBox="0 0 16 16"><path d="M2 1 H10 L14 5 V15 H2Z" fill="none" stroke="currentColor" stroke-width="1.6"/><rect x="6" y="7" width="6" height="6" fill="currentColor"/></svg>
<svg class="ic" style="left:710.00px;top:1602.00px;width:5.4px;height:5px;color:#222" viewBox="0 0 16 16"><path d="M1 1 L6 6 M15 1 L10 6 M1 15 L6 10 M15 15 L10 10" stroke="currentColor" stroke-width="2.2"/><path d="M1 1 H5.5 L1 5.5Z M15 1 H10.5 L15 5.5Z M1 15 H5.5 L1 10.5Z M15 15 H10.5 L15 10.5Z" fill="currentColor"/></svg>
<svg class="ic" style="left:782.40px;top:1602.40px;width:6.6px;height:6px;color:#333" viewBox="0 0 16 16"><circle cx="5.2" cy="8.5" r="3.8" fill="none" stroke="currentColor" stroke-width="2.6"/><circle cx="12.8" cy="3.6" r="2.3" fill="currentColor"/><circle cx="12.8" cy="13.2" r="2.3" fill="currentColor"/></svg>
<div style="left:106.00px;top:1620.50px;width:683.00px;height:297.00px;background:#fff;border-radius:2px;"></div>
<div style="left:112.00px;top:1627.00px;width:671.00px;height:22.50px;background:#dff0d8;border-radius:2px;"></div>
<div class="t" style="left:119.00px;top:1635.20px;font-size:23.200px;color:#3c763d;font-weight:bold;-webkit-text-stroke:0.280px #3c763d;">我的余额：<span style="-webkit-text-stroke:0.140px #3c763d;">9999400.00</span></div>
<div style="left:112.00px;top:1661.00px;width:15.00px;height:13.20px;background:#444c69;border-radius:1.5px;"></div>
<svg class="ic" style="left:116.75px;top:1664.85px;width:5.5px;height:5.5px;color:#fff" viewBox="0 0 16 16"><path d="M13.2 6 A5.5 5.5 0 0 0 3 5" fill="none" stroke="currentColor" stroke-width="2.5"/><path d="M2.8 10 A5.5 5.5 0 0 0 13 11" fill="none" stroke="currentColor" stroke-width="2.5"/><path d="M15 2 L15 8 L9.5 6.5Z M1 14 L1 8 L6.5 9.5Z" fill="currentColor"/></svg>
<div style="left:129.00px;top:1661.00px;width:27.00px;height:13.20px;background:#fa9a8f;border-radius:1.5px;"></div>
<svg class="ic" style="left:133.20px;top:1665.10px;width:5px;height:5px;color:#fff" viewBox="0 0 16 16"><rect x="2" y="2" width="12" height="2.5" fill="currentColor"/><rect x="6" y="0.5" width="4" height="2" fill="currentColor"/><path d="M3 5.5 H13 L12 15.5 H4Z" fill="currentColor"/></svg>
<div class="t" style="left:138.80px;top:1664.70px;font-size:23.200px;color:#fff;font-weight:normal;-webkit-text-stroke:0.600px #fff;">删除</div>
<div style="left:625.50px;top:1660.50px;width:80.50px;height:14.00px;background:#fff;border:0.6px solid #e2e5e8;border-radius:1.5px;box-sizing:border-box;"></div>
<div class="t" style="left:631.00px;top:1664.20px;font-size:22.400px;color:#aaa;font-weight:normal;-webkit-text-stroke:0.280px #aaa;">搜索</div>
<div style="left:708.20px;top:1660.50px;width:56.50px;height:14.00px;background:#f4f4f4;border:0.6px solid #e6e6e6;border-radius:1.5px;box-sizing:border-box;"></div>
<div style="left:723.60px;top:1660.50px;width:0.60px;height:14.00px;background:#e4e4e4;"></div>
<div style="left:744.40px;top:1660.50px;width:0.60px;height:14.00px;background:#e4e4e4;"></div>
<svg class="ic" style="left:713.30px;top:1663.70px;width:5.6px;height:6px;color:#555" viewBox="0 0 16 16"><rect x="1" y="1" width="14" height="14" fill="currentColor"/><rect x="6" y="5" width="4" height="8" fill="#ccc"/></svg>
<svg class="ic" style="left:728.70px;top:1663.90px;width:5.4px;height:5.6px;color:#444" viewBox="0 0 16 16"><rect x="1" y="1" width="4" height="4" fill="currentColor"/><rect x="6" y="1" width="4" height="4" fill="currentColor"/><rect x="11" y="1" width="4" height="4" fill="currentColor"/><rect x="1" y="6" width="4" height="4" fill="currentColor"/><rect x="6" y="6" width="4" height="4" fill="currentColor"/><rect x="11" y="6" width="4" height="4" fill="currentColor"/><rect x="1" y="11" width="4" height="4" fill="currentColor"/><rect x="6" y="11" width="4" height="4" fill="currentColor"/><rect x="11" y="11" width="4" height="4" fill="currentColor"/></svg>
<svg class="ic" style="left:735.20px;top:1665.50px;width:4px;height:3px;color:#444" viewBox="0 0 16 12"><path d="M0 0 H16 L8 12Z" fill="currentColor"/></svg>
<svg class="ic" style="left:748.90px;top:1663.50px;width:6.2px;height:6px;color:#444" viewBox="0 0 16 16"><circle cx="8" cy="4" r="3" fill="currentColor"/><path d="M1 15 L2 9 H14 L15 15Z" fill="currentColor"/></svg>
<svg class="ic" style="left:756.80px;top:1665.50px;width:4px;height:3px;color:#444" viewBox="0 0 16 12"><path d="M0 0 H16 L8 12Z" fill="currentColor"/></svg>
<div style="left:767.20px;top:1660.50px;width:16.00px;height:14.00px;background:#f4f4f4;border:0.6px solid #e6e6e6;border-radius:1.5px;box-sizing:border-box;"></div>
<svg class="ic" style="left:771.90px;top:1663.90px;width:6.2px;height:6.2px;color:#333" viewBox="0 0 16 16"><circle cx="6.5" cy="6.5" r="4.6" fill="none" stroke="currentColor" stroke-width="2.2"/><path d="M10 10 L14.5 14.5" stroke="currentColor" stroke-width="2.6"/></svg>
<div style="left:112.00px;top:1679.25px;width:670.70px;height:209.25px;background:#fff;border:0.6px solid #f2f2f2;box-sizing:border-box;"></div>
<div style="left:112.00px;top:1695.50px;width:670.70px;height:19.30px;background:#f9f9f9;"></div>
<div style="left:112.00px;top:1695.50px;width:670.70px;height:0.60px;background:#f3f3f3;"></div>
<div style="left:112.00px;top:1714.80px;width:670.70px;height:0.60px;background:#f3f3f3;"></div>
<div style="left:112.00px;top:1734.10px;width:670.70px;height:19.30px;background:#f9f9f9;"></div>
<div style="left:112.00px;top:1734.10px;width:670.70px;height:0.60px;background:#f3f3f3;"></div>
<div style="left:112.00px;top:1753.40px;width:670.70px;height:0.60px;background:#f3f3f3;"></div>
<div style="left:112.00px;top:1772.70px;width:670.70px;height:19.30px;background:#f9f9f9;"></div>
<div style="left:112.00px;top:1772.70px;width:670.70px;height:0.60px;background:#f3f3f3;"></div>
<div style="left:112.00px;top:1792.00px;width:670.70px;height:0.60px;background:#f3f3f3;"></div>
<div style="left:112.00px;top:1811.30px;width:670.70px;height:19.30px;background:#f9f9f9;"></div>
<div style="left:112.00px;top:1811.30px;width:670.70px;height:0.60px;background:#f3f3f3;"></div>
<div style="left:112.00px;top:1830.60px;width:670.70px;height:0.60px;background:#f3f3f3;"></div>
<div style="left:112.00px;top:1849.90px;width:670.70px;height:19.30px;background:#f9f9f9;"></div>
<div style="left:112.00px;top:1849.90px;width:670.70px;height:0.60px;background:#f3f3f3;"></div>
<div style="left:112.00px;top:1869.20px;width:670.70px;height:0.60px;background:#f3f3f3;"></div>
<div style="left:112.00px;top:1694.90px;width:670.70px;height:1.00px;background:#ebebeb;"></div>
<div style="left:183.25px;top:1679.25px;width:0.60px;height:209.25px;background:#f2f2f2;"></div>
<div style="left:253.00px;top:1679.25px;width:0.60px;height:209.25px;background:#f2f2f2;"></div>
<div style="left:306.00px;top:1679.25px;width:0.60px;height:209.25px;background:#f2f2f2;"></div>
<div style="left:380.30px;top:1679.25px;width:0.60px;height:209.25px;background:#f2f2f2;"></div>
<div style="left:454.20px;top:1679.25px;width:0.60px;height:209.25px;background:#f2f2f2;"></div>
<div style="left:632.30px;top:1679.25px;width:0.60px;height:209.25px;background:#f2f2f2;"></div>
<div style="left:746.40px;top:1679.25px;width:0.60px;height:209.25px;background:#f2f2f2;"></div>
<div style="left:118.65px;top:1684.28px;width:5.20px;height:5.20px;background:#eeeeee;border:0.6px solid #c4c4c4;border-radius:1px;box-sizing:border-box;"></div>
<div class="ct" style="left:156.88px;top:1687.08px;font-size:23.400px;color:#333;font-weight:normal;-webkit-text-stroke:0.680px #333;">管理员ID</div>
<div class="ct" style="left:218.12px;top:1687.08px;font-size:23.400px;color:#333;font-weight:normal;-webkit-text-stroke:0.680px #333;">昵称</div>
<div class="ct" style="left:279.50px;top:1687.08px;font-size:23.400px;color:#333;font-weight:normal;-webkit-text-stroke:0.680px #333;">变更余额</div>
<div class="ct" style="left:343.15px;top:1687.08px;font-size:23.400px;color:#333;font-weight:normal;-webkit-text-stroke:0.680px #333;">变更前余额</div>
<div class="ct" style="left:417.25px;top:1687.08px;font-size:23.400px;color:#333;font-weight:normal;-webkit-text-stroke:0.680px #333;">变更后余额</div>
<div class="ct" style="left:543.25px;top:1687.08px;font-size:23.400px;color:#333;font-weight:normal;-webkit-text-stroke:0.680px #333;">备注</div>
<div class="ct" style="left:689.35px;top:1687.08px;font-size:23.400px;color:#333;font-weight:normal;-webkit-text-stroke:0.680px #333;">创建时间</div>
<div class="ct" style="left:764.55px;top:1687.08px;font-size:23.400px;color:#333;font-weight:normal;-webkit-text-stroke:0.680px #333;">操作</div>
<div style="left:118.65px;top:1702.05px;width:5.20px;height:5.20px;background:#eeeeee;border:0.6px solid #c4c4c4;border-radius:1px;box-sizing:border-box;"></div>
<div class="ct" style="left:156.88px;top:1705.45px;font-size:23.600px;color:#3a3a3a;font-weight:normal;-webkit-text-stroke:0.280px #3a3a3a;"><span style="-webkit-text-stroke:0.140px #3a3a3a;">1</span></div>
<div class="ct" style="left:218.12px;top:1705.45px;font-size:23.600px;color:#3a3a3a;font-weight:normal;-webkit-text-stroke:0.280px #3a3a3a;">刀春源码网</div>
<div class="ct" style="left:279.50px;top:1705.45px;font-size:23.600px;color:#3a3a3a;font-weight:normal;-webkit-text-stroke:0.280px #3a3a3a;"><span style="-webkit-text-stroke:0.140px #3a3a3a;">50.00</span></div>
<div class="ct" style="left:343.15px;top:1705.45px;font-size:23.600px;color:#3a3a3a;font-weight:normal;-webkit-text-stroke:0.280px #3a3a3a;"><span style="-webkit-text-stroke:0.140px #3a3a3a;">9999450.00</span></div>
<div class="ct" style="left:417.25px;top:1705.45px;font-size:23.600px;color:#3a3a3a;font-weight:normal;-webkit-text-stroke:0.280px #3a3a3a;"><span style="-webkit-text-stroke:0.140px #3a3a3a;">9999400.00</span></div>
<div class="ct" style="left:543.25px;top:1705.45px;font-size:23.600px;color:#3a3a3a;font-weight:normal;-webkit-text-stroke:0.280px #3a3a3a;">卡类：测试，单价：<span style="-webkit-text-stroke:0.140px #3a3a3a;">50.00</span>，数量：<span style="-webkit-text-stroke:0.140px #3a3a3a;">1</span></div>
<div class="ct" style="left:689.35px;top:1705.45px;font-size:23.600px;color:#3a3a3a;font-weight:normal;-webkit-text-stroke:0.280px #3a3a3a;"><span style="-webkit-text-stroke:0.140px #3a3a3a;">2022-08-13 22:52:57</span></div>
<div style="left:760.15px;top:1700.75px;width:8.80px;height:9.00px;background:#f3402f;border-radius:1.2px;"></div>
<svg class="ic" style="left:762.45px;top:1703.15px;width:4.4px;height:4.4px;color:#fff" viewBox="0 0 16 16"><rect x="2" y="2" width="12" height="2.5" fill="currentColor"/><rect x="6" y="0.5" width="4" height="2" fill="currentColor"/><path d="M3 5.5 H13 L12 15.5 H4Z" fill="currentColor"/></svg>
<div style="left:118.65px;top:1721.35px;width:5.20px;height:5.20px;background:#eeeeee;border:0.6px solid #c4c4c4;border-radius:1px;box-sizing:border-box;"></div>
<div class="ct" style="left:156.88px;top:1724.75px;font-size:23.600px;color:#3a3a3a;font-weight:normal;-webkit-text-stroke:0.280px #3a3a3a;"><span style="-webkit-text-stroke:0.140px #3a3a3a;">1</span></div>
<div class="ct" style="left:218.12px;top:1724.75px;font-size:23.600px;color:#3a3a3a;font-weight:normal;-webkit-text-stroke:0.280px #3a3a3a;">刀春源码网</div>
<div class="ct" style="left:279.50px;top:1724.75px;font-size:23.600px;color:#3a3a3a;font-weight:normal;-webkit-text-stroke:0.280px #3a3a3a;"><span style="-webkit-text-stroke:0.140px #3a3a3a;">50.00</span></div>
<div class="ct" style="left:343.15px;top:1724.75px;font-size:23.600px;color:#3a3a3a;font-weight:normal;-webkit-text-stroke:0.280px #3a3a3a;"><span style="-webkit-text-stroke:0.140px #3a3a3a;">9999500.00</span></div>
<div class="ct" style="left:417.25px;top:1724.75px;font-size:23.600px;color:#3a3a3a;font-weight:normal;-webkit-text-stroke:0.280px #3a3a3a;"><span style="-webkit-text-stroke:0.140px #3a3a3a;">9999450.00</span></div>
<div class="ct" style="left:543.25px;top:1724.75px;font-size:23.600px;color:#3a3a3a;font-weight:normal;-webkit-text-stroke:0.280px #3a3a3a;">卡类：测试，单价：<span style="-webkit-text-stroke:0.140px #3a3a3a;">50.00</span>，数量：<span style="-webkit-text-stroke:0.140px #3a3a3a;">1</span></div>
<div class="ct" style="left:689.35px;top:1724.75px;font-size:23.600px;color:#3a3a3a;font-weight:normal;-webkit-text-stroke:0.280px #3a3a3a;"><span style="-webkit-text-stroke:0.140px #3a3a3a;">2022-08-13 22:52:57</span></div>
<div style="left:760.15px;top:1720.05px;width:8.80px;height:9.00px;background:#f3402f;border-radius:1.2px;"></div>
<svg class="ic" style="left:762.45px;top:1722.45px;width:4.4px;height:4.4px;color:#fff" viewBox="0 0 16 16"><rect x="2" y="2" width="12" height="2.5" fill="currentColor"/><rect x="6" y="0.5" width="4" height="2" fill="currentColor"/><path d="M3 5.5 H13 L12 15.5 H4Z" fill="currentColor"/></svg>
<div style="left:118.65px;top:1740.65px;width:5.20px;height:5.20px;background:#eeeeee;border:0.6px solid #c4c4c4;border-radius:1px;box-sizing:border-box;"></div>
<div class="ct" style="left:156.88px;top:1744.05px;font-size:23.600px;color:#3a3a3a;font-weight:normal;-webkit-text-stroke:0.280px #3a3a3a;"><span style="-webkit-text-stroke:0.140px #3a3a3a;">1</span></div>
<div class="ct" style="left:218.12px;top:1744.05px;font-size:23.600px;color:#3a3a3a;font-weight:normal;-webkit-text-stroke:0.280px #3a3a3a;">刀春源码网</div>
<div class="ct" style="left:279.50px;top:1744.05px;font-size:23.600px;color:#3a3a3a;font-weight:normal;-webkit-text-stroke:0.280px #3a3a3a;"><span style="-webkit-text-stroke:0.140px #3a3a3a;">50.00</span></div>
<div class="ct" style="left:343.15px;top:1744.05px;font-size:23.600px;color:#3a3a3a;font-weight:normal;-webkit-text-stroke:0.280px #3a3a3a;"><span style="-webkit-text-stroke:0.140px #3a3a3a;">9999550.00</span></div>
<div class="ct" style="left:417.25px;top:1744.05px;font-size:23.600px;color:#3a3a3a;font-weight:normal;-webkit-text-stroke:0.280px #3a3a3a;"><span style="-webkit-text-stroke:0.140px #3a3a3a;">9999500.00</span></div>
<div class="ct" style="left:543.25px;top:1744.05px;font-size:23.600px;color:#3a3a3a;font-weight:normal;-webkit-text-stroke:0.280px #3a3a3a;">卡类：测试，单价：<span style="-webkit-text-stroke:0.140px #3a3a3a;">50.00</span>，数量：<span style="-webkit-text-stroke:0.140px #3a3a3a;">1</span></div>
<div class="ct" style="left:689.35px;top:1744.05px;font-size:23.600px;color:#3a3a3a;font-weight:normal;-webkit-text-stroke:0.280px #3a3a3a;"><span style="-webkit-text-stroke:0.140px #3a3a3a;">2022-08-13 22:52:56</span></div>
<div style="left:760.15px;top:1739.35px;width:8.80px;height:9.00px;background:#f3402f;border-radius:1.2px;"></div>
<svg class="ic" style="left:762.45px;top:1741.75px;width:4.4px;height:4.4px;color:#fff" viewBox="0 0 16 16"><rect x="2" y="2" width="12" height="2.5" fill="currentColor"/><rect x="6" y="0.5" width="4" height="2" fill="currentColor"/><path d="M3 5.5 H13 L12 15.5 H4Z" fill="currentColor"/></svg>
<div style="left:118.65px;top:1759.95px;width:5.20px;height:5.20px;background:#eeeeee;border:0.6px solid #c4c4c4;border-radius:1px;box-sizing:border-box;"></div>
<div class="ct" style="left:156.88px;top:1763.35px;font-size:23.600px;color:#3a3a3a;font-weight:normal;-webkit-text-stroke:0.280px #3a3a3a;"><span style="-webkit-text-stroke:0.140px #3a3a3a;">1</span></div>
<div class="ct" style="left:218.12px;top:1763.35px;font-size:23.600px;color:#3a3a3a;font-weight:normal;-webkit-text-stroke:0.280px #3a3a3a;">刀春源码网</div>
<div class="ct" style="left:279.50px;top:1763.35px;font-size:23.600px;color:#3a3a3a;font-weight:normal;-webkit-text-stroke:0.280px #3a3a3a;"><span style="-webkit-text-stroke:0.140px #3a3a3a;">50.00</span></div>
<div class="ct" style="left:343.15px;top:1763.35px;font-size:23.600px;color:#3a3a3a;font-weight:normal;-webkit-text-stroke:0.280px #3a3a3a;"><span style="-webkit-text-stroke:0.140px #3a3a3a;">9999600.00</span></div>
<div class="ct" style="left:417.25px;top:1763.35px;font-size:23.600px;color:#3a3a3a;font-weight:normal;-webkit-text-stroke:0.280px #3a3a3a;"><span style="-webkit-text-stroke:0.140px #3a3a3a;">9999550.00</span></div>
<div class="ct" style="left:543.25px;top:1763.35px;font-size:23.600px;color:#3a3a3a;font-weight:normal;-webkit-text-stroke:0.280px #3a3a3a;">卡类：测试，单价：<span style="-webkit-text-stroke:0.140px #3a3a3a;">50.00</span>，数量：<span style="-webkit-text-stroke:0.140px #3a3a3a;">1</span></div>
<div class="ct" style="left:689.35px;top:1763.35px;font-size:23.600px;color:#3a3a3a;font-weight:normal;-webkit-text-stroke:0.280px #3a3a3a;"><span style="-webkit-text-stroke:0.140px #3a3a3a;">2022-08-13 22:52:56</span></div>
<div style="left:760.15px;top:1758.65px;width:8.80px;height:9.00px;background:#f3402f;border-radius:1.2px;"></div>
<svg class="ic" style="left:762.45px;top:1761.05px;width:4.4px;height:4.4px;color:#fff" viewBox="0 0 16 16"><rect x="2" y="2" width="12" height="2.5" fill="currentColor"/><rect x="6" y="0.5" width="4" height="2" fill="currentColor"/><path d="M3 5.5 H13 L12 15.5 H4Z" fill="currentColor"/></svg>
<div style="left:118.65px;top:1779.25px;width:5.20px;height:5.20px;background:#eeeeee;border:0.6px solid #c4c4c4;border-radius:1px;box-sizing:border-box;"></div>
<div class="ct" style="left:156.88px;top:1782.65px;font-size:23.600px;color:#3a3a3a;font-weight:normal;-webkit-text-stroke:0.280px #3a3a3a;"><span style="-webkit-text-stroke:0.140px #3a3a3a;">1</span></div>
<div class="ct" style="left:218.12px;top:1782.65px;font-size:23.600px;color:#3a3a3a;font-weight:normal;-webkit-text-stroke:0.280px #3a3a3a;">刀春源码网</div>
<div class="ct" style="left:279.50px;top:1782.65px;font-size:23.600px;color:#3a3a3a;font-weight:normal;-webkit-text-stroke:0.280px #3a3a3a;"><span style="-webkit-text-stroke:0.140px #3a3a3a;">50.00</span></div>
<div class="ct" style="left:343.15px;top:1782.65px;font-size:23.600px;color:#3a3a3a;font-weight:normal;-webkit-text-stroke:0.280px #3a3a3a;"><span style="-webkit-text-stroke:0.140px #3a3a3a;">9999650.00</span></div>
<div class="ct" style="left:417.25px;top:1782.65px;font-size:23.600px;color:#3a3a3a;font-weight:normal;-webkit-text-stroke:0.280px #3a3a3a;"><span style="-webkit-text-stroke:0.140px #3a3a3a;">9999600.00</span></div>
<div class="ct" style="left:543.25px;top:1782.65px;font-size:23.600px;color:#3a3a3a;font-weight:normal;-webkit-text-stroke:0.280px #3a3a3a;">卡类：测试，单价：<span style="-webkit-text-stroke:0.140px #3a3a3a;">50.00</span>，数量：<span style="-webkit-text-stroke:0.140px #3a3a3a;">1</span></div>
<div class="ct" style="left:689.35px;top:1782.65px;font-size:23.600px;color:#3a3a3a;font-weight:normal;-webkit-text-stroke:0.280px #3a3a3a;"><span style="-webkit-text-stroke:0.140px #3a3a3a;">2022-08-13 22:52:56</span></div>
<div style="left:760.15px;top:1777.95px;width:8.80px;height:9.00px;background:#f3402f;border-radius:1.2px;"></div>
<svg class="ic" style="left:762.45px;top:1780.35px;width:4.4px;height:4.4px;color:#fff" viewBox="0 0 16 16"><rect x="2" y="2" width="12" height="2.5" fill="currentColor"/><rect x="6" y="0.5" width="4" height="2" fill="currentColor"/><path d="M3 5.5 H13 L12 15.5 H4Z" fill="currentColor"/></svg>
<div style="left:118.65px;top:1798.55px;width:5.20px;height:5.20px;background:#eeeeee;border:0.6px solid #c4c4c4;border-radius:1px;box-sizing:border-box;"></div>
<div class="ct" style="left:156.88px;top:1801.95px;font-size:23.600px;color:#3a3a3a;font-weight:normal;-webkit-text-stroke:0.280px #3a3a3a;"><span style="-webkit-text-stroke:0.140px #3a3a3a;">1</span></div>
<div class="ct" style="left:218.12px;top:1801.95px;font-size:23.600px;color:#3a3a3a;font-weight:normal;-webkit-text-stroke:0.280px #3a3a3a;">刀春源码网</div>
<div class="ct" style="left:279.50px;top:1801.95px;font-size:23.600px;color:#3a3a3a;font-weight:normal;-webkit-text-stroke:0.280px #3a3a3a;"><span style="-webkit-text-stroke:0.140px #3a3a3a;">50.00</span></div>
<div class="ct" style="left:343.15px;top:1801.95px;font-size:23.600px;color:#3a3a3a;font-weight:normal;-webkit-text-stroke:0.280px #3a3a3a;"><span style="-webkit-text-stroke:0.140px #3a3a3a;">9999700.00</span></div>
<div class="ct" style="left:417.25px;top:1801.95px;font-size:23.600px;color:#3a3a3a;font-weight:normal;-webkit-text-stroke:0.280px #3a3a3a;"><span style="-webkit-text-stroke:0.140px #3a3a3a;">9999650.00</span></div>
<div class="ct" style="left:543.25px;top:1801.95px;font-size:23.600px;color:#3a3a3a;font-weight:normal;-webkit-text-stroke:0.280px #3a3a3a;">卡类：测试，单价：<span style="-webkit-text-stroke:0.140px #3a3a3a;">50.00</span>，数量：<span style="-webkit-text-stroke:0.140px #3a3a3a;">1</span></div>
<div class="ct" style="left:689.35px;top:1801.95px;font-size:23.600px;color:#3a3a3a;font-weight:normal;-webkit-text-stroke:0.280px #3a3a3a;"><span style="-webkit-text-stroke:0.140px #3a3a3a;">2022-08-13 22:52:56</span></div>
<div style="left:760.15px;top:1797.25px;width:8.80px;height:9.00px;background:#f3402f;border-radius:1.2px;"></div>
<svg class="ic" style="left:762.45px;top:1799.65px;width:4.4px;height:4.4px;color:#fff" viewBox="0 0 16 16"><rect x="2" y="2" width="12" height="2.5" fill="currentColor"/><rect x="6" y="0.5" width="4" height="2" fill="currentColor"/><path d="M3 5.5 H13 L12 15.5 H4Z" fill="currentColor"/></svg>
<div style="left:118.65px;top:1817.85px;width:5.20px;height:5.20px;background:#eeeeee;border:0.6px solid #c4c4c4;border-radius:1px;box-sizing:border-box;"></div>
<div class="ct" style="left:156.88px;top:1821.25px;font-size:23.600px;color:#3a3a3a;font-weight:normal;-webkit-text-stroke:0.280px #3a3a3a;"><span style="-webkit-text-stroke:0.140px #3a3a3a;">1</span></div>
<div class="ct" style="left:218.12px;top:1821.25px;font-size:23.600px;color:#3a3a3a;font-weight:normal;-webkit-text-stroke:0.280px #3a3a3a;">刀春源码网</div>
<div class="ct" style="left:279.50px;top:1821.25px;font-size:23.600px;color:#3a3a3a;font-weight:normal;-webkit-text-stroke:0.280px #3a3a3a;"><span style="-webkit-text-stroke:0.140px #3a3a3a;">50.00</span></div>
<div class="ct" style="left:343.15px;top:1821.25px;font-size:23.600px;color:#3a3a3a;font-weight:normal;-webkit-text-stroke:0.280px #3a3a3a;"><span style="-webkit-text-stroke:0.140px #3a3a3a;">9999750.00</span></div>
<div class="ct" style="left:417.25px;top:1821.25px;font-size:23.600px;color:#3a3a3a;font-weight:normal;-webkit-text-stroke:0.280px #3a3a3a;"><span style="-webkit-text-stroke:0.140px #3a3a3a;">9999700.00</span></div>
<div class="ct" style="left:543.25px;top:1821.25px;font-size:23.600px;color:#3a3a3a;font-weight:normal;-webkit-text-stroke:0.280px #3a3a3a;">卡类：测试，单价：<span style="-webkit-text-stroke:0.140px #3a3a3a;">50.00</span>，数量：<span style="-webkit-text-stroke:0.140px #3a3a3a;">1</span></div>
<div class="ct" style="left:689.35px;top:1821.25px;font-size:23.600px;color:#3a3a3a;font-weight:normal;-webkit-text-stroke:0.280px #3a3a3a;"><span style="-webkit-text-stroke:0.140px #3a3a3a;">2022-08-13 22:52:56</span></div>
<div style="left:760.15px;top:1816.55px;width:8.80px;height:9.00px;background:#f3402f;border-radius:1.2px;"></div>
<svg class="ic" style="left:762.45px;top:1818.95px;width:4.4px;height:4.4px;color:#fff" viewBox="0 0 16 16"><rect x="2" y="2" width="12" height="2.5" fill="currentColor"/><rect x="6" y="0.5" width="4" height="2" fill="currentColor"/><path d="M3 5.5 H13 L12 15.5 H4Z" fill="currentColor"/></svg>
<div style="left:118.65px;top:1837.15px;width:5.20px;height:5.20px;background:#eeeeee;border:0.6px solid #c4c4c4;border-radius:1px;box-sizing:border-box;"></div>
<div class="ct" style="left:156.88px;top:1840.55px;font-size:23.600px;color:#3a3a3a;font-weight:normal;-webkit-text-stroke:0.280px #3a3a3a;"><span style="-webkit-text-stroke:0.140px #3a3a3a;">1</span></div>
<div class="ct" style="left:218.12px;top:1840.55px;font-size:23.600px;color:#3a3a3a;font-weight:normal;-webkit-text-stroke:0.280px #3a3a3a;">刀春源码网</div>
<div class="ct" style="left:279.50px;top:1840.55px;font-size:23.600px;color:#3a3a3a;font-weight:normal;-webkit-text-stroke:0.280px #3a3a3a;"><span style="-webkit-text-stroke:0.140px #3a3a3a;">50.00</span></div>
<div class="ct" style="left:343.15px;top:1840.55px;font-size:23.600px;color:#3a3a3a;font-weight:normal;-webkit-text-stroke:0.280px #3a3a3a;"><span style="-webkit-text-stroke:0.140px #3a3a3a;">9999800.00</span></div>
<div class="ct" style="left:417.25px;top:1840.55px;font-size:23.600px;color:#3a3a3a;font-weight:normal;-webkit-text-stroke:0.280px #3a3a3a;"><span style="-webkit-text-stroke:0.140px #3a3a3a;">9999750.00</span></div>
<div class="ct" style="left:543.25px;top:1840.55px;font-size:23.600px;color:#3a3a3a;font-weight:normal;-webkit-text-stroke:0.280px #3a3a3a;">卡类：测试，单价：<span style="-webkit-text-stroke:0.140px #3a3a3a;">50.00</span>，数量：<span style="-webkit-text-stroke:0.140px #3a3a3a;">1</span></div>
<div class="ct" style="left:689.35px;top:1840.55px;font-size:23.600px;color:#3a3a3a;font-weight:normal;-webkit-text-stroke:0.280px #3a3a3a;"><span style="-webkit-text-stroke:0.140px #3a3a3a;">2022-08-13 22:52:55</span></div>
<div style="left:760.15px;top:1835.85px;width:8.80px;height:9.00px;background:#f3402f;border-radius:1.2px;"></div>
<svg class="ic" style="left:762.45px;top:1838.25px;width:4.4px;height:4.4px;color:#fff" viewBox="0 0 16 16"><rect x="2" y="2" width="12" height="2.5" fill="currentColor"/><rect x="6" y="0.5" width="4" height="2" fill="currentColor"/><path d="M3 5.5 H13 L12 15.5 H4Z" fill="currentColor"/></svg>
<div style="left:118.65px;top:1856.45px;width:5.20px;height:5.20px;background:#eeeeee;border:0.6px solid #c4c4c4;border-radius:1px;box-sizing:border-box;"></div>
<div class="ct" style="left:156.88px;top:1859.85px;font-size:23.600px;color:#3a3a3a;font-weight:normal;-webkit-text-stroke:0.280px #3a3a3a;"><span style="-webkit-text-stroke:0.140px #3a3a3a;">1</span></div>
<div class="ct" style="left:218.12px;top:1859.85px;font-size:23.600px;color:#3a3a3a;font-weight:normal;-webkit-text-stroke:0.280px #3a3a3a;">刀春源码网</div>
<div class="ct" style="left:279.50px;top:1859.85px;font-size:23.600px;color:#3a3a3a;font-weight:normal;-webkit-text-stroke:0.280px #3a3a3a;"><span style="-webkit-text-stroke:0.140px #3a3a3a;">50.00</span></div>
<div class="ct" style="left:343.15px;top:1859.85px;font-size:23.600px;color:#3a3a3a;font-weight:normal;-webkit-text-stroke:0.280px #3a3a3a;"><span style="-webkit-text-stroke:0.140px #3a3a3a;">9999850.00</span></div>
<div class="ct" style="left:417.25px;top:1859.85px;font-size:23.600px;color:#3a3a3a;font-weight:normal;-webkit-text-stroke:0.280px #3a3a3a;"><span style="-webkit-text-stroke:0.140px #3a3a3a;">9999800.00</span></div>
<div class="ct" style="left:543.25px;top:1859.85px;font-size:23.600px;color:#3a3a3a;font-weight:normal;-webkit-text-stroke:0.280px #3a3a3a;">卡类：测试，单价：<span style="-webkit-text-stroke:0.140px #3a3a3a;">50.00</span>，数量：<span style="-webkit-text-stroke:0.140px #3a3a3a;">1</span></div>
<div class="ct" style="left:689.35px;top:1859.85px;font-size:23.600px;color:#3a3a3a;font-weight:normal;-webkit-text-stroke:0.280px #3a3a3a;"><span style="-webkit-text-stroke:0.140px #3a3a3a;">2022-08-13 22:52:55</span></div>
<div style="left:760.15px;top:1855.15px;width:8.80px;height:9.00px;background:#f3402f;border-radius:1.2px;"></div>
<svg class="ic" style="left:762.45px;top:1857.55px;width:4.4px;height:4.4px;color:#fff" viewBox="0 0 16 16"><rect x="2" y="2" width="12" height="2.5" fill="currentColor"/><rect x="6" y="0.5" width="4" height="2" fill="currentColor"/><path d="M3 5.5 H13 L12 15.5 H4Z" fill="currentColor"/></svg>
<div style="left:118.65px;top:1875.75px;width:5.20px;height:5.20px;background:#eeeeee;border:0.6px solid #c4c4c4;border-radius:1px;box-sizing:border-box;"></div>
<div class="ct" style="left:156.88px;top:1879.15px;font-size:23.600px;color:#3a3a3a;font-weight:normal;-webkit-text-stroke:0.280px #3a3a3a;"><span style="-webkit-text-stroke:0.140px #3a3a3a;">1</span></div>
<div class="ct" style="left:218.12px;top:1879.15px;font-size:23.600px;color:#3a3a3a;font-weight:normal;-webkit-text-stroke:0.280px #3a3a3a;">刀春源码网</div>
<div class="ct" style="left:279.50px;top:1879.15px;font-size:23.600px;color:#3a3a3a;font-weight:normal;-webkit-text-stroke:0.280px #3a3a3a;"><span style="-webkit-text-stroke:0.140px #3a3a3a;">50.00</span></div>
<div class="ct" style="left:343.15px;top:1879.15px;font-size:23.600px;color:#3a3a3a;font-weight:normal;-webkit-text-stroke:0.280px #3a3a3a;"><span style="-webkit-text-stroke:0.140px #3a3a3a;">9999900.00</span></div>
<div class="ct" style="left:417.25px;top:1879.15px;font-size:23.600px;color:#3a3a3a;font-weight:normal;-webkit-text-stroke:0.280px #3a3a3a;"><span style="-webkit-text-stroke:0.140px #3a3a3a;">9999850.00</span></div>
<div class="ct" style="left:543.25px;top:1879.15px;font-size:23.600px;color:#3a3a3a;font-weight:normal;-webkit-text-stroke:0.280px #3a3a3a;">卡类：测试，单价：<span style="-webkit-text-stroke:0.140px #3a3a3a;">50.00</span>，数量：<span style="-webkit-text-stroke:0.140px #3a3a3a;">1</span></div>
<div class="ct" style="left:689.35px;top:1879.15px;font-size:23.600px;color:#3a3a3a;font-weight:normal;-webkit-text-stroke:0.280px #3a3a3a;"><span style="-webkit-text-stroke:0.140px #3a3a3a;">2022-08-13 22:52:55</span></div>
<div style="left:760.15px;top:1874.45px;width:8.80px;height:9.00px;background:#f3402f;border-radius:1.2px;"></div>
<svg class="ic" style="left:762.45px;top:1876.85px;width:4.4px;height:4.4px;color:#fff" viewBox="0 0 16 16"><rect x="2" y="2" width="12" height="2.5" fill="currentColor"/><rect x="6" y="0.5" width="4" height="2" fill="currentColor"/><path d="M3 5.5 H13 L12 15.5 H4Z" fill="currentColor"/></svg>
<div class="t" style="left:112.00px;top:1896.10px;font-size:23.200px;color:#333;font-weight:normal;-webkit-text-stroke:0.280px #333;">显示第<span style="-webkit-text-stroke:0.140px #333;"> 1 </span>到第<span style="-webkit-text-stroke:0.140px #333;"> 10 </span>条记录，总共<span style="-webkit-text-stroke:0.140px #333;"> 12 </span>条记录<span style="-webkit-text-stroke:0.140px #333;"> </span>每页显示</div>
<div style="left:246.00px;top:1893.50px;width:21.00px;height:13.20px;background:#f4f4f4;border:0.6px solid #e2e2e2;border-radius:1.5px;box-sizing:border-box;"></div>
<div class="t" style="left:250.50px;top:1895.90px;font-size:22.400px;color:#333;font-weight:normal;-webkit-text-stroke:0.280px #333;"><span style="-webkit-text-stroke:0.140px #333;">10</span></div>
<svg class="ic" style="left:258.50px;top:1898.30px;width:3.5px;height:3.5px;color:#333" viewBox="0 0 16 16"><path d="M3 11 L13 11 L8 5Z" fill="currentColor"/></svg>
<div class="t" style="left:268.80px;top:1896.10px;font-size:23.000px;color:#333;font-weight:normal;-webkit-text-stroke:0.280px #333;">条记录</div>
<div style="left:653.75px;top:1893.00px;width:55.00px;height:14.00px;background:#fff;"></div>
<div style="left:653.75px;top:1893.00px;width:27.50px;height:14.00px;background:#f9f9f9;border:0.6px solid #e4e4e4;box-sizing:border-box;border-radius:1.5px 0 0 1.5px;"></div>
<div class="ct" style="left:667.50px;top:1900.30px;font-size:23.000px;color:#777;font-weight:normal;-webkit-text-stroke:0.280px #777;">上一页</div>
<div style="left:681.25px;top:1893.00px;width:13.75px;height:14.00px;background:#444c69;"></div>
<div class="ct" style="left:688.10px;top:1900.30px;font-size:23.000px;color:#fff;font-weight:bold;-webkit-text-stroke:0.280px #fff;"><span style="-webkit-text-stroke:0.140px #fff;">1</span></div>
<div style="left:695.00px;top:1893.00px;width:13.75px;height:14.00px;background:#fff;border:0.6px solid #e4e4e4;box-sizing:border-box;"></div>
<div class="ct" style="left:701.90px;top:1900.30px;font-size:23.000px;color:#555;font-weight:normal;-webkit-text-stroke:0.280px #555;"><span style="-webkit-text-stroke:0.140px #555;">2</span></div>
<div style="left:708.75px;top:1893.00px;width:28.00px;height:14.00px;background:#f9f9f9;border:0.6px solid #e4e4e4;box-sizing:border-box;border-radius:0 1.5px 1.5px 0;"></div>
<div class="ct" style="left:722.75px;top:1900.30px;font-size:23.000px;color:#777;font-weight:normal;-webkit-text-stroke:0.280px #777;">下一页</div>
<div style="left:738.25px;top:1893.00px;width:21.00px;height:14.00px;background:#fff;border:0.6px solid #ddd;box-sizing:border-box;"></div>
<div style="left:761.25px;top:1893.00px;width:21.25px;height:14.00px;background:#f4f4f4;border:0.6px solid #ddd;box-sizing:border-box;border-radius:1.5px;"></div>
<div class="ct" style="left:771.90px;top:1900.30px;font-size:23.000px;color:#333;font-weight:normal;-webkit-text-stroke:0.280px #333;">跳转</div>
</body></html>
